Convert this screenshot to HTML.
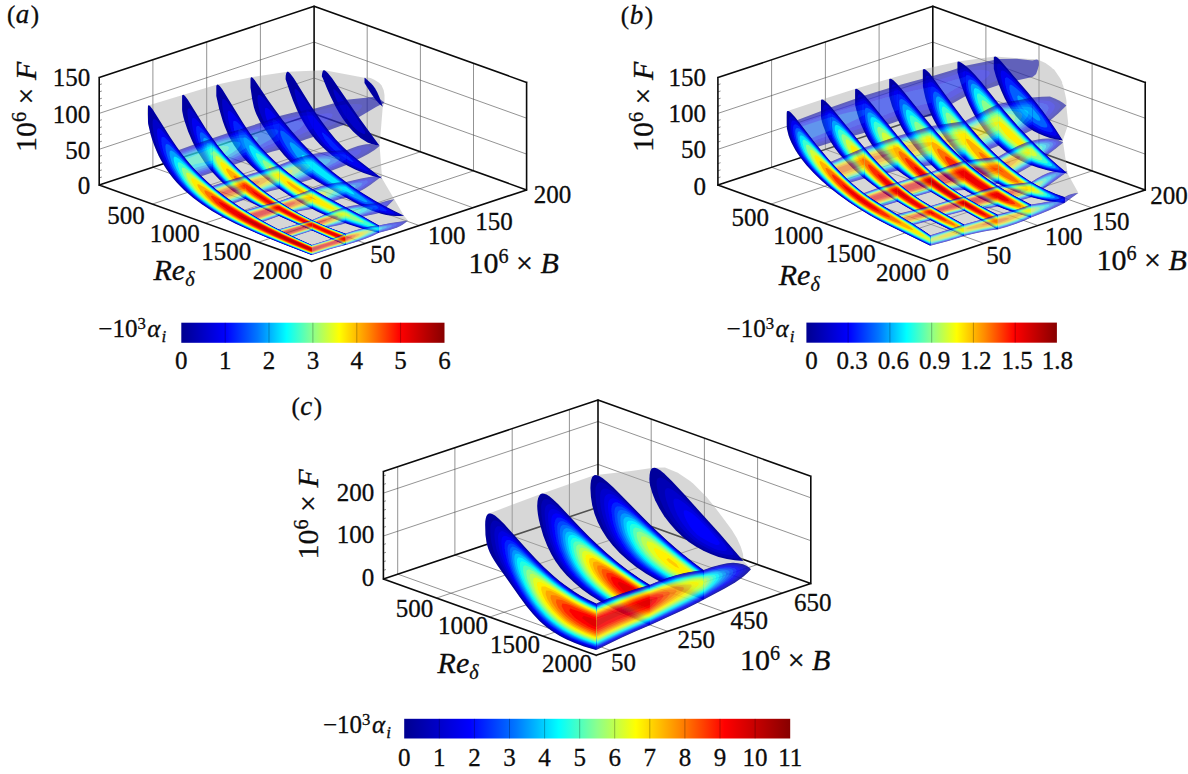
<!DOCTYPE html><html><head><meta charset="utf-8"><style>html,body{margin:0;padding:0;background:#fff}svg{display:block}</style></head><body><svg width="1188" height="774" viewBox="0 0 1188 774">
<defs><linearGradient id="jet" x1="0" x2="1" y1="0" y2="0"><stop offset="0.0" stop-color="#00008f"/><stop offset="0.17" stop-color="#0000ff"/><stop offset="0.29" stop-color="#0078ff"/><stop offset="0.4" stop-color="#00ffff"/><stop offset="0.5" stop-color="#8cff8c"/><stop offset="0.6" stop-color="#ffff00"/><stop offset="0.71" stop-color="#ff8c00"/><stop offset="0.83" stop-color="#ff0000"/><stop offset="1.0" stop-color="#870000"/></linearGradient><filter id="bl" x="-2%" y="-2%" width="104%" height="104%"><feGaussianBlur stdDeviation="0.55"/></filter></defs>
<style>
text{font-family:"Liberation Serif",serif;fill:#0c0c0c;font-size:25px;stroke:#0c0c0c;stroke-width:0.3px}
.i{font-style:italic}
.L{font-size:30px}
.g{fill:none;stroke:#4a4a4a;stroke-width:0.6}
.b{fill:none;stroke:#0a0a0a;stroke-width:1.6;stroke-linecap:square}
</style>
<rect width="1188" height="774" fill="#fff"/>
<path class="g" d="M152.9 167.3L152.9 59.8M152.9 167.3L365.4 243.4M206.7 149.4L206.7 41.9M206.7 149.4L419.1 225.5M260.4 131.6L260.4 24.1M260.4 131.6L472.9 207.7M367.2 132.8L367.2 25.3M152.3 204.1L367.2 132.8M420.4 151.8L420.4 44.3M205.4 223.1L420.4 151.8M473.5 170.9L473.5 63.4M258.6 242.2L473.5 170.9M99.2 149.3L314.1 78M314.1 78L526.6 154.1M99.2 113.4L314.1 42.1M314.1 42.1L526.6 118.2M99.2 177.9L101.9 177M99.2 170.8L101.9 169.9M99.2 163.6L101.9 162.7M99.2 156.4L101.9 155.5M99.2 142.1L101.9 141.2M99.2 134.9L101.9 134M99.2 127.8L101.9 126.9M99.2 120.6L101.9 119.7M99.2 106.3L101.9 105.4M99.2 99.1L101.9 98.2M99.2 91.9L101.9 91M99.2 84.8L101.9 83.9"/>
<path class="b" d="M99.2 185.1L311.7 261.2M311.7 261.2L526.6 189.9M99.2 185.1L314.1 113.8M314.1 113.8L526.6 189.9M99.2 185.1L99.2 77.6M314.1 113.8L314.1 6.3M526.6 189.9L526.6 82.4M99.2 77.6L314.1 6.3M314.1 6.3L526.6 82.4"/>
<path fill="#a6a6a6" fill-opacity="0.45" d="M217.3 84.6l-69.1 20.8-.6 1-.5 2.6-.1 4.9 1.2 10.1 2.9 12.3 3.7 10.7 4.9 10.8 5.3 9.3 6.2 8.8 6.2 7.3 6.9 7 7.6 6.7 9.6 7.2 9.1 6 11.3 6.5 12.2 6.3 13.2 6.2 25.2 10.6 39.2 15.3 18.1-5.8 16.8-4.4 11.3-3.5 11.8-4.2 9.3-4.4 16.5-4.5 7-3.4 5.4-4.4-4.1-5-21.7-37-2.5-32.6 3.1-38.2 1.8-5.5 0-7.2-.8-4.6-2.2-5-2.4-2.6-5.2-3.2-3.4-1.4-2.7-.5-3.4 .1-4-.6-35.9-6.8-37 1.4-36.3 5.5z"/>
<g filter="url(#bl)">
<g opacity="0.55"><path fill="#0000a2" d="M380.4 104.8l0-.3 0-4.9 4 2.9-1.9 1.5z"/></g>
<g><path fill="#0000a2" d="M364.5 83.1l0-5.3 .6 .2 .9 .7 5.2 4.8 2 2.3 1.8 2.5 2.1 3.7 1.9 4.2 1.8 4.8 2 5.8-4.1-3.6-4.1-4.8-3.5-4.9z"/></g>
<g opacity="0.55"><path fill="#0000a2" d="M346.8 124.1l0-24.3 21.1-2.4 4.9-.3 2.1 .2 2.2 .4 1.6 .7 1.7 1.2 0 5.2-4.4 2.3-16.8 10z"/><path fill="#0000c9" d="M346.8 118.4l0-14.1 8.9-.3 3.9 .2 1.9 .6 .6 .9-.3 1.2-1.1 1.5-2 1.9-3.4 2.7z"/></g>
<g><path fill="#0000a2" d="M321.9 77.1l0-1 0-.9 .2-1.5 .6-2.4 .4-.6 .4-.4 .6 0 .8 .2 1.3 .9 1.6 1.5 4.3 5.4 25.8 37.6 10.7 14.9 11 15-4.1-.7-4-1.1-3.9-1.6-3.6-2.1-3.6-2.4-3.7-3.1-3.6-3.4-3.8-4.2-3.5-4.4-3.3-4.6-3.3-5.3-3.3-5.7-5.3-10.6-3.3-7.4-4.6-11.3-.7-1.1z"/><path fill="#0000c9" d="M333.5 91.2l-.2-1.6 .4-.7 1.3 .8 3.3 3.6 7.2 9.2 9.2 12.6 7.1 10.6 3.2 5.9 .4 1.3-.2 .7-.6 .4-1.1-.1-.9-.3-1.7-.8-3-1.9-4.4-4-4.5-5.4-5.1-7.5-4.7-8.5-3.5-7.4-1.5-4.1z"/></g>
<g opacity="0.55"><path fill="#0000a2" d="M313.2 136.9l0-27.9 33.6-9.2 0 24.3-7.1 2.1-7.5 2.8-8.7 3.5z"/><path fill="#0000c9" d="M313.2 133.6l0-21.9 20.6-5.1 7.6-1.6 5.4-.7 0 14.1z"/><path fill="#0000f0" d="M313.2 128.5l0-12.9 4.9-1 8.9-1.3 4.3 .2 1.4 1.2-.7 1.8-2.4 2.4-1.2 .8-3.8 2.6z"/></g>
<g opacity="0.55"><path fill="#0000a2" d="M346.4 164.9l0-14.7 6.5-2.5 4.9-1.7 4.3-1.1 3.8-.7 3.8-.2 3.2 .2 3.3 .7 3.4 1.2-5 3.9-6 3.7-7.6 4z"/><path fill="#0000c9" d="M346.4 163.6l0-12.4 8.1-2.9 6.8-1.7 3-.3 2.7-.1 1.7 .2 1.2 .4 .7 .4 .2 .5-.1 .6-1.1 1.4-3.7 3-8.7 5.2z"/><path fill="#0000f0" d="M346.4 161.9l0-9.3 4.9-1.6 4.9-1.1 3.1-.3 1.3 .4 .5 .6-.3 .9-.7 1.1-1.4 1.4-4.7 3.3z"/><path fill="#0024ff" d="M346.4 158.9l0-3.9 2.2-.2 .9 .5-.5 1.1-1.5 1.6z"/></g>
<g opacity="0.55"><path fill="#0000a2" d="M379.6 178l0-1.4 2.3-.3-1.2 .9z"/></g>
<g><path fill="#0000a2" d="M285.6 79.2l.1-3.4 .5-2.6 .8-1.3 .4-.2 .7 .1 1 .7 1.3 1.2 3.4 4.6 17 27.1 9.9 14.6 7.8 10.5 7.3 8.9 7.3 7.6 7.7 7.1 7.4 6 23.9 18.5-9.5-2.6-8.9-3-8.5-3.6-8-4-7.5-4.5-7-4.9-6.5-5.4-6.1-5.8-5-5.6-5.2-6.6-4.6-7-4.5-7.8-3.9-8-3.8-9-3.2-8.7z"/><path fill="#0000c9" d="M294.6 91.8l-.1-1.5 .3-1.2 .7-.3 1.4 .9 2.6 2.8 6.5 8.9 11.5 16.4 6.4 8.5 8.8 10.8 8.3 9 6.2 5.9 6.5 5.5 25.7 19.6-8.3-2.6-8.2-3-7.7-3.3-6.6-3.3-6.9-4.2-5.9-4-5.5-4.5-5.8-5.3-5.4-5.9-5-6.2-4.2-6-4.2-7.3-3.8-7.6-3.4-8.2-2.7-8.2z"/><path fill="#0000f0" d="M306.5 112.9l-.2-2.1 .5-.9 1.7 .8 3.4 3.4 16 19.3 6.7 7.5 5.1 5.4 4.7 4.6 4.2 3.7 17.2 13.8 1.7 1.5 .5 .7-.3 .3-2.6-.4-5.3-1.9-5.3-2.3-5.2-2.7-5.6-3.4-4.6-3.2-4.5-3.4-4.3-3.8-4.1-4.1-3.9-4.4-3.8-4.8-3.4-5-2.8-4.6-3.1-6.1-1.7-4.5z"/><path fill="#0024ff" d="M322.6 135l-.7-2.3 1.3 0 4.1 3.5 12.4 12.5 6.8 6.4 5.5 4.8 1.6 1.9-.8 .2-1.3-.5-2.1-.9-3.6-2.1-5.4-3.5-5.8-4.7-4.1-3.9-3.8-4.7-1.8-2.5-1-1.8z"/></g>
<g opacity="0.55"><path fill="#0000a2" d="M279.6 149.8l0-33.7 10.9-2.9 8.6-2 7.6-1.4 6.5-.8 0 27.9-7 2.3-8.2 3z"/><path fill="#0000c9" d="M279.6 147.4l0-29.4 10.9-2.8 8.1-1.8 7.6-1.2 7-.5 0 21.9-15.7 6.1z"/><path fill="#0000f0" d="M279.6 144.3l0-24 11.4-2.6 9.2-1.6 6-.6 7 .1 0 12.9-5.8 3z"/><path fill="#0024ff" d="M279.6 140.2l0-16.6 8.6-1.8 5-.5 4.9-.3 4.5 .7 1.3 1.6-.7 2-2.4 2.6-4.7 3.4-9 5.1z"/></g>
<g opacity="0.55"><path fill="#0000a2" d="M312.8 179l0-24.9 8.7-1.6 8.7-1.3 7.5-.6 8.7-.4 0 14.7-19.5 7.7z"/><path fill="#0000c9" d="M312.8 177.9l0-23 8.7-1.6 8.7-1.2 7.5-.6 8.7-.3 0 12.4-20.6 8.4z"/><path fill="#0000f0" d="M312.8 176.8l0-21 9.2-1.7 8.7-1 8.7-.6 7 .1 0 9.3-4.9 2.2-17.3 7.4z"/><path fill="#0024ff" d="M312.8 175.6l0-18.8 9.8-1.6 10.3-1 3.6-.2 4.5 .2 2 .1 3.4 .7 0 3.9-3.7 2.5-4.9 2.5-14.7 6.6z"/><path fill="#005fff" d="M312.8 174.1l0-16.1 9.2-1.4 9.9-.7 5 .3 2.4 .7 .7 1-.3 1.1-1.4 1.4-2.5 1.8-4.4 2.4z"/><path fill="#00a1ff" d="M312.8 172.2l0-12.7 6.8-1 6.6-.1 3.3 .5 1.1 1-.6 1.4-1.8 1.8-3.5 2.4-5.7 3.3z"/><path fill="#00e9ff" d="M312.8 169.7l0-8.2 2.3-.3 4.1 .3 1.2 1.1-.6 1.6-2.2 2.2z"/></g>
<g opacity="0.55"><path fill="#0000a2" d="M346 197.7l0-15.7 15.2-3.5 8.1-1.5 6-.7 4.3 .3 0 1.4-8.7 6.5-4.8 3.3-3.8 2.2-4.4 2.3z"/><path fill="#0000c9" d="M346 197l0-14.5 15.2-3.3 7.6-1.4 5.9-.7 3.3-.1 1.5 .2-10.2 7.5-6.5 4.2-7 3.7z"/><path fill="#0000f0" d="M346 196.3l0-13.3 14.1-2.8 6.5-1.1 4.5-.5 1.5 0 .7 .2 .3 .3-.6 1-2.1 2-3.8 2.8-3.7 2.6-7.1 4z"/><path fill="#0024ff" d="M346 195.4l0-11.7 12.5-2.3 5.4-.7 2.5-.1 1.1 .3 .4 .4-.2 .7-.6 .9-1.2 1.1-1.9 1.6-3.3 2.3-6.3 3.5z"/><path fill="#005fff" d="M346 194.5l0-10 4.6-.8 7.3-.9 2.1-.1 1.6 .2 .5 .6-.2 .8-.9 1.1-3.1 2.4-6.2 3.8z"/><path fill="#00a1ff" d="M346 193.2l0-7.7 3.1-.5 4-.2 2.1 .2 .7 .7-.7 1.3-.8 .9-1.9 1.4-3.8 2.5z"/><path fill="#00e9ff" d="M346 191.5l0-4.7 2.8 .2 .8 .7-.4 1.1-1.4 1.4z"/></g>
<g opacity="0.55"><path fill="#0000a2" d="M379.2 213.1l0-10 8.7-2.6 6.4-1.3-7.5 7.5-3.8 3.4z"/><path fill="#0000c9" d="M379.2 212.4l0-8.7 9.1-2.7 3.8-.8-.1 .5-.6 .7-4.6 4.6-3.8 3.3z"/><path fill="#0000f0" d="M379.2 211.5l0-7.1 7-1.9 1.8-.1 .2 .2-.4 .9-1.7 1.9-3.1 2.9z"/><path fill="#0024ff" d="M379.2 210.2l0-4.8 2.9-.5 1 0 .3 .4-.7 1.4z"/></g>
<g><path fill="#0000a2" d="M250.5 87.4l0-8.7 .4-1.1 .4-.4 .4 0 1.2 .7 1.7 2 13.5 20 6.8 9.7 7.9 10.6 8.2 10.1 10 11.4 9.3 9.9 9.1 8.8 9.8 8.5 8.3 6.7 8.7 6.5 9.1 6.3 9.5 6.1 9.9 6 9 5.1 10.7 5.5 9.7 4.7-4.2 .3-4.1 0-4.1-.4-5.4-.8-5.2-1.2-5.1-1.6-5.1-1.9-4.9-2.1-6-2.9-7.1-3.7-35.3-19.7-11.6-7.3-5-3.5-4.7-3.8-3.8-3.3-4.3-4.3-4.1-4.4-4.5-5.4-4.7-6.2-4.8-6.8-6.9-10.2-3.5-5.5-3.2-6.5-1.4-3.5-1.2-3.9-1.7-8z"/><path fill="#0000c9" d="M257.7 102.1l-.2-3.8 .1-1.7 .5-1.3 .9-.6 1.8 .7 3.9 3.7 22.1 27.7 8.7 10 8.8 9.5 6.9 7 7.3 7 6.7 5.9 8.1 6.7 7.4 5.7 7.7 5.6 8 5.5 7.2 4.6 14.9 9 9.2 5 11.4 5.8 1 .6 0 .3-2 .3-5.1-.2-4-.5-5.3-1-3.9-1-5.1-1.7-5-1.9-4.9-2.2-6-2.9-7-3.7-31.4-17.6-11-6.9-9.2-6.7-3.9-3.3-3.8-3.5-6.4-6.7-6.5-8.1-6.9-10.2-5.6-9.2-2.7-5.1-2-4.3-1.9-4.7-1.4-4.4-.8-3.5z"/><path fill="#0000f0" d="M264.9 110.4l.2-2.1 1-.6 2 .7 3 2.6 5.5 5.9 15.9 18 12.6 13.4 6.1 5.9 7.3 6.8 6.7 5.9 7.1 5.8 12.8 9.6 13.7 9.5 15.9 10 18.7 10.4 .9 .7 .3 .4-.2 .3-1.5 .2-3.9-.3-7.9-1.5-8.9-2.9-5-2-4.8-2.2-14-7.3-26.1-14.9-10.2-6.4-9.5-6.9-7.1-6.2-5.9-6-6.2-7.5-5.6-8.2-2.3-3.7-3.4-6-3.8-8.2-1.7-4.7-1.1-3.6-.5-3z"/><path fill="#0024ff" d="M272.7 123.5l-.3-2.5 .5-1.4 1.5 0 3 1.9 6.1 5.9 12 12.4 12.2 12.2 10.8 10 8.7 7.4 10.3 8 13.2 9.6 15.3 10.2 18.5 11.4 1.8 1.3 .5 .7-.3 .4-1 .2-3.1-.4-7.2-1.7-8-3-7.2-3.3-13.8-7.3-19-10.9-11.5-7.1-8-5.7-6.7-5.5-5.5-5.2-5.2-5.6-4.9-6.3-3.3-4.8-4.4-7.6-2.6-5.7-1.6-4.3z"/><path fill="#005fff" d="M280.2 131.7l.7-1.3 2.3 .8 .9 .6 4.1 3.3 25.7 23.9 6.5 5.7 6.8 5.6 9.2 7.2 13.1 9.5 9.3 6.4 15.5 10.4 2.5 1.9 .8 1-.4 .5-1.4 .1-2.7-.5-4.6-1.5-7.3-3-7.1-3.5-12.3-6.7-13.6-8.1-11.6-7.3-6.3-4.5-6-5-6.5-6.2-3.8-4.2-4.4-5.6-4.2-6.4-2.6-4.9-1-2.1-1.2-3.6z"/><path fill="#00a1ff" d="M289.6 142.9l1.1-.9 3.6 1.9 8.5 7 16.6 14.2 7.8 6.4 9.2 7 26.1 18.8 3.9 3 1.2 1.4-.6 .5-2.1-.3-3.7-1.3-7.1-3.2-5.7-2.9-7.7-4.3-10.5-6.4-9.8-6.3-6.5-4.5-4.5-3.6-5.1-4.7-4.1-4.3-3.9-4.6-4.2-6.3-2-4.1z"/><path fill="#00e9ff" d="M302.6 157.8l-1-2.7 1.8-.1 5.7 3.6 18.1 14.4 19.7 14.4 6 4.9 1.7 2-.9 .3-3.1-1-7.7-3.8-4.4-2.5-9.3-6-12.6-8.6-5.4-4.5-5.2-5.5z"/></g>
<g opacity="0.55"><path fill="#0000a2" d="M246 160.6l0-33.1 15.2-4.9 18.4-6.5 0 33.7-7 1.8-8.1 2.4-8.7 3z"/><path fill="#0000c9" d="M246 158.9l0-30.1 33.6-10.8 0 29.4-7 2.1-8.7 2.8z"/><path fill="#0000f0" d="M246 157l0-26.7 33.6-10 0 24-14.1 5.1z"/><path fill="#0024ff" d="M246 154.7l0-22.6 24.4-6.7 9.2-1.8 0 16.6-5.8 2.7z"/><path fill="#005fff" d="M246 151.9l0-17.5 15.2-3.7 10.7-1.6 4.9 .5 1.6 1.6-.8 2.3-2.7 2.9-5.3 3.7-9.5 5.2z"/><path fill="#00a1ff" d="M246 147.6l0-9.9 3.3-.5 6.5-.6 2.4 1.2-1.2 2.5-2.3 1.8-2.2 1.7z"/></g>
<g opacity="0.55"><path fill="#0000a2" d="M279.2 188.9l0-23.8 10.3-4.2 8.7-3.1 7.6-2.2 7-1.5 0 24.9z"/><path fill="#0000c9" d="M279.2 188.3l0-22.6 9.8-4 8.7-3.1 8.1-2.3 7-1.4 0 23z"/><path fill="#0000f0" d="M279.2 187.6l0-21.4 9.8-3.9 8.7-3 8.1-2.2 7-1.3 0 21z"/><path fill="#0024ff" d="M279.2 186.9l0-20.2 9.8-3.8 8.1-2.7 8.1-2.1 7.6-1.3 0 18.8-15.1 5.2z"/><path fill="#005fff" d="M279.2 186.2l0-18.9 9.8-3.7 8.7-2.7 7.5-1.8 7.6-1.1 0 16.1-16.8 6.2z"/><path fill="#00a1ff" d="M279.2 185.3l0-17.3 9.3-3.4 8.6-2.6 9.2-1.9 6.5-.6 0 12.7-17.4 7.2z"/><path fill="#00e9ff" d="M279.2 184.4l0-15.7 9.8-3.3 8.1-2.2 4.9-1 5.4-.7 5.4 0 0 8.2-6.1 3.2-9.5 4.3z"/><path fill="#3affd0" d="M279.2 183.3l0-13.8 9.8-3.1 8.7-2 6.9-.5 4.2 .5 1.3 1.2-.7 1.8-2.3 2.2-4.2 2.7-8.5 4.5z"/><path fill="#8cff8c" d="M279.2 182l0-11.4 7.6-2.3 8.7-1.7 4.5 .2 1.4 1.2-.8 1.8-1.3 1.3-1.1 1.1-3.8 2.4-7 3.7z"/><path fill="#d0ff3a" d="M279.2 180.4l0-8.6 5.9-1.5 3.9-.4 2.1-.2 1.7 1-.9 1.9-3.2 2.6-6.4 3.7z"/><path fill="#ffed00" d="M279.2 177.9l0-4.1 1.3-.2 2.3 .6-1.2 2z"/></g>
<g opacity="0.55"><path fill="#0000a2" d="M312.4 209l0-20.1 9.3-3.2 8.1-2 8.1-1.3 8.1-.4 0 15.7-4.8 1.1-6.5 2z"/><path fill="#0000c9" d="M312.4 208.5l0-19.2 9.3-3.1 8.1-2 8.1-1.3 8.1-.4 0 14.5-5.4 1.3-5.9 1.9z"/><path fill="#0000f0" d="M312.4 208l0-18.3 9.3-3.1 8.1-2 8.1-1.2 8.1-.4 0 13.3-5.4 1.3-5.9 1.9z"/><path fill="#0024ff" d="M312.4 207.5l0-17.4 8.7-2.8 8.7-2.1 8.6-1.2 7.6-.3 0 11.7-5.9 1.6-6 1.9z"/><path fill="#005fff" d="M312.4 206.9l0-16.3 8.7-2.8 8.7-2 4.7-.7 3.9-.4 7.6-.2 0 10-5.9 1.6-6 2z"/><path fill="#00a1ff" d="M312.4 206.2l0-15.1 8.3-2.6 9.1-2 9.2-1.1 7 .1 0 7.7-6.5 2-5.4 1.9z"/><path fill="#00e9ff" d="M312.4 205.5l0-13.8 8.7-2.6 8.1-1.7 5.5-.6 5.2-.4 6.1 .4 0 4.7-12.4 4.7z"/><path fill="#3affd0" d="M312.4 204.7l0-12.4 8.2-2.3 9.3-1.7 7.2-.3 4.2 .4 1.3 .8-.7 1.1-2.3 1.5-19 9.2z"/><path fill="#8cff8c" d="M312.4 203.8l.1-10.8 8.6-2.2 5.4-.8 2.2-.2 3.8 .3 1.3 .8-.7 1.3-2.2 1.7-3.8 2.4-6 3.3z"/><path fill="#d0ff3a" d="M312.4 202.8l0-9 4.4-1 4.7-.8 3.8 0 1.3 .8-.7 1.4-2.1 2-4.1 2.6z"/><path fill="#ffed00" d="M312.4 201.4l0-6.5 1.7-.3 4.5-.4 1.4 .8-.7 1.5-2.5 2.1z"/><path fill="#ffaf00" d="M312.4 198.8l0-1.1 0-.6 .8 .3z"/></g>
<g opacity="0.55"><path fill="#0000a2" d="M345.7 223.3l0-16.3 5.9-1.3 6.5-.9 21.1-1.7 0 10-3.8 1-6.5 1.2-7 1.8-7.6 2.6z"/><path fill="#0000c9" d="M345.7 222.8l0-15.4 6.5-1.4 6.5-.9 20.5-1.4 0 8.7-3.8 1-7.5 1.6-6.5 1.8-7.1 2.4z"/><path fill="#0000f0" d="M345.7 222.3l0-14.5 7-1.4 7-1 19.5-1 0 7.1-3.8 1.1-7.5 1.8-7.1 2-7 2.5z"/><path fill="#0024ff" d="M345.7 221.8l0-13.6 7.5-1.5 7.6-.9 11.9-.5 6.5 .1 0 4.8-4.3 1.6-9.2 2.5-6.5 2-6 2.2z"/><path fill="#005fff" d="M345.7 221.2l0-12.5 9.4-1.7 5.2-.6 5.4-.2 8.1 .1 2.6 .3 1.4 .5 .5 .5-.3 .7-.8 .8-1.4 .9-2.4 1.1-15.3 4.9-5.9 2.3z"/><path fill="#00a1ff" d="M345.7 220.5l0-11.3 8.6-1.5 8.1-.7 4.4 0 3.8 .3 1.8 .5 .5 .6-.3 .7-.9 .8-1.9 1-13.9 5.1z"/><path fill="#00e9ff" d="M345.7 219.7l0-9.9 6.5-1.1 6.9-.7 5 .1 2.5 .4 .7 .6-.4 .8-1.3 1z"/><path fill="#3affd0" d="M345.7 218.8l0-8.3 5.4-.9 6-.4 3 .3 .9 .6-.5 .9-1.6 1.2z"/><path fill="#8cff8c" d="M345.7 217.7l0-6.3 4.2-.5 1.7 0 1.8 0 1.1 .7-.5 1-2 1.5z"/><path fill="#d0ff3a" d="M345.7 215.9l0-3 .9-.1 1.3 .6-.7 1.2z"/></g>
<g opacity="0.55"><path fill="#0000a2" d="M378.9 232.7l0-7.3 11.9-2.4 17.1-2.6-2.5 2.3-2.2 1.6-2.7 1.7-2.7 1.3-6.5 2.2z"/><path fill="#0000c9" d="M378.9 232.4l0-6.8 7.5-1.5 7.1-1.2 10.3-1.4 1.3 0 .3 .1-1.1 1.2-2.2 1.6-2.3 1.4-3.1 1.4-6.5 2.2z"/><path fill="#0000f0" d="M378.9 232.1l0-6.2 7-1.4 6.5-.9 7.2-.8 1.3 0 .7 .3-.4 .7-1.7 1.2-4.9 2.3-5.5 1.9z"/><path fill="#0024ff" d="M378.9 231.7l0-5.5 5.4-1 5.9-.8 5.4-.3 1 .1 .3 .3-.7 .9-1 .6-3.3 1.6-4.9 1.7z"/><path fill="#005fff" d="M378.9 231.3l0-4.8 8.8-1.2 2.5-.1 1.3 .1 .4 .4-.2 .4-.7 .6-2.4 1.2z"/><path fill="#00a1ff" d="M378.9 230.8l0-3.9 6.2-.6 1.5 .1 .5 .3-.3 .5-.8 .6-1.6 .8z"/><path fill="#00e9ff" d="M378.9 230l0-2.5 3-.1 .6 .4-.4 .5-.9 .7z"/></g>
<g><path fill="#0000a2" d="M216.3 96.1l0-10.3 .6-.9 .8-.3 .8 .4 1.3 1.1 2.8 3.7 20.5 33.3 6 8.8 5.6 7.7 6.1 7.4 6.5 7 7 6.7 7.4 6.6 6.7 5.4 7.1 5.2 7.3 5.1 7.7 4.8 14.9 8.5 36.4 19.4 17.1 9.7 0 7.3-15.5-3.8-8-2.4-7.8-2.6-15-5.6-7.2-3.1-8.2-3.8-6.7-3.4-7.7-4.1-7.3-4.3-7.1-4.5-6.7-4.5-7.4-5.3-6-4.6-6.6-5.4-9.5-8.4-4.7-4.7-3.7-4-3.4-4.1-3.2-4.3-3-4.4-2.8-4.6-2.6-4.8-1.8-4-2.2-5.2-1.9-5.4-3.7-12.3z"/><path fill="#0000c9" d="M222.2 105.2l-.1-3.1 .1-1.6 .3-1.2 .8-.5 1.4 .5 .5 .5 2.2 2.2 1.4 1.9 6 8.2 13.5 19.9 4.7 6.5 5.1 6.2 5.4 6.1 6.8 6.7 6.1 5.7 7.5 6.4 6.8 5.3 7.2 5.2 6.2 4.1 7.7 4.7 15.1 8.5 34.9 18.6 17.1 9.6 0 6.8-15.5-3.9-15.8-5-13.6-5.1-14.1-6.2-13.3-6.7-13.5-7.9-12.5-8.3-6.3-4.7-6-4.7-10.2-8.7-5.1-4.8-3.9-4.1-6.7-7.7-2.7-3.7-3.1-4.8-3-5.1-2.7-5.4-2.1-4.6-1.8-5.1-1.8-5.5-1.2-4.5-1.3-6.6z"/><path fill="#0000f0" d="M228.2 119l-.5-5.5 .2-1.8 .7-.9 1.4 .2 2.7 2.2 3.9 4.4 15.6 20.9 5.1 6.1 4.4 5 5.6 5.7 7 6.6 7.4 6.3 6.7 5.4 11.9 8.5 6.3 4.1 7.9 4.7 13.8 7.7 33.5 17.8 17.1 9.5 0 6.2-15.5-4.1-14.3-4.5-13.6-5-12.9-5.5-12.1-6-12.6-7-11.7-7.5-10.9-7.8-9.9-8-9-8.3-7.3-7.8-3.8-4.5-2.9-3.9-3.3-5.2-2.5-4.5-1.8-3.6-2.3-5.2-2.1-6-1.1-3.6z"/><path fill="#0024ff" d="M233.9 128.9l-.8-5.8 .4-1.8 1-.6 2 .9 3.7 3.5 15.3 18.6 4.4 4.9 4.6 4.7 4.8 4.6 6 5.5 12 9.8 7 5.2 6 4.2 6.3 4 7.9 4.7 13.8 7.7 31.9 16.9 18.7 10.3 0 5.5-15.5-4.2-12.7-4-12.2-4.4-11.6-4.8-11.1-5.1-11.7-6.2-11-6.5-10.3-7-9.5-7.2-9.8-8.4-8-7.8-4.1-4.6-3.1-3.8-4.5-6.2-2.7-4.6-2-3.8-2.4-5.3-1.4-3.8z"/><path fill="#005fff" d="M238.4 133l-.1-1.9 .4-1.6 1.3-.3 2.7 1.8 5.5 5.7 9.9 11.1 10.2 10 6 5.4 7.4 6.1 7.9 6.1 7.1 5.2 11.2 7.3 12 7 12.7 6.9 30.8 16.3 15.5 8.4 0 4.8-15.5-4.3-12.7-4.1-10.7-3.8-11.7-4.8-11.1-5.1-10.6-5.4-11.1-6.5-9.3-6.1-9.8-7.2-8.1-6.8-8.4-8.1-4.4-4.6-2.5-3-5.9-8-4.1-7.1-2.4-5.3-.9-2.6-.5-1.5z"/><path fill="#00a1ff" d="M243.8 141.5l-.4-3.1 .6-1.3 1.8 .4 3.8 3.1 12.1 12.1 9.6 8.6 11.5 9.5 12.7 9.5 11.1 7.3 13.3 7.8 59 31.5 0 3.9-15.5-4.5-11.2-3.5-10.7-3.9-11.8-4.6-9.8-4.4-10.7-5.4-10.1-5.7-8.4-5.2-9-6.4-8.4-6.7-6.9-6.3-7.4-7.7-4.3-5.1-4.9-6.8-3.2-5.7-1.9-4.5z"/><path fill="#00e9ff" d="M250.9 152l-1.4-3.6-.4-2.5 .8-1 2.5 1.2 18.9 16.1 10.4 8.5 10.2 7.6 8.4 5.8 11.5 7.2 13.6 7.7 53.5 28.5 0 2.5-15.5-4.5-9.6-3-12.3-4.3-10.4-4.1-9.8-4.3-8.2-3.9-9-4.9-8.6-5.1-8.2-5.5-7.7-5.8-6.3-5.2-6.9-6.6-6.5-7.3-4.4-5.7-1.9-2.9-1.4-2.4z"/><path fill="#3affd0" d="M256.4 156.5l-.8-2.9 1-.7 3.2 1.6 6 4.5 15.9 12.5 9 6.6 7.2 5.1 7.5 4.8 7.7 4.7 9.5 5.4 46.6 25 5.6 3.2 1.7 1.3-.9 .1-3.1-.6-13.9-4-11-3.6-11.2-4.1-9.5-3.9-8.4-3.8-9.3-4.7-8.9-5-7.2-4.5-5.8-4-7.7-6-6.3-5.4-6.9-7.1-4.7-5.7-3.8-5.7z"/><path fill="#8cff8c" d="M263 163l-.6-2.3 1.2-.6 3.3 1.6 7 4.8 8.9 6.7 11.5 8.2 11.1 7.3 7.7 4.7 12.3 7 29.5 16 7.1 4.2 2.2 1.7-1.1 .3-3.9-.8-7.6-2.2-11.6-3.9-8.9-3.4-8.5-3.6-6.8-3.2-9.2-4.8-7.5-4.3-6.1-3.8-5.7-4.1-6.7-5.3-5.9-5.3-5.4-5.7-2.9-3.8-1.5-2z"/><path fill="#d0ff3a" d="M269.5 168.9l-.7-2.2 1.3-.4 4.1 2.1 22.5 15.5 7.4 4.9 9 5.4 34.7 19.9 2.8 2.2-1.5 .4-4.9-1.2-9.9-3.3-7.4-2.8-7-3-5.4-2.6-12.9-7-6.1-3.8-4.8-3.1-4.5-3.5-4.5-3.7-5.3-4.9-3.1-3.5-2-2.5z"/><path fill="#ffed00" d="M277 175.3l-1-2.4 2 .2 6.9 3.9 19.2 12.9 27.5 16.6 3.4 2.7-1.8 .3-2.1-.6-3.6-1-6.2-2.4-5.5-2.4-5.3-2.7-10.2-5.7-8.4-5.4-5.7-4.5-5.5-5.1z"/><path fill="#ffaf00" d="M288.1 183.7l-1.7-2.6 3.2 1 1.1 .6 26.3 17.5-5.3-1.6-6.3-3.3-6.3-3.6-7.2-4.7z"/></g>
<g opacity="0.55"><path fill="#0000a2" d="M212.5 172.4l0-34.1 18.4-6.2 15.1-4.6 0 33.1z"/><path fill="#0000c9" d="M212.5 171.2l0-32 18.4-6 15.1-4.4 0 30.1z"/><path fill="#0000f0" d="M212.5 170l0-29.9 17.3-5.5 8.7-2.4 7.5-1.9 0 26.7-16.7 6.7z"/><path fill="#0024ff" d="M212.5 168.6l0-27.4 9.7-3 9.2-2.7 9.2-2.3 5.4-1.1 0 22.6-18.4 8z"/><path fill="#005fff" d="M212.5 167.1l0-24.7 9.2-2.8 9.2-2.4 9.7-2.1 5.4-.7 0 17.5-6.5 3.4-10 4.7z"/><path fill="#00a1ff" d="M212.5 165.3l0-21.4 11.9-3.4 7-1.5 8.2-1.3 6.4 0 0 9.9-1 .9-6.1 4.1-9.6 5.2-8.2 3.8z"/><path fill="#00e9ff" d="M212.5 163.2l0-17.7 7-1.8 5.9-1.4 8.7-.9 5 .7 1.4 1.6-.7 2.3-2.5 2.9-4.6 3.7-8.3 4.9z"/><path fill="#3affd0" d="M212.5 160.5l0-12.8 8.6-1.8 2.2-.1 4 .1 1.8 1.6-.9 2.4-3.2 3.2-7 4.5z"/><path fill="#8cff8c" d="M212.5 155.6l0-3.9 2.2 .7-1.7 2.7z"/></g>
<g opacity="0.55"><path fill="#0000a2" d="M245.7 199.3l0-23.7 33.5-10.5 0 23.8-7.5 1.8-8.2 2.4-8.1 2.6z"/><path fill="#0000c9" d="M245.7 198.8l0-22.8 17.3-5.5 16.2-4.8 0 22.6-7.5 1.8-8.2 2.4-8.1 2.7z"/><path fill="#0000f0" d="M245.7 198.3l0-21.9 17.3-5.4 16.2-4.8 0 21.4-7.5 1.9-8.2 2.5-8.1 2.7z"/><path fill="#0024ff" d="M245.7 197.8l0-21 17.3-5.4 16.2-4.7 0 20.2-7 1.8-8.1 2.5-8.7 3z"/><path fill="#005fff" d="M245.7 197.3l0-20.1 17.3-5.3 16.2-4.6 0 18.9-7 1.8-8.1 2.5-8.7 3.1z"/><path fill="#00a1ff" d="M245.7 196.7l0-19 17.3-5.2 16.2-4.5 0 17.3-7 1.9-8.1 2.7-8.7 3z"/><path fill="#00e9ff" d="M245.7 196.1l0-17.9 15.5-4.7 18-4.8 0 15.7-7.5 2.2-7.6 2.5-8.7 3.1z"/><path fill="#3affd0" d="M245.7 195.4l0-16.7 16.2-4.7 17.3-4.5 0 13.8-7 2.1-7 2.4z"/><path fill="#8cff8c" d="M245.7 194.7l0-15.4 17.3-4.9 16.2-3.8 0 11.4-7 2.3-9.2 3.4z"/><path fill="#d0ff3a" d="M245.7 193.8l0-13.9 18.4-4.8 7-1.7 8.1-1.6 0 8.6-15.7 6z"/><path fill="#ffed00" d="M245.7 192.9l0-12.2 11.3-3 5.5-1.2 9.6-1.9 7.1-.8 0 4.1-2 1.1-8.5 3.8z"/><path fill="#ffaf00" d="M245.7 191.9l0-10.4 14.8-3.4 7.3-.8 2.7 .7-1.4 1.8-4.3 2.8-7.4 3.8z"/><path fill="#ff6f00" d="M245.7 190.6l0-8.1 4.4-1 7.5-1 2.4 .7-1.2 1.8-4.2 2.8z"/><path fill="#ff2a00" d="M245.7 188.6l0-4.5 2.3-.4 2.5 .6-1.3 1.9z"/></g>
<g opacity="0.55"><path fill="#0000a2" d="M278.9 215.9l0-14.5 33.5-12.5 0 20.1-9.7 1.5-7.6 1.5-8.1 1.8z"/><path fill="#0000c9" d="M278.9 215.7l0-14.1 33.5-12.3 0 19.2-9.7 1.6-8.1 1.6-8.1 1.9z"/><path fill="#0000f0" d="M278.9 215.4l0-13.6 33.5-12.1 0 18.3-9.7 1.7-8.1 1.7-8.1 1.9z"/><path fill="#0024ff" d="M278.9 215.1l0-13.1 17.8-6.4 15.7-5.5 0 17.4-17.8 3.5-8.1 2z"/><path fill="#005fff" d="M278.9 214.8l0-12.6 17.8-6.3 15.7-5.3 0 16.3-17.8 3.7-8.1 2z"/><path fill="#00a1ff" d="M278.9 214.5l0-12 17.8-6.3 15.7-5.1 0 15.1-18.9 4.3z"/><path fill="#00e9ff" d="M278.9 214.1l0-11.3 19.5-6.7 14-4.4 0 13.8-18.9 4.5z"/><path fill="#3affd0" d="M278.9 213.7l0-10.6 17.8-6.1 15.7-4.7 .1 12.4-20.1 5.1z"/><path fill="#8cff8c" d="M278.9 213.3l0-9.9 19.5-6.4 9.2-2.7 4.8-1.3 0 10.8-21.1 5.8z"/><path fill="#d0ff3a" d="M278.9 212.9l0-9.1 17.8-5.8 8.7-2.5 7-1.7 0 9z"/><path fill="#ffed00" d="M278.9 212.4l0-8.3 11.3-3.6 9.8-2.8 6-1.5 6.4-1.3 0 6.5-9.9 3.5z"/><path fill="#ffaf00" d="M278.9 211.9l0-7.3 13.1-4.1 10.2-2.5 3.3-.7 3.7-.4 2.3-.2 .9 .4-.1 1.9-3.2 2-1.5 .7-6 2.5z"/><path fill="#ff6f00" d="M278.9 211.3l0-6.3 8.1-2.4 8.4-2.2 7.5-1.2 2.2 .5-1.1 1.5-4 2.2-8.1 3.2z"/><path fill="#ff2a00" d="M278.9 210.5l0-4.8 5.1-1.5 8.4-1.9 .7-.1 2.7 .2-1.4 1.4-4.9 2.5z"/><path fill="#ef0000" d="M278.9 209.4l0-2.9 3.2-.8 3.3-.1-1.7 1.5z"/></g>
<g opacity="0.55"><path fill="#0000a2" d="M312.1 230.5l0-10.4 13-5.7 8.1-3.3 6.5-2.4 6-1.7 0 16.3-4.9 1.4-6 1.4z"/><path fill="#0000c9" d="M312.1 230.3l0-10.1 13-5.6 8.1-3.2 6.5-2.3 6-1.7 0 15.4-5.5 1.6-5.9 1.4z"/><path fill="#0000f0" d="M312.1 230.1l0-9.7 11.9-5.1 8.7-3.5 7-2.4 6-1.6 0 14.5-5.5 1.7-5.9 1.5z"/><path fill="#0024ff" d="M312.1 229.9l0-9.4 11.9-5 8.7-3.4 7-2.4 6-1.5 0 13.6-5.5 1.7-5.9 1.6z"/><path fill="#005fff" d="M312.1 229.7l0-9 11.3-4.7 8.7-3.4 7.6-2.4 6-1.5 0 12.5-5.5 1.8-5.9 1.6z"/><path fill="#00a1ff" d="M312.1 229.4l0-8.5 11.3-4.7 8.7-3.2 7.6-2.4 6-1.4 0 11.3-5.5 1.9-7 2.1z"/><path fill="#00e9ff" d="M312.1 229.2l0-8.1 11.9-4.8 9.2-3.3 6.5-1.9 6-1.3 0 9.9-4.9 1.9-7.1 2.2z"/><path fill="#3affd0" d="M312.1 228.9l0-7.7 11.3-4.4 8.7-3 8.1-2.3 5.5-1 0 8.3-5.5 2.3-7.5 2.5z"/><path fill="#8cff8c" d="M312.1 228.7l0-7.2 11.9-4.6 9.2-3 7-1.8 5.5-.7 0 6.3-2.2 1.1-6 2.5-5.4 1.9-8.1 2.3z"/><path fill="#d0ff3a" d="M312.1 228.4l0-6.7 13.5-5 8.1-2.4 4.7-1.1 2.4-.3 2.9-.3 2 .3 0 3-3.1 2.2-4 1.9-4.3 1.8-5.8 1.9z"/><path fill="#ffed00" d="M312.1 228l0-6 11.3-4.1 8.7-2.6 6.7-1.2 3.1 .1 .9 .7-.5 1.2-1.7 1.5-3.3 1.9-3 1.4-3.1 1.2-5.6 1.9z"/><path fill="#ffaf00" d="M312.1 227.7l0-5.4 11.9-4.1 6.5-1.8 2.6-.5 3.8-.3 1.2 .7-.6 1.2-2.1 1.6-4.1 2.1-8 3z"/><path fill="#ff6f00" d="M312.1 227.3l0-4.7 7.6-2.5 6.9-2 4.8-.7 1.4 .5-.7 1.2-2.6 1.6-2.3 1.1-5.4 2.2z"/><path fill="#ff2a00" d="M312.1 226.7l0-3.7 6.7-2.1 3.6-.9 2.7-.5 1.8 .3-1 1.1-3.3 1.8-5.7 2.3z"/><path fill="#ef0000" d="M312.1 226.1l0-2.6 5.3-1.4 2.4-.1-1.2 1.2-4.3 2z"/></g>
<g opacity="0.55"><path fill="#0000a2" d="M345.3 245.1l0-11.5 10.3-3.4 9.2-2.6 7.6-1.5 6.5-.7 0 7.3-6.5 3.2-7.1 2.9-8.6 2.9z"/><path fill="#0000c9" d="M345.3 244.9l0-11.1 10.3-3.4 9.2-2.5 7.6-1.6 6.5-.7 0 6.8-6.5 3.2-7.1 2.8-8.6 3z"/><path fill="#0000f0" d="M345.3 244.7l0-10.7 9.7-3.2 9.2-2.5 7.6-1.6 7.1-.8 0 6.2-6.5 3.1-7.1 2.9-8.6 3.1z"/><path fill="#0024ff" d="M345.3 244.5l0-10.3 9.2-3 9.2-2.5 8.1-1.7 7.1-.8 0 5.5-7.1 3.4-7.6 3.1-9.2 3.2z"/><path fill="#005fff" d="M345.3 244.3l0-10 9.2-2.9 9.2-2.4 8.1-1.6 7.1-.9 0 4.8-7.1 3.3-7 3-8.7 3.1z"/><path fill="#00a1ff" d="M345.3 244l0-9.5 9.2-2.8 9.7-2.5 7.6-1.4 7.1-.9 0 3.9-8.2 3.8-7 2.9-8 3z"/><path fill="#00e9ff" d="M345.3 243.7l0-9 9.7-2.9 8.7-2.1 7-1.3 8.2-.9 0 2.5-3.8 2-5.5 2.5-7.7 3.3-8.5 3.2z"/><path fill="#3affd0" d="M345.3 243.5l0-8.5 8.6-2.6 9.8-2.3 6.6-1.1 4.3-.4 2.4 0 .8 .3-.4 .6-3.8 2.3-8.8 4.3-9.7 3.9z"/><path fill="#8cff8c" d="M345.3 243.1l0-7.9 10.3-2.9 8.1-1.7 5.7-.7 2.5 0 .8 .4-.4 .7-1.4 1.1-6.5 3.4-7.7 3.4z"/><path fill="#d0ff3a" d="M345.3 242.8l0-7.3 6.3-1.8 8.3-1.8 4.8-.7 2.5 0 .9 .4-.5 .8-1.4 1.2-5.2 2.8-7.9 3.4z"/><path fill="#ffed00" d="M345.3 242.5l0-6.8 7-1.8 5.4-1 2.5-.4 2.7-.1 .8 .5-.4 .9-1.5 1.1-2.7 1.6-5.2 2.5z"/><path fill="#ffaf00" d="M345.3 242.1l0-6 5.5-1.4 5.2-.9 2.8-.1 .9 .4-.5 .9-1.6 1.2-2.8 1.6-4.5 2.2z"/><path fill="#ff6f00" d="M345.3 241.6l0-5.2 6.7-1.4 2.9-.1 .9 .4-.4 .9-1.7 1.2-2.9 1.7z"/><path fill="#ff2a00" d="M345.3 241.1l0-4.2 3-.7 2.9-.2 1 .4-.5 .9-1.7 1.3z"/><path fill="#ef0000" d="M345.3 240.3l0-2.9 2.4-.3 1 .5-.5 .9-1.8 1.2z"/></g>
<g><path fill="#0000a2" d="M182.3 111.6l-.2-1.8 0-13.5 .2-1.2 .3-.2 .6-.1 .7 .2 1.1 .9 2.7 3.5 18.3 29.5 5.7 8.2 6.1 8.4 6.8 8.4 6.3 7 6.6 7 7.1 6.8 11.5 9.9 10.9 8.5 11.7 8.2 12.5 7.7 13.2 7.3 12.2 5.9 14.6 6.2 14.1 5.2 0 11.5-63.5-27.9-20.3-9.4-10.6-5.6-8.7-5-8.1-5.3-7.5-5.7-4-3.4-3.8-3.7-7.1-7.7-3.3-4-3.9-5.1-6.1-9.5-3-5.4-2.8-5.3-4.5-10.5-3.4-10-1.3-4.7z"/><path fill="#0000c9" d="M188.5 122.6l-1-8.1 0-3.8 .3-1.3 .6-.9 1.2-.1 2.2 1.8 2.4 2.9 18.3 26.2 6.3 8.2 6.8 8.2 7.4 8.1 6.9 6.8 8.4 7.8 7.8 6.6 9.5 7.4 10.1 7.1 10.7 6.9 11.3 6.5 11.9 6.1 10.6 4.9 11 4.7 14.1 5.2 0 11.1-62-27.2-20.5-9.6-10.6-5.6-8.8-5.1-8.1-5.3-7.6-5.8-7-6.2-3.8-3.8-3.5-4-3.4-4.2-3.2-4.3-5.6-8.8-2.8-5.1-2.5-4.9-2.2-5.2-1.6-4.1-1.3-3.9-1.5-5.3z"/><path fill="#0000f0" d="M192.1 124.4l-.2-3.3 .2-1.8 .6-1.2 1.1-.2 2 1.2 3.9 4.2 19.1 24.9 6.8 8.1 7.4 8 8 7.9 8.6 7.7 9.1 7.5 9.8 7.3 8.7 6 9.2 5.9 9.7 5.5 8.3 4.5 10.4 5.1 9 4 9.3 3.8 12.2 4.5 0 10.7-58.9-25.9-20.8-9.7-10.8-5.6-8.9-5.1-8.4-5.3-6.6-4.9-4.3-3.5-4-3.6-6.6-6.8-5.2-6.4-5.5-8.3-2.7-4.7-2.3-4.4-2.4-5.2-1.4-3.6-2.6-8.2-1-4z"/><path fill="#0024ff" d="M196.5 133.3l-.4-4.7 .2-1.9 .8-.9 1.5 .2 2.5 1.9 2.7 2.9 18.8 22.7 7.2 7.9 7.7 7.9 8.4 7.7 8.9 7.5 9.4 7.4 10.1 7.1 9 5.9 7.9 4.7 8.2 4.5 8.4 4.4 8.8 4.1 9 4 9.4 3.7 10.3 3.9 0 10.3-55.7-24.5-22.6-10.5-9.6-4.9-9.1-5.1-7.3-4.6-6.9-4.9-7.5-6.1-5.9-5.7-5.6-6.1-5.1-7-5.5-9.2-3.5-7.6-2.3-6.3-1.3-4.4z"/><path fill="#005fff" d="M201.4 144.1l-1.4-6.8-.2-2.5 .3-1.8 .9-.8 1.7 .5 3.2 2.6 6 6.5 8.8 10.3 7 7.8 7.6 7.7 6.9 6.5 8.7 7.6 7.8 6.3 9.8 7.2 8.7 6 7.7 4.8 7.9 4.7 8.2 4.5 8.6 4.3 8.8 4.1 9.1 3.9 17.8 6.8 0 10-50.9-22.4-23.1-10.7-9.8-4.9-9.3-5.1-7.6-4.6-7.1-4.8-7.7-6-6.2-5.6-5.8-6.1-4.4-5.7-4.1-6.3-4-7.6-2.9-7.4z"/><path fill="#00a1ff" d="M203.8 145l-.4-2.4-.2-2.5 .3-1.7 1.1-.6 2.1 .9 3.5 2.9 19.6 21.2 7.7 7.6 8.4 7.5 8.9 7.4 8 6.2 8.5 6 9 5.9 7.7 4.7 8.1 4.6 15.2 7.8 16.2 7.2 17.8 6.8 0 9.5-47.6-20.9-23.4-10.8-10.1-5-9.4-5.1-7.7-4.6-6.1-4-8-6-6.4-5.5-5.9-6.1-4.7-5.5-3.5-5.1-3.3-6-3.2-7.1-.9-2.7z"/><path fill="#00e9ff" d="M206.8 148.3l-.4-3.4 .4-1.6 1.2-.5 2.2 .9 4.3 3.7 10.1 10.8 8.4 8.5 5.7 5.3 7.2 6.4 8.9 7.3 8 6.2 8.5 6 9 5.8 7.7 4.7 8.1 4.5 15.2 7.8 16.2 7.2 17.8 6.8 0 9-45.9-20.1-23.7-11-10.1-5-8.2-4.4-7.8-4.6-6.2-4.1-7-5.1-6.6-5.5-6.2-6-4.8-5.5-4.6-6.2-3.4-6.2-2.3-5.5-1.2-3.9z"/><path fill="#3affd0" d="M211.6 158.5l-2-6.9-.2-2.5 .4-1.6 1.3-.5 2.3 1.2 .8 .7 19.9 19.6 8.1 7.3 8.7 7.2 7.8 6.2 8.3 6 8.7 5.9 7.6 4.7 14.4 8.2 15.4 7.7 16.2 7.1 16 6.2 0 8.5-40.9-18-24.1-11.1-10.4-5.1-8.4-4.4-8-4.6-6.4-4-7.2-5.1-6.9-5.4-6.4-6-5-5.4-3.8-4.9-3.8-6z"/><path fill="#8cff8c" d="M212.5 155.7l-.4-2.9 .5-1.5 1.6 0 4.6 3.5 9.9 9.5 8.8 8.1 13.4 11.1 7.8 6.1 8.3 6 8.7 5.8 7.6 4.7 14.4 8.2 15.4 7.6 16.2 7.2 16 6.1 0 7.9-37.5-16.3-24.5-11.3-10.5-5.2-8.6-4.5-8.1-4.5-6.5-4-6.2-4.3-7-5.5-5.5-4.8-5.3-5.4-4.9-5.9-3.8-5.5-1.8-3.1-.9-1.9-1-2.5z"/><path fill="#d0ff3a" d="M216 160.1l-.6-3.2 .8-1.1 2.8 1.3 .7 .6 6 5 13 11.5 9.6 7.9 9.1 7 6.8 5 7.1 4.8 7.4 4.8 7.7 4.6 14.6 8 13.8 6.7 14.5 6.3 16 6.2 0 7.3-34-14.8-24.9-11.4-10.7-5.3-8.7-4.5-8.3-4.6-6.5-4-6.3-4.2-6.7-5.2-6.2-5.4-4.3-4.3-4.1-4.7-4.2-5.7-3.1-5.4z"/><path fill="#ffed00" d="M220.7 165l-.6-2.6 1.2-.7 3.8 2.3 19.5 15.9 16.9 12.7 12.8 8.6 13.7 8.3 13 7 13.8 6.7 14.5 6.3 16 6.2 0 6.8-32.2-14-23.5-10.8-10.9-5.3-8.8-4.6-8.4-4.7-6.7-4-5.2-3.3-6.2-4.6-5.9-5-4.5-4.3-4.3-4.6-3.1-3.9-2.8-4.2z"/><path fill="#ffaf00" d="M226.6 170.9l-.6-2.2 1.6-.3 5.3 3.5 23.2 17.4 9.5 6.8 13.1 8.4 12.5 7.2 13.2 6.9 12.2 5.7 12.7 5.5 16 6.3 0 6-28.7-12.4-23.8-10.9-18.5-9.3-8.7-4.7-6.9-4.1-6.5-4.1-5.1-3.6-3.7-3-4.7-4.2-3.4-3.3-5.5-6.4-2.1-3.3z"/><path fill="#ff6f00" d="M234.4 178.3l-1.1-2.6 2 .1 6.3 3.8 18.5 13.3 9.8 6.6 13.4 8.1 12.8 7.1 11.7 5.9 12.4 5.6 11 4.7 14.1 5.5 0 5.2-25.1-10.7-20.8-9.5-17.6-8.6-14.8-8-12.2-7.5-3.9-2.7-5-3.9-3.7-3.3-4.3-4.4z"/><path fill="#ff2a00" d="M242.2 184.6l-1-2.1 2.3 .3 7.4 4.6 11.9 8.2 11.5 7.3 12.1 7.1 13 6.8 11.9 5.8 10.7 4.8 11.1 4.7 12.2 4.8 0 4.2-19.7-8.3-19.5-8.8-16.5-7.9-13.9-7.3-11.5-6.7-10.7-7-3.9-2.9-3-2.6-3.2-3.4z"/><path fill="#ef0000" d="M252.2 191.3l-1-1.2 3.6 1.8 15.1 9.4 10.4 6 10.9 6 9.8 5 10.3 4.9 10.7 4.7 23.3 9.5 0 2.9-16-6.6-16.2-7.2-13.7-6.4-13-6.5-10.7-6-10.1-6.2-10.8-7.4z"/><path fill="#c50000" d="M340.7 236.9l-9.3-3.9 13.4 5.5z"/></g>
<g opacity="0.55"><path fill="#0000a2" d="M178.9 184.8l0-34.9 17.9-6.3 15.7-5.3 0 34.1-16.3 5.7z"/><path fill="#0000c9" d="M178.9 183.5l0-32.5 33.6-11.8 0 32-16.3 5.7z"/><path fill="#0000f0" d="M178.9 182.1l0-30.1 33.6-11.9 0 29.9-16.3 5.6z"/><path fill="#0024ff" d="M178.9 180.5l0-27.2 33.6-12.1 0 27.4-16.3 5.4z"/><path fill="#005fff" d="M178.9 178.6l0-23.8 33.6-12.4 0 24.7-16.3 5.2z"/><path fill="#00a1ff" d="M178.9 176.4l0-19.9 33.6-12.6 0 21.4-16.3 5z"/><path fill="#00e9ff" d="M178.9 173.6l0-14.9 33.6-13.2 0 17.7-15.7 4.4z"/><path fill="#3affd0" d="M178.9 169.1l0-6.8 9.2-3.9 24.4-10.7 0 12.8-17.4 3.8z"/><path fill="#8cff8c" d="M211.8 155.5l-2-1.4 2.7-2.4 0 3.9z"/></g>
<g opacity="0.55"><path fill="#0000a2" d="M212.1 211l0-25 17.3-5.7 16.3-4.7 0 23.7z"/><path fill="#0000c9" d="M212.1 210.5l0-24.1 17.3-5.7 16.3-4.7 0 22.8z"/><path fill="#0000f0" d="M212.1 210l0-23.2 17.3-5.7 16.3-4.7 0 21.9z"/><path fill="#0024ff" d="M212.1 209.4l0-22.2 17.3-5.7 16.3-4.7 0 21z"/><path fill="#005fff" d="M212.1 208.8l0-21.1 17.3-5.8 16.3-4.7 0 20.1z"/><path fill="#00a1ff" d="M212.1 208.2l0-20 16.8-5.6 16.8-4.9 0 19z"/><path fill="#00e9ff" d="M212.1 207.5l0-18.8 16.8-5.6 16.8-4.9 0 17.9z"/><path fill="#3affd0" d="M212.1 206.7l0-17.4 16.8-5.6 16.8-5 0 16.7z"/><path fill="#8cff8c" d="M212.1 205.9l0-15.9 16.8-5.7 16.8-5 0 15.4-13.6 4.4z"/><path fill="#d0ff3a" d="M212.1 205l0-14.4 16.8-5.6 16.8-5.1 0 13.9-13.6 4.4z"/><path fill="#ffed00" d="M212.1 204l0-12.5 16.2-5.6 17.4-5.2 0 12.2-13 4.2z"/><path fill="#ffaf00" d="M212.1 202.8l0-10.4 15.7-5.5 17.9-5.4 0 10.4-10.9 3.4z"/><path fill="#ff6f00" d="M212.1 201.3l0-7.7 15.2-5.3 18.4-5.8 0 8.1-10.3 3.1z"/><path fill="#ff2a00" d="M212.1 198.7l0-2.9 3.8-1.7 10.8-3.9 19-6.1 0 4.5-9.8 2.7z"/></g>
<g opacity="0.55"><path fill="#0000a2" d="M245.3 228.2l0-17.7 16.8-4.9 16.8-4.2 0 14.5z"/><path fill="#0000c9" d="M245.3 227.9l0-17.2 16.8-4.9 16.8-4.2 0 14.1z"/><path fill="#0000f0" d="M245.3 227.6l0-16.6 16.8-5 16.8-4.2 0 13.6z"/><path fill="#0024ff" d="M245.3 227.2l0-16 16.8-4.9 16.8-4.3 0 13.1z"/><path fill="#005fff" d="M245.3 226.9l0-15.4 16.8-5 16.8-4.3 0 12.6z"/><path fill="#00a1ff" d="M245.3 226.5l0-14.7 16.8-5 16.8-4.3 0 12z"/><path fill="#00e9ff" d="M245.3 226.1l0-14 16.8-5 16.8-4.3 0 11.3z"/><path fill="#3affd0" d="M245.3 225.7l0-13.3 16.8-5 16.8-4.3 0 10.6-16.3 5.7z"/><path fill="#8cff8c" d="M245.3 225.2l0-12.4 16.8-5 16.8-4.4 0 9.9-16.3 5.7z"/><path fill="#d0ff3a" d="M245.3 224.7l0-11.5 16.8-5 16.8-4.4 0 9.1-16.3 5.6z"/><path fill="#ffed00" d="M245.3 224.2l0-10.6 16.8-5 16.8-4.5 0 8.3-16.3 5.6z"/><path fill="#ffaf00" d="M245.3 223.6l0-9.5 16.8-5.1 16.8-4.4 0 7.3-16.3 5.5z"/><path fill="#ff6f00" d="M245.3 222.9l0-8.3 16.8-5.1 16.8-4.5 0 6.3-16.8 5.6z"/><path fill="#ff2a00" d="M245.3 222.1l0-6.9 16.8-5 16.8-4.5 0 4.8-16.3 5.4z"/><path fill="#ef0000" d="M245.3 221.1l0-5.1 16.8-5 16.8-4.5 0 2.9-16.8 5.7z"/><path fill="#c50000" d="M245.3 219.5l0-2.2 12.8-3.3-8.2 3.8z"/></g>
<g opacity="0.55"><path fill="#0000a2" d="M278.5 242.2l0-12.8 33.6-9.3 0 10.4-15.2 5z"/><path fill="#0000c9" d="M278.5 241.9l0-12.4 33.6-9.3 0 10.1-15.2 5z"/><path fill="#0000f0" d="M278.5 241.7l0-12 33.6-9.3 0 9.7-15.2 5z"/><path fill="#0024ff" d="M278.5 241.5l0-11.6 33.6-9.4 0 9.4-15.2 5z"/><path fill="#005fff" d="M278.5 241.3l0-11.2 33.6-9.4 0 9-15.2 4.9z"/><path fill="#00a1ff" d="M278.5 241l0-10.7 33.6-9.4 0 8.5-15.2 5z"/><path fill="#00e9ff" d="M278.5 240.7l0-10.2 33.6-9.4 0 8.1-15.2 4.9z"/><path fill="#3affd0" d="M278.5 240.4l0-9.6 33.6-9.6 0 7.7-15.2 5z"/><path fill="#8cff8c" d="M278.5 240.1l0-9.1 14.1-4.1 19.5-5.4 0 7.2-15.2 4.9z"/><path fill="#d0ff3a" d="M278.5 239.8l0-8.5 14.1-4.2 19.5-5.4 0 6.7-15.7 5z"/><path fill="#ffed00" d="M278.5 239.4l0-7.8 14.1-4.2 19.5-5.4 0 6-15.7 5.1z"/><path fill="#ffaf00" d="M278.5 239l0-7.1 14.1-4.2 19.5-5.4 0 5.4-15.7 5z"/><path fill="#ff6f00" d="M278.5 238.5l0-6.3 15.7-4.6 17.9-5 0 4.7-15.7 5z"/><path fill="#ff2a00" d="M278.5 238l0-5.4 15.7-4.6 17.9-5 0 3.7-15.7 5.1z"/><path fill="#ef0000" d="M278.5 237.4l0-4.3 18.4-5.4 15.2-4.2 0 2.6-15.7 5.1z"/><path fill="#c50000" d="M278.5 236.5l0-2.7 16.4-4.8 13.6-3.3-7.1 2.7z"/></g>
<g opacity="0.55"><path fill="#0000a2" d="M311.7 255l0-10 20-6.2 7.1-2.5 6.5-2.7 0 11.5-7.6 1.9-7.6 2.1z"/><path fill="#0000c9" d="M311.7 254.9l0-9.8 20-6.2 7.1-2.5 6.5-2.6 0 11.1-7.6 1.9-7.6 2.1z"/><path fill="#0000f0" d="M311.7 254.7l0-9.4 20-6.2 7.1-2.5 6.5-2.6 0 10.7-7.6 1.9-7.6 2.1z"/><path fill="#0024ff" d="M311.7 254.5l0-9.1 20-6.2 7.1-2.5 6.5-2.5 0 10.3-15.2 4z"/><path fill="#005fff" d="M311.7 254.3l0-8.7 20-6.2 7.1-2.5 6.5-2.6 0 10-15.2 4z"/><path fill="#00a1ff" d="M311.7 254.1l0-8.4 20-6.1 7.1-2.5 6.5-2.6 0 9.5-15.7 4.3z"/><path fill="#00e9ff" d="M311.7 253.9l0-8 20-6.2 7.1-2.4 6.5-2.6 0 9-15.7 4.4z"/><path fill="#3affd0" d="M311.7 253.7l0-7.6 20-6.2 7.1-2.4 6.5-2.5 0 8.5-15.7 4.3z"/><path fill="#8cff8c" d="M311.7 253.4l0-7.2 20-6.1 7.1-2.4 6.5-2.5 0 7.9-15.7 4.4z"/><path fill="#d0ff3a" d="M311.7 253.2l0-6.7 20-6.1 7.1-2.4 6.5-2.5 0 7.3-15.7 4.4z"/><path fill="#ffed00" d="M311.7 252.9l0-6.2 20-6.1 7.1-2.4 6.5-2.5 0 6.8-16.3 4.6z"/><path fill="#ffaf00" d="M311.7 252.6l0-5.7 20-6 7.1-2.4 6.5-2.4 0 6-16.3 4.6z"/><path fill="#ff6f00" d="M311.7 252.2l0-5 20-6 13.6-4.8 0 5.2-15.7 4.6z"/><path fill="#ff2a00" d="M311.7 251.8l0-4.3 19.5-5.7 7-2.3 7.1-2.6 0 4.2-16.8 4.9z"/><path fill="#ef0000" d="M311.7 251.4l0-3.5 20-5.7 6.5-2.1 7.1-2.7 0 2.9-14.6 4.3-8.7 3z"/><path fill="#c50000" d="M311.7 250.7l0-2.3 5.8-1.5 4.5-.8-2.5 1.4z"/></g>
<g><path fill="#0000a2" d="M148.2 124l-.2-2.1 0-15.3 .2-1.2 .4-.1 .7 .2 .9 .7 2.4 3.1 17.8 28.3 6.1 9 5.8 7.8 6.3 7.9 5.6 6.4 6.1 6.3 6.3 6.1 9.5 8.3 11.8 9.1 11 7.8 13.5 8.6 12.6 7.3 15.2 8 16.1 7.9 15.4 6.9 0 10-25.6-9.8-19.3-7.7-16.1-6.9-15-6.9-12.3-6.3-11.4-6.5-10.5-6.8-8.4-6.3-8.8-7.6-4-3.9-3.8-4.1-3.6-4.2-3.3-4.3-3.1-4.4-2.9-4.5-2.7-4.7-2.4-4.7-2.2-4.8-2.4-6-1.7-4.8-1.7-5.9z"/><path fill="#0000c9" d="M152.6 125.5l0-4 .4-1.7 .5-1 1.1-.1 2.3 1.7 2.2 2.7 18.3 25.9 5.9 7.6 6.4 7.7 6.9 7.5 6.2 6.1 6.5 6 8.3 7 8.8 6.9 10.9 7.7 10 6.4 12.2 7.4 11.1 6.1 13.5 7 14.3 6.8 13.3 5.9 0 9.8-25.6-9.9-19.3-7.8-16.1-6.9-13.4-6.2-12.4-6.3-11.5-6.5-10.6-7-8.6-6.4-4.5-3.8-4.3-3.9-7-7.3-3.7-4.4-3.5-4.5-3.2-4.7-2.3-3.7-2.8-5.2-2.6-5.4-1.8-4.3-2.2-6.2-1.5-5.3-1.2-5.8z"/><path fill="#0000f0" d="M157.4 137.3l-.4-5.5 .1-1.9 .6-1.2 1.1-.4 2.1 1.3 4.4 4.8 16 20.6 5.1 6.3 5.5 6.2 5.9 6.1 5 4.9 5.1 4.7 6.8 5.8 10.2 8 9.2 6.6 11.5 7.5 12.1 7.4 11 6.1 13.4 7 14.2 6.8 15.4 6.9 0 9.4-25.6-9.9-17.4-7.1-14.5-6.2-13.6-6.2-12.7-6.3-10.3-5.7-9.7-6-8.9-6.4-8.2-6.7-7.5-7.2-6.8-7.9-5.3-7.3-2.4-3.9-2.3-4.1-2.2-4.4-2.1-4.8-1.7-4.6-1.6-5.3z"/><path fill="#0024ff" d="M161.6 143.4l-.3-3.8 .2-1.9 .9-1 1.6 .3 2.5 2 1.5 1.5 5.3 6 8 9.7 6.2 7.2 6.7 7.2 7.3 7.2 7.8 7 8.3 6.9 8.8 6.7 9.3 6.6 8.2 5.3 8.5 5.3 8.9 5.1 9.3 5.1 19.5 9.8 21.6 9.8 0 9.1-23.6-9.2-17.5-7-14.7-6.3-13.7-6.2-11.2-5.6-10.6-5.7-8.5-5.2-9.1-6.3-8.6-6.7-6.7-6.2-6.2-6.7-5.7-7.4-5.2-8.1-3.9-8.1-2.3-5.9-1.3-4.1z"/><path fill="#005fff" d="M165.7 149.7l-.3-3.2 .4-1.9 1.1-.7 2.1 .9 3.9 3.5 14.6 16 5.6 5.9 5.9 5.9 5 4.6 8 6.9 9.9 7.8 7.5 5.5 9.5 6.5 15.3 9.5 8.9 5.1 9.4 5 19.7 9.8 19.5 8.8 0 8.7-21.6-8.4-17.6-7.1-14.8-6.3-12.1-5.5-11.5-5.6-10.7-5.7-8.7-5.2-8.1-5.4-8.8-6.7-7-6.2-5.4-5.6-6.1-7.4-4.6-6.9-2.5-4.4-1.8-3.7-1.2-2.7-1.9-5.1-1.1-4z"/><path fill="#00a1ff" d="M169.7 155.2l-.2-2.6 .4-1.7 1.3-.4 2.7 1.4 5.1 4.7 17.6 17.9 10 9.1 6.8 5.6 8.5 6.7 7.5 5.4 9.5 6.4 15.3 9.4 8.9 5.1 9.4 5 19.7 9.7 19.5 8.8 0 8.4-37.3-14.8-14.9-6.3-12.2-5.6-11.6-5.6-10.8-5.8-8.8-5.2-8.2-5.5-7.6-5.8-7.2-6.3-5.6-5.6-5.2-6.4-4.3-6.1-4.2-7.7-2-4.6-1.3-4.2z"/><path fill="#00e9ff" d="M173.8 160.6l-.2-2.3 .5-1.6 1.6 0 3.3 2 6.1 5.5 13.9 13.4 6.3 5.5 6.7 5.5 8.4 6.6 7.5 5.4 7.8 5.4 9.9 6.3 13.9 8.2 16.8 8.9 17.9 8.7 17.5 7.8 0 8-35.4-14.1-13.2-5.6-12.4-5.6-11.8-5.6-9.5-5-9-5.1-7-4.5-8.1-5.9-7.5-6.1-5.9-5.5-5.5-6.2-4.1-5.6-3.9-6.5-1.9-3.8-1.8-4.4z"/><path fill="#3affd0" d="M179.1 169.8l-1.1-3.5-.3-2.6 .6-1.4 1.9 .2 3.8 2.5 17.5 15.6 10.5 8.6 14.4 10.8 14.2 9.5 15.3 9.2 16.6 9 17.6 8.7 21.6 9.7 0 7.6-33.5-13.4-24-10.5-10.3-4.8-9.8-5-9.2-5.1-7.3-4.5-7-4.7-7.8-6.1-6.2-5.5-5.8-5.9-4.4-5.4-3.1-4.6-2.2-4z"/><path fill="#8cff8c" d="M182.3 171.5l-.5-2.8 .7-1.3 2.3 .5 4.8 3.5 9.4 8 8.9 7.4 14 10.5 7.5 5.3 7.9 5.2 15.1 9.2 12.6 7 15.2 7.8 14 6.7 17.5 7.7 0 7.2-31.5-12.6-24.3-10.6-10.3-4.9-9.9-5-9.3-5.1-7.4-4.5-7-4.9-6.7-5.2-5.9-5.1-5.2-5.2-4.1-4.7-3.7-5.3-3-5.6z"/><path fill="#d0ff3a" d="M186.4 175.4l-.3-1.9 .9-1.1 2.9 1.2 6.9 5.2 11.1 8.8 17 12.3 14 9.4 15.3 9.1 12.6 6.9 13.4 6.8 14 6.7 17.5 7.7 0 6.7-29.6-11.9-13.4-5.7-11-4.9-10.4-5-8.4-4.2-9.5-5.2-7.5-4.5-5.8-3.8-6.8-5.2-6.5-5.6-5-4.8-3.6-4-3.4-4.4-2.7-4.3z"/><path fill="#ffed00" d="M191.9 181.8l-.9-3.1 1.2-.7 4.1 2.1 24.1 17.3 10.6 7.2 9.6 6.1 10.1 6.1 12.4 6.9 15.1 7.7 16 7.6 17.5 7.7 0 6.2-27.6-11.1-22.8-10-10.6-5-8.5-4.2-14.3-7.9-7.5-4.6-4.3-3-4.1-3.2-5.8-4.9-8-8-4.4-5.8z"/><path fill="#ffaf00" d="M198 187.1l-.8-2.5 1.5-.4 5.1 2.8 9.5 6.2 13.1 9 9.3 6 9.9 6 10.3 6 12.8 6.8 13.4 6.6 14.2 6.6 15.4 6.7 0 5.7-25.6-10.4-21.1-9.2-17.7-8.4-8.4-4.3-6.4-3.6-12.1-7.5-4.3-3.1-4.1-3.4-5.9-5.5-3.3-3.6-2-2.3z"/><path fill="#ff6f00" d="M205.3 193.4l-1.1-2.8 1.7-.2 5.2 2.6 19.9 12.8 9.6 6 10.1 5.9 8.8 4.9 11.1 5.7 13.5 6.6 12.2 5.6 15.4 6.7 0 5-21.6-8.7-19.5-8.5-16.4-7.6-15.3-7.9-11-6.5-6-3.9-4.3-3.1-4.2-3.5-2.8-2.7-2.5-2.7z"/><path fill="#ff2a00" d="M212 198.5l-1.2-2.6 1.8-.2 6.4 3.4 13.5 8.6 11.4 6.7 17.4 9.6 11.2 5.7 11.6 5.6 14.3 6.4 13.3 5.8 0 4.3-19.5-7.9-17.8-7.7-14.9-6.9-13.9-7-11.5-6.5-9.2-5.9-4.5-3.2-4.3-3.5-1.4-1.4z"/><path fill="#ef0000" d="M220.4 204.4l-2.1-3 4 1.4 28.4 16.2 10.6 5.6 11.2 5.6 17.6 8.3 21.6 9.4 0 3.5-19.5-8.1-15.9-6.9-13.2-6.1-12.4-6.3-11.8-6.5-9.5-6-4.5-3.4z"/><path fill="#c50000" d="M241.7 217.4l-5.1-4.2 9 4.3 15.7 8.1 15 7.2 15.9 7.2 19.5 8.4 0 2.3-25.6-10.7-19.3-9-10.9-5.6-10.3-5.7z"/></g>
</g>
<path class="g" d="M771.6 167.3L771.6 59.8M771.6 167.3L984 243.4M825.4 149.4L825.4 41.9M825.4 149.4L1037.8 225.5M879.1 131.6L879.1 24.1M879.1 131.6L1091.5 207.7M985.9 132.8L985.9 25.3M771 204.1L985.9 132.8M1039 151.8L1039 44.3M824.1 223.1L1039 151.8M1092.1 170.9L1092.1 63.4M877.2 242.2L1092.1 170.9M717.9 149.3L932.8 78M932.8 78L1145.2 154.1M717.9 113.4L932.8 42.1M932.8 42.1L1145.2 118.2M717.9 177.9L720.6 177M717.9 170.8L720.6 169.9M717.9 163.6L720.6 162.7M717.9 156.4L720.6 155.5M717.9 142.1L720.6 141.2M717.9 134.9L720.6 134M717.9 127.8L720.6 126.9M717.9 120.6L720.6 119.7M717.9 106.3L720.6 105.4M717.9 99.1L720.6 98.2M717.9 91.9L720.6 91M717.9 84.8L720.6 83.9"/>
<path class="b" d="M717.9 185.1L930.3 261.2M930.3 261.2L1145.2 189.9M717.9 185.1L932.8 113.8M932.8 113.8L1145.2 189.9M717.9 185.1L717.9 77.6M932.8 113.8L932.8 6.3M1145.2 189.9L1145.2 82.4M717.9 77.6L932.8 6.3M932.8 6.3L1145.2 82.4"/>
<path fill="#a6a6a6" fill-opacity="0.45" d="M822.1 99.4l-34.5 11.6-.7 .7-.7 2.2-.2 3.5 .2 6.1 .7 5.1 1.2 5.1 2 5.8 3.9 8.2 5.9 9.2 7.4 9.3 9 9.5 10.6 9.6 11 8.8 12.3 8.8 12.2 7.9 11.8 6.9 12.5 6.8 43.6 21.3 17.2-4.5 19.7-6.1 16.1-3.6 14.7-2.3 18.3-5.5 31.1-12.7 14.5-6.7 2.7-1.4 13.7-10.3-10.7-19.1-4.7-32.5 .1-1.3 5.3-15.8-1.9-17.5 .2-4-.4-3.6-3-13.1-1-2.2 0-1.4-1.9-3.6-6.2-9.1-1.6-.9-1.5-1.7-5.6-3.8-6.6-3-4.7-1.2-4.1 .2-35-2.5-37.1 4.9-34.3 7.7-33.6 9.4-34.3 10.2z"/>
<g filter="url(#bl)">
<g opacity="0.55"><path fill="#0000a2" d="M999 85.1l0-26 17.7-.3 15.6 1.6 4.3-.8 1.1 .2 .5 .3 .6 1.6 0 3.6-1.1 4.3-1.6 4.3-.5 .7-2.7 2.2-.6 .3-15.6 3.5z"/><path fill="#0000c9" d="M999 79.4l0-15.8 2.2 .3 4.5 1.2 2.7 1.2 1.3 1.4 .5 1.4-.2 1.5-.8 1.6-1.5 1.7-2.3 1.9-3.7 2.3z"/></g>
<g opacity="0.55"><path fill="#0000a2" d="M1032.2 130.1l0-32.5 9.7-.8 8-.4 4.9 2 4.3 2.1 3.7 2.3 3.6 2.6-7.9 7.9-8.6 7.5-8 4.5z"/><path fill="#0000c9" d="M1032.2 128.5l0-29.6 11.3-.6 6.4 .1 5.9 2.9 2 1.2 2.2 1.9 .5 .7 0 1.3-.6 1.5-.7 1-3 3.5-5.2 4.9-2.7 2-5.3 3.4z"/><path fill="#0000f0" d="M1032.2 126.6l0-26.2 9.7-.1 4.3 .4 3.7 .6 2.2 1.4 1.6 1.4 .8 1.2 .2 1.1-.1 1.2-.5 1.3-.8 1.5-1.3 1.9-2.4 2.5-4.2 3.6-6.7 4.4z"/><path fill="#0024ff" d="M1032.2 124.3l0-22.1 5.9 .3 2.7 .3 3.4 .7 2.6 1.2 1.3 1.3 .4 1.5-.2 1.6-.7 1.8-1.3 2.1-2.3 2.6-3.9 3.3z"/><path fill="#005fff" d="M1032.2 121.3l0-1.3 0-15.5 3.6 .5 3.6 1.2 1.8 1.4 .6 1.7-.3 1.9-1 2.1-1.9 2.5-3.1 3z"/><path fill="#00a1ff" d="M1032.2 116.9l0-1 0-7.9 2 1.3 .8 1.8-.4 2.1-1.3 2.4z"/></g>
<g><path fill="#0000a2" d="M993.8 68.7l0-11.4 .6-.6 .9-.1 1.2 .5 1.5 1 3.8 3.9 12.7 14.9 13.3 15.4 7.1 8.6 7.3 9.3 7.2 10 6.5 9.5 6.9 10.7-6.3-.9-6.5-1.6-5.6-1.8-5.9-2.5-5-2.7-5.2-3.4-4.4-3.5-4.6-4.3-3.8-4.3-3.8-5.1-3.5-5.6-3.4-6.3-3.2-6.9-2.9-7.3-2.8-8z"/><path fill="#0000c9" d="M997.1 69l-.1-1.8 .4-2.4 .4-.8 1.1-.4 1.4 .5 1.3 .9 5.7 5.6 20.5 23.1 12.3 14.9 7.6 10.2 7 10.1 4.6 7.2 .6 1.2-.1 .8-1.2 .2-2.1-.2-6.5-1.6-6.2-2-5.8-2.7-5-2.8-5.2-3.6-4.4-3.6-4.5-4.5-4.1-4.9-3.4-4.9-3.5-6-3.1-6.3-2.7-6.6-2.4-7-1.8-7.1z"/><path fill="#0000f0" d="M1000.9 76l-.2-2.6 .2-1.6 .5-1 1.1-.3 2.1 .8 1.6 1.2 3 2.6 2.8 3 15.4 16.7 8 9.5 5.7 7 6.5 8.7 7.1 10.5 1.9 3.5 .1 .6-.3 .9-1.1 .2-1.2 0-3.9-.9-6.4-2.1-5.3-2.4-5-2.9-4.8-3.3-4.4-3.7-3.8-3.7-3.9-4.5-3.2-4.5-2.7-4.3-2.8-5.3-2.6-6-2-5.9-1.6-5.7z"/><path fill="#0024ff" d="M1005.1 82.6l-.2-2.6 .2-1.7 .9-.9 1.7 .2 2 1.4 2 1.5 9.6 9.7 5.2 5.5 7.5 8.6 4.5 5.4 4.2 5.4 5 7 3.6 5.6 1.1 2 .3 1.2-.2 .7-.5 .4-1.1 .2-3.2-.5-3.9-1.1-4.8-2.1-4.1-2.4-4.8-3.3-4.1-3.3-3.4-3.2-2.9-3.2-3.1-3.9-3.2-4.9-2.6-4.5-2.3-5-1.5-4.1-1.4-5z"/><path fill="#005fff" d="M1009.4 87l.4-2 1.2-.2 .7 .1 4.2 3.1 5 4.5 3.8 3.7 11.7 13.2 5.2 6.4 3.6 5.4 1.6 3 .5 1.7-.2 1-.9 .6-1.7 .1-3.4-.9-3.1-1.6-3.6-2.2-4.3-3.1-3.6-3-3.1-2.9-2.9-3.3-3.1-4.3-1.9-3-2.8-5.1-2.3-5.6-.8-3.4z"/><path fill="#00a1ff" d="M1017.7 99.4l-.5-3 1.1-1.1 1.8 .9 2.1 1.4 2.9 2.6 6.4 7 4.9 5.7 2.1 2.7 .8 1.2 1.1 2.8-.5 1.1-2.4-.3-1.6-.9-6.2-4.6-5-4.3-2.5-3.1-2.3-3.5z"/></g>
<g opacity="0.55"><path fill="#0000a2" d="M965.4 96.2l0-30.5 33.6-6.6 0 26z"/><path fill="#0000c9" d="M965.4 93.3l0-25.4 22.2-3.4 5.5-.6 5.9-.3 0 15.8-4.3 2.2-9.2 4z"/><path fill="#0000f0" d="M965.4 89.4l0-18.4 6-.6 9-.6 5.6 .5 2.8 1 .9 1.5-.4 1.8-1.6 2.2-2.9 2.5-5 3.2-2.4 1.3-5.9 2.9z"/><path fill="#0024ff" d="M965.4 82.1l0-1.2 0-4.1 .9 .1 1.4 1.5-.7 2.1z"/></g>
<g opacity="0.55"><path fill="#0000a2" d="M998.6 145.8l0-42.1 33.6-6.1 0 32.5-15.2 7.4z"/><path fill="#0000c9" d="M998.6 144.7l0-40.1 27.1-4.7 6.5-1 0 29.6-15.2 7.7z"/><path fill="#0000f0" d="M998.6 143.5l0-38 23.3-3.8 10.3-1.3 0 26.2-7 3.9-8.7 4.6z"/><path fill="#0024ff" d="M998.6 142.2l0-35.7 24.4-3.5 5.8-.7 3.4-.1 0 22.1-6.5 4-7 4-9.2 4.7z"/><path fill="#005fff" d="M998.6 140.8l0-33.1 20.6-2.8 8.7-.6 4.3 .2 0 16.8-6 4.4-7 4.5-9.7 5.3z"/><path fill="#00a1ff" d="M998.6 139.2l0-30.4 14.1-1.6 7.5-.6 7.8 .2 4.2 1.2 0 8.9-1.1 1.4-3.5 3.5-5.9 4.5-6.3 4-5.9 3.4z"/><path fill="#00e9ff" d="M998.6 137.5l0-27.2 11-1.2 10.6-.3 5 .9 2.5 1.4 .8 1.9-.4 2.2-1.4 2.6-2.6 3.2-1.1 1-3.3 2.9-7.5 5.1z"/><path fill="#3affd0" d="M998.6 135.5l0-23.7 13.6-.7 6 .6 3 1.4 1 1.9-.5 2.4-1.7 2.8-3.2 3.5-5.9 4.5-6.3 3.9z"/><path fill="#8cff8c" d="M998.6 133.1l0-19.4 2.9-.2 8.7 .4 4 1.2 1.2 2-.6 2.6-2.2 3.1-4.3 3.9-6.4 4.4z"/><path fill="#d0ff3a" d="M998.6 130l0-13.8 2.5 0 5 1.2 1.6 2.1-.8 2.7-2.8 3.4z"/><path fill="#ffec00" d="M998.6 123.5l0-1.4 0-.7 .5 .6z"/></g>
<g opacity="0.55"><path fill="#0000a2" d="M1031.8 165.6l0-24.8 6-1.2 4.8-.8 4.4-.4 3.8 0 3.2 .4 3.3 .8 3.2 1.4 2.6 1.6-6.9 5.7-7.6 5.8-8.1 5.7z"/><path fill="#0000c9" d="M1031.8 164.9l0-23.5 10.3-1.9 3.8-.4 3.8-.1 3.8 .4 2.7 .6 2.7 1 1.8 1.2 .2 .4-.1 .5-.9 1.1-6.4 5.4-10.3 7.6z"/><path fill="#0000f0" d="M1031.8 164.2l0-22.3 9.2-1.6 7.1-.5 3.2 .1 2.7 .4 2.2 .7 1.9 1 .4 .9-.6 1.4-3.4 3.3-4.1 3.4-6.1 4.5z"/><path fill="#0024ff" d="M1031.8 163.4l0-20.9 8.7-1.4 6.5-.5 3.2 .2 2.2 .3 1.7 .5 1.1 .6 .5 .5 .2 .6-.4 1.3-1.6 1.9-1.7 1.7-3.6 3-6.9 5.3z"/><path fill="#005fff" d="M1031.8 162.5l0-19.2 7.3-1.3 6.8-.4 4.3 .4 1.7 .6 .8 .6 .3 .8-.1 .8-.5 .9-2.4 2.8-2.6 2.3-4.7 3.9z"/><path fill="#00a1ff" d="M1031.8 161.5l0-17.5 6.5-1 4.3-.3 3.8 .3 1.9 .4 1.1 .6 .4 .9-.2 1-.7 1.2-1.1 1.5-2.1 2-6.3 5.3z"/><path fill="#00e9ff" d="M1031.8 160.5l0-15.6 4.1-.6 5.6-.3 2.8 .4 1.5 .7 .4 .9-.2 1.2-.8 1.5-1.5 1.8-2.5 2.5-3.4 2.9z"/><path fill="#3affd0" d="M1031.8 159.2l0-13.4 5.4-.4 3.1 .2 1.7 .7 .6 1.1-.3 1.3-1 1.7-1.7 2.1-3.1 2.9z"/><path fill="#8cff8c" d="M1031.8 157.7l0-10.7 4.4 0 2 .7 .6 1.1-.3 1.5-1.1 1.9-2.2 2.4z"/><path fill="#d0ff3a" d="M1031.8 155.6l0-.9 0-6.1 2.4 .6 .7 1.2-.4 1.6-1.3 2.1z"/></g>
<g opacity="0.55"><path fill="#0000a2" d="M1065 173.3l0-1.9 2.3-.1-1.2 1.1z"/><path fill="#0000c9" d="M1065 172.9l0-1.1 .8 .1-.1 .2z"/></g>
<g><path fill="#0000a2" d="M957.5 72.3l-.1-9.6 .2-.9 .9-.4 1 .3 1.9 1.1 4.2 3 4.8 4.3 5 5.2 6.8 7.8 15.4 19.3 9.7 11.7 11.6 13.1 11.1 11.7 9.3 9.4 9 8.5 9.4 8.4 9.9 8.4-9.9-1.3-10.3-2-9.8-2.7-9.3-3.4-8.6-4-8.2-4.7-7.5-5.3-7-5.9-6.4-6.5-5.9-7-5.8-8.3-5.1-8.6-4.8-9.5-4.3-9.9-3.9-11.1z"/><path fill="#0000c9" d="M960 72l0-2.9 .5-1.8 .7-.6 1.3-.1 2 .8 2.1 1.3 5.6 4.8 4.1 4.1 4 4.4 23.7 29 9.7 11.1 9 9.9 10.6 10.9 9.5 9.3 11.1 10 11.1 9.6 .9 1-2.3 0-5.9-.9-11.3-2.4-9.7-2.9-9.2-3.5-8.6-4.2-8.1-4.8-7.5-5.5-6.9-6-6.4-6.7-6.3-7.9-5.7-8.5-5-9-5-10.6-4-10.8-1.7-5.5-1.3-4.8-.7-4.4z"/><path fill="#0000f0" d="M963.2 80.4l-.6-5.9 .1-1.4 .3-1.1 .7-.8 1.3-.3 1.8 .6 1.6 .8 3.1 2.3 3.1 2.8 3.4 3.4 4.2 4.7 15.4 18.8 9.1 10.7 14.5 16 9.6 9.9 9.4 9.2 10.9 10.1 12 10.5 .8 .8 .1 .4-1.4 .1-3.9-.5-5.8-1.1-5.5-1.3-9.8-2.8-9.3-3.6-7.9-3.8-8.1-4.8-7-4.9-7.1-6.1-6.5-6.6-5.5-6.6-5.4-7.7-5-8.3-5-10.4-4-10-2.8-9.4z"/><path fill="#0024ff" d="M965.3 81l-.1-2.4 .1-1.6 .6-1.2 1-.7 2.1 .4 1.8 .9 2.7 1.8 2.3 2.1 6.4 6.6 21.8 25.8 8.3 9.4 8.1 8.8 17.2 17.3 9.8 9.2 12.6 11.2 1.6 1.6 .1 .6-.8 .2-1-.1-3.2-.4-9.9-2.2-10.1-3.1-8.4-3.3-7.9-4-7.4-4.4-7-5-6.5-5.5-6.1-6.1-5.6-6.6-5.1-7.1-5.1-8.2-5-10-3.6-9.1-2.5-8.4z"/><path fill="#005fff" d="M968.5 87.9l-.6-5.1 .3-1.8 .7-1.2 1.5-.4 2.8 1 2.2 1.6 2.6 2.2 5.2 5.4 19.5 22.7 15.4 17 10.2 10.5 9.3 9.1 20.4 18.7 .8 .9 .2 .6-.1 .3-1.3 .2-2.8-.3-8.4-1.9-10.6-3.3-8.3-3.5-7.1-3.7-7.4-4.5-7-5.1-5.9-5.1-6.1-6.2-5.6-6.7-5.2-7.3-4.7-7.8-3.9-7.7-3.1-7.8-2.2-7.2z"/><path fill="#00a1ff" d="M971.1 90.7l-.3-3.8 .3-1.9 .9-1.2 1.4-.1 .8 .2 2.1 1.1 2.2 1.6 6.7 6.9 18.8 21.4 12.6 13.7 20.1 20.2 17.7 16.5 1.1 1.3 .4 .7-.2 .4-.6 .3-1.2 0-1.9-.3-5.6-1.2-8.8-2.8-9.3-3.7-6.3-3.3-7.6-4.6-6.4-4.6-5.3-4.5-5.7-5.5-5.9-6.6-4.9-6.5-4-6.2-4.2-7.4-3-6.7-2.6-7.5z"/><path fill="#00e9ff" d="M973.8 92.9l-.1-1.9 .4-2 1.2-.9 1.4 .3 1.4 .6 4.1 3.5 4 4 16.5 18.2 15.4 16.5 16 15.9 16 15.3 1.7 1.8 .5 1-.3 .5-.9 .3-1.7-.1-3.3-.7-5-1.4-7-2.4-6.6-2.9-6.3-3.4-6.8-4.3-6.4-4.7-5.3-4.6-5.1-5.1-5.3-6.2-4.5-5.9-4.1-6.3-4.8-8.7-2.2-5.2-.8-2.2-1.4-4.6z"/><path fill="#3affd0" d="M977.1 97.7l-.2-2.2 .6-1.9 1-.2 1 .1 .3 .2 4.8 3.5 5.4 5.4 26.6 28.2 28.2 27.8 2.4 2.6 .7 1.4-.3 .6-1.3 .2-2.6-.4-4.4-1.1-6.8-2.4-5.8-2.7-6.3-3.6-6-4-5.7-4.2-4.7-4.1-5.2-5.2-4.2-4.9-4.6-6-4.3-6.5-2.5-4.5-2.7-5.3-2.3-5.9z"/><path fill="#8cff8c" d="M982 105l-.5-3.4 1-1.5 .2 0 3.1 1.4 4.8 4.2 4.4 4.3 21.6 22.2 15.4 15 6.8 6.9 2.9 3.3 .9 1.8-.4 .8-1.7 .2-3.1-.6-1.6-.5-4.6-1.6-5.3-2.6-5.5-3.4-6-4.1-5.7-4.3-4.1-3.7-4.5-4.7-4-4.6-4.4-6-2.8-4.2-2.1-3.7-3.1-6.2z"/><path fill="#d0ff3a" d="M988.8 113.6l-.8-3.8 1.6-.8 6 4.3 4.5 4.2 31.5 30.9 4.2 4.7 1.2 2.2-.7 1-2.1 0-2.6-.8-2.5-.9-4-2.1-4.7-3-5.2-3.7-5.1-3.9-3.4-3-3.4-3.4-3.2-3.7-1.9-2.3-3-4.4-3.4-5.1-.7-1.5z"/><path fill="#ffec00" d="M999.3 125.4l-1.3-4 2.5 .1 4.8 3.9 21.4 20.5 .8 .9 2.2 3.3-1.1 .8-1.9-.6-2.4-1.2-4.6-3-3.1-2.2-7.9-6.5-3.9-3.9-2.8-3.8z"/></g>
<g opacity="0.55"><path fill="#0000a2" d="M931.9 116l0-39.7 18.4-5.6 15.1-5 0 30.5-14.6 8.4z"/><path fill="#0000c9" d="M931.9 112.9l0-34.2 18.4-5.6 15.1-5.2 0 25.4-14.6 8.3z"/><path fill="#0000f0" d="M931.9 108.8l0-26.8 17.8-5.6 15.7-5.4 0 18.4-14 8z"/><path fill="#0024ff" d="M931.9 102.8l0-16.2 21.8-6.6 11.7-3.2 0 5.3-3.2 2.3-14.6 9z"/></g>
<g opacity="0.55"><path fill="#0000a2" d="M965 160.2l0-39.3 22.8-11.9 10.8-5.3 0 42.1-17.3 7z"/><path fill="#0000c9" d="M965 159.2l0-37.5 22.8-11.8 10.8-5.3 0 40.1-16.2 6.6z"/><path fill="#0000f0" d="M965 158.2l0-35.7 22.3-11.4 11.3-5.6 0 38-16.2 6.7z"/><path fill="#0024ff" d="M965 157.1l0-33.8 21.7-11.1 11.9-5.7 0 35.7-16.2 6.8z"/><path fill="#005fff" d="M965 155.9l0-31.6 21.2-10.7 12.4-5.9 0 33.1-15.7 6.7z"/><path fill="#00a1ff" d="M965 154.6l0-29.3 20.6-10.3 13-6.2 0 30.4-15.7 6.8z"/><path fill="#00e9ff" d="M965 153.2l0-26.8 20.1-9.9 13.5-6.2 0 27.2-14.1 6.2z"/><path fill="#3affd0" d="M965 151.6l0-24 20.1-9.7 13.5-6.1 0 23.7-14.1 6.4z"/><path fill="#8cff8c" d="M965 149.8l0-20.7 18.5-8.7 15.1-6.7 0 19.4-13 6.1z"/><path fill="#d0ff3a" d="M965 147.6l0-16.9 17.4-7.8 16.2-6.7 0 13.8-11.9 6z"/><path fill="#ffec00" d="M965 144.7l0-11.7 13.6-5.5 12.9-4.8 7.1-1.3 0 2.1-2.5 2.3-6.7 4.1-7.4 4.9z"/></g>
<g opacity="0.55"><path fill="#0000a2" d="M998.2 183.8l0-27 11.4-6.6 8.7-4.5 7.6-3.2 5.9-1.7 0 24.8-15.1 8.4z"/><path fill="#0000c9" d="M998.2 183.3l0-26.1 11.4-6.5 8.7-4.4 7.6-3.2 5.9-1.7 0 23.5z"/><path fill="#0000f0" d="M998.2 182.7l0-25 10.9-6.2 9.2-4.7 7.6-3.2 5.9-1.7 0 22.3z"/><path fill="#0024ff" d="M998.2 182.1l0-23.9 10.9-6.2 9.2-4.7 7.6-3.1 5.9-1.7 0 20.9z"/><path fill="#005fff" d="M998.2 181.4l0-22.7 10.9-6.1 9.2-4.6 7.6-3.1 5.9-1.6 0 19.2z"/><path fill="#00a1ff" d="M998.2 180.7l0-21.5 10.9-6 9.2-4.5 7.6-3.1 5.9-1.6 0 17.5z"/><path fill="#00e9ff" d="M998.2 180l0-20.2 10.9-5.9 8.6-4.2 7.6-3.1 3.3-1 3.2-.7 0 15.6z"/><path fill="#3affd0" d="M998.2 179.2l0-18.7 10.9-5.9 9.2-4.3 7.6-3 2.7-.8 3.2-.7 0 13.4-23.1 13.9z"/><path fill="#8cff8c" d="M998.2 178.2l0-17 10.9-5.8 8.1-3.7 8.1-3.1 3.3-1 3.2-.6 0 10.7-21.1 13.1z"/><path fill="#d0ff3a" d="M998.2 177.3l0-15.4 10.9-5.5 9.7-4.3 7.1-2.4 3.2-.7 2.7-.4 0 7-2 1.6-10 6.5-14 9z"/><path fill="#ffec00" d="M998.2 176.1l0-13.2 10.7-5.4 6.1-2.5 6.5-2.3 3.8-.9 3.1-.4 1.7 .9-.9 1.9-3.2 3.1-7.2 5.2-9.2 6.4z"/><path fill="#ffaf00" d="M998.2 174.7l0-10.8 6.5-3.1 6.3-2.8 7.1-1.9 2.3 .5-1.2 2.3-3.9 3.8-7.6 5.8z"/><path fill="#ff6f00" d="M998.2 172.9l0-7.6 4.9-2.1 4.8-1.7 2.7 .2-1.4 2.5-2.3 2.1-2.6 2.3z"/></g>
<g opacity="0.55"><path fill="#0000a2" d="M1031.4 197.2l0-15.3 6-3.7 5.4-2.9 4.3-2 4.4-1.6 3.8-.9 2.7-.3 3.2 .2 3.8 .7 0 1.9-1.1 .9-18.4 13.3z"/><path fill="#0000c9" d="M1031.4 196.8l0-14.6 6-3.6 4.9-2.7 4.8-2.2 4.4-1.6 3.8-.9 2.7-.3 3.2 .1 3.8 .8 0 1.1-1.6 1.3-21.1 15.1z"/><path fill="#0000f0" d="M1031.4 196.4l0-13.9 5.4-3.3 5.5-2.9 4.3-2 4.3-1.6 3.8-.9 3.3-.4 3.8 .1 1.6 .4 .8 .4 .1 .3-.4 .4-1.6 1.4-22.3 16.1z"/><path fill="#0024ff" d="M1031.4 195.9l0-13 4.9-3 4.9-2.6 4.8-2.2 4.4-1.7 3.8-1 3.2-.4 3.3 .1 1.7 .4 .1 .3-.3 .6-1.4 1.2-21.3 15.6z"/><path fill="#005fff" d="M1031.4 195.4l0-12.1 8.7-5 3.2-1.5 4.4-1.8 4.3-1.4 2.7-.6 2.7-.2 1.4 0 .9 .3 .2 .3-.1 .5-1.4 1.4-18.9 14.3z"/><path fill="#00a1ff" d="M1031.4 194.9l0-11.2 7.1-4 7.1-3.2 4.8-1.6 2.1-.5 1.8-.2 1 0 .4 0 .5 .5-.3 .6-.8 1-4.2 3.7-10.6 8.4z"/><path fill="#00e9ff" d="M1031.4 194.3l0-10.2 7.1-3.9 5.4-2.3 5.1-1.5 2-.1 .6 .4-.3 .9-1.1 1.3-4.9 4.5-6.3 5.2z"/><path fill="#3affd0" d="M1031.4 193.7l0-9.1 4.9-2.7 4.7-2.1 3.4-1 1.8-.1 .6 .4-.3 1.1-1 1.4-2.2 2.3-5.9 5.2z"/><path fill="#8cff8c" d="M1031.4 192.9l0-7.6 4.7-2.5 4-1.6 2.2-.3 .6 .5-.3 1.1-1.1 1.5-2.1 2.2-3.8 3.4z"/><path fill="#d0ff3a" d="M1031.4 191.9l0-5.9 4.5-2.2 2.5-.6 .7 .5-.3 1.1-1.4 1.8-2.8 2.8z"/><path fill="#ffec00" d="M1031.4 190.6l0-3.5 2.2-.9 1.2 .2-.6 1.3z"/></g>
<g opacity="0.55"><path fill="#0000a2" d="M1064.6 203.1l0-6.1 3.8-1.9 3.3-1.1 3.2-.8 3.5-.3-7.8 5.5z"/><path fill="#0000c9" d="M1064.6 202.4l0-4.9 3.3-1.6 3.2-1.3 2.9-.7 1.4-.2 .3 .1-.8 .9z"/><path fill="#0000f0" d="M1064.6 201.6l0-3.4 3.8-1.8 1.8-.6 .8-.1 .3 .1-1.5 1.6z"/></g>
<g><path fill="#0000a2" d="M922.9 86.3l-.1-15.6 .1-1.1 .6-.4 .7-.1 1.2 .5 1.8 1.3 2.1 2.2 2.4 2.9 24.2 33.1 7.2 9.4 7.1 8.6 12 13.7 6.6 6.9 5.9 5.7 8.2 7.5 8.6 7.2 9.1 6.8 8.3 5.5 8.7 5 9 4.6 9.3 3.9 8.7 3.1 0 6.1-12.8-1.5-6.5-1.2-6.5-1.3-6.2-1.6-6.1-1.8-11.6-4.1-11-4.8-5.2-2.7-6-3.4-10.5-6.7-5.3-3.9-5.1-4-4.8-4.2-4.6-4.3-4.4-4.3-4.8-5.2-3.8-4.6-4.1-5.3-3.8-5.4-3.5-5.4-2.7-4.6-2.5-4.8-2.2-4.8-2-5-1.7-5.1-1.5-5.2-1.4-6z"/><path fill="#0000c9" d="M925.4 86.1l-.1-4.5 .2-3.1 .3-1.3 .6-1.1 1.3-.4 1.6 .8 1.7 1.3 3.9 4.4 5 6.5 18.8 25 6.7 8.4 7.2 8.7 6.1 6.8 6.3 6.7 11.7 11.5 8.3 7.4 8.8 7 8 5.8 8.3 5.4 8.7 5 7.8 3.9 7.9 3.5 10.1 3.7 0 4.9-6-.4-6.8-.9-6.5-1.1-6.5-1.3-6.2-1.6-6.1-1.8-11.6-4.2-11-4.9-5.2-2.7-6-3.4-4.9-3-5.6-3.8-5.3-4-5.1-4.1-4.8-4.2-4.6-4.4-4.4-4.5-4.8-5.3-3.8-4.6-4.1-5.5-3.3-4.8-3.5-5.7-2.8-5-2.1-4.3-2.3-5.4-1.7-4.8-1.6-5.3-1.1-4.8-1-5.9z"/><path fill="#0000f0" d="M928 91.5l-.2-5 .2-2.8 .2-.8 .7-1.2 1.2-.4 1.6 .6 1.5 1 2.5 2.5 3.3 3.7 3.5 4.4 18.4 23.8 6.9 8.4 7.4 8.6 11.7 12.5 5.8 5.7 6 5.6 8.4 7.3 7.8 6 8.1 5.8 7.1 4.6 8.7 4.9 7.8 3.9 7.9 3.6 10.1 4 0 3.4-4.6-.2-5.5-.5-6.6-.9-6.5-1.1-11.3-2.9-11.8-4-11.2-4.7-5.3-2.7-6.1-3.4-5-2.9-5.7-3.8-9.8-7.4-5-4.2-4.8-4.3-4.5-4.5-4.3-4.6-7.2-8.8-3.5-4.8-3.4-5-3.1-5.2-2.3-4.5-2.2-4.7-2.1-5-1.2-3.4-1.7-6-1-4.4z"/><path fill="#0024ff" d="M930.6 95.4l-.3-4.3 .2-2.1 .5-1.6 1.1-.9 1.9 .4 4 3.2 3.5 3.8 22.4 27.9 6.3 7.5 6.7 7.6 11.9 12.4 5.9 5.6 6.1 5.5 6.3 5.4 6.7 5.2 6.8 4.9 7.1 4.7 8.6 5.1 7.7 4.1 18.6 8.6 .9 .6 .3 .5-.1 .3-1.5 .5-4.1 .2-6.3-.5-6.5-.9-5.2-1-6.3-1.5-6.1-1.8-7.1-2.4-5.7-2.2-5.6-2.4-10.6-5.4-9.9-6.1-4.7-3.2-5.4-4.1-9.3-7.8-4.8-4.5-4.4-4.6-4.3-4.7-4-4.9-3.7-5-3.5-5.1-2.7-4.5-2.6-4.7-2.3-5-1.8-4.3-1.6-4.4-1.5-5.3-.9-4.2z"/><path fill="#005fff" d="M933.5 101.5l-.5-6 .3-2.1 .7-1.5 1.5-.3 2.8 1.4 3.2 2.9 3.7 4.1 17.9 22 12.9 14.7 11.8 12.2 11.9 11.1 11.8 9.7 6.8 5 5.8 4 7.3 4.5 7.4 4.3 18.9 9.5 1.2 .8 .3 .6-.2 .4-.6 .3-1.2 .2-5.2 0-4.8-.5-5.8-.9-5.1-1.1-4.9-1.4-6.1-1.9-5.8-2.1-10.2-4.2-5.4-2.7-5.2-2.8-9.9-6.2-4.7-3.3-5.4-4.1-9.3-8-8.5-8.5-7-8.1-3.9-5.2-3-4.4-2.8-4.5-2.4-4.3-4-8.7-2.2-6.2-1.2-4.3z"/><path fill="#00a1ff" d="M936.5 106.4l-.7-6.4 .4-2.2 .9-1.2 1.9 0 3.5 2.5 2.8 2.9 21.7 25.5 11.7 12.9 10.1 10.1 9.9 9.1 11.7 9.7 11.4 8.3 10.8 6.7 20.4 11.3 1.4 1 .5 .6-.3 .5-.8 .3-1.4 .2-2.2 .1-3.6-.3-6.5-.9-5-1.2-5-1.4-6-1.9-5.8-2.1-10.1-4.4-9.5-5.1-9-5.6-9.3-6.8-8.6-7.4-7.9-7.8-8-9.1-6.5-8.8-4.7-7.6-2.2-4.2-1.5-3.5-1.8-4.4-1.7-5.2z"/><path fill="#00e9ff" d="M939 107.4l-.2-3 .3-2.2 1.2-.9 1.7 .4 1.1 .6 2.2 1.9 3.9 4 17 19.5 11.6 12.6 10 10 9.9 9 10.5 8.8 10.1 7.5 5.8 4 6 3.8 18.8 10.8 1.4 1.1 .5 .7-.3 .6-.8 .3-1.5 .2-2.4 0-4-.4-4.2-.8-5-1.2-4.9-1.5-10.5-3.8-10.1-4.6-8.4-4.5-9-5.8-8.4-6.3-8.7-7.5-7.2-7.1-6.7-7.5-6.1-8.1-5-7.7-2.3-4.3-2.2-4.5-2.2-5.9-1.3-4.6z"/><path fill="#3affd0" d="M942 110.8l-.2-1.9 .5-2.1 .8-.2 1.1-.1 3.4 2.4 6.3 6.4 14.7 16.2 9.2 9.8 9.1 8.9 9.8 8.9 9.4 7.9 9.9 7.5 10.5 7.2 18.5 11 1.6 1.3 .6 .9-.3 .5-.9 .4-3.3 .1-2.6-.3-4.4-.8-10.4-3.1-9.3-3.5-8.9-4.1-8.4-4.7-8-5.2-8.5-6.4-7.9-6.8-6.5-6.5-6.9-7.7-5.7-7.2-5.8-9.1-3.5-6.9-1.2-2.5-1.7-5.2z"/><path fill="#8cff8c" d="M945.9 116.6l-.4-2.5 .8-1.7 2.5 .7 .6 .4 5.6 4.9 15.2 16.1 10.2 10.4 8.4 8 7.9 7 10.4 8.6 10.1 7.4 9.3 6.3 14.5 8.9 2 1.5 .6 1-.3 .6-1.1 .4-2.1 0-3.8-.5-2.5-.5-8.6-2.6-10.3-4-7.8-3.7-7.4-4.1-7-4.6-7.7-5.8-8.1-6.9-6.7-6.5-5.6-6.1-5.9-7.4-4.1-6-4.5-7.7-2.8-6.3z"/><path fill="#d0ff3a" d="M951.1 124l-.6-3.4 1.1-1.2 3.7 2 9.8 9.4 15.3 15.3 7.4 6.8 7.9 6.9 10.4 8.5 9.9 7.5 8.1 5.6 13.5 8.5 1.5 1.2 .7 1.1-.4 .6-1.4 .3-2.9-.3-6.2-1.6-8.3-2.8-8-3.3-6.5-3.2-6.4-3.7-7-4.7-5.8-4.4-6.5-5.5-6.9-6.6-5.7-6.1-4.7-5.7-5.9-8.4-3.3-5.9-.9-1.7z"/><path fill="#ffec00" d="M957.7 132.2l-.8-3.6 1.6-.6 4.6 3.4 1.2 .9 20.7 19.2 13.7 11.8 13.9 10.8 9.2 6.6 12.2 8.1 1.2 1.5-.6 .6-2-.1-4.9-1.1-5.9-1.9-6.9-2.7-6.7-3.2-5.3-2.9-6.2-4-6-4.3-5.7-4.7-5.5-5-6-6.1-4.9-5.6-4-5.2-3.9-5.8z"/><path fill="#ffaf00" d="M966.9 142.5l-1.3-3.8 2.5 .3 9.6 7.8 9.2 7.9 10.8 8.8 12.7 10 15.6 11.4 1.9 2-1 .6-3.4-.6-6.3-2.1-3.4-1.4-5.6-2.7-4.3-2.4-4.2-2.6-5-3.5-5-3.9-5.6-5-3.7-3.6-4.4-4.8-4.2-4.9-1.6-2.4z"/><path fill="#ff6f00" d="M980.4 155.7l-2-3.9 3.8 1.4 16.5 12.5 17.7 13.8 2.7 2.8-1.4 .4-3.9-1.2-2.3-.8-7.6-4-6.2-4.2-6-4.8-4.8-4.4z"/><path fill="#ff2a00" d="M1000.8 170.9l-3.4-3 3.4 2.4 3.3 2.5z"/></g>
<g opacity="0.55"><path fill="#0000a2" d="M898.3 121.1l0-35.9 33.6-8.9 0 39.7z"/><path fill="#0000c9" d="M898.3 118.3l0-31 33.6-8.6 0 34.2z"/><path fill="#0000f0" d="M898.3 114.8l0-24.7 33.6-8.1 0 26.8z"/><path fill="#0024ff" d="M898.3 109.9l0-15.9 33.6-7.4 0 16.2z"/></g>
<g opacity="0.55"><path fill="#0000a2" d="M931.5 165.2l0-39.2 33.5-5.1 0 39.3z"/><path fill="#0000c9" d="M931.5 164.3l0-37.5 33.5-5.1 0 37.5z"/><path fill="#0000f0" d="M931.5 163.3l0-35.7 33.6-5.1-.1 35.7z"/><path fill="#0024ff" d="M931.5 162.2l0-33.8 33.5-5.1 0 33.8z"/><path fill="#005fff" d="M931.5 161l0-31.7 17.3-2.7 16.2-2.3 0 31.6z"/><path fill="#00a1ff" d="M931.5 159.8l0-29.5 17.3-2.7 16.2-2.3 .1 29.3z"/><path fill="#00e9ff" d="M931.5 158.4l0-27 17.3-2.7 16.2-2.3 0 26.8z"/><path fill="#3affd0" d="M931.5 156.8l0-24.2 17.3-2.7 16.2-2.3 0 24z"/><path fill="#8cff8c" d="M931.5 155.1l0-21.1 17.3-2.7 16.2-2.2 0 20.7z"/><path fill="#d0ff3a" d="M931.5 153l0-17.4 17.3-2.7 16.2-2.2 0 16.9z"/><path fill="#ffec00" d="M931.5 150.3l0-12.5 17.3-2.7 16.3-2.1-.1 11.7-16.2 2.9z"/><path fill="#ffaf00" d="M931.5 144.8l0-2.5 .5-.1 7.6-1.5 7-1 7.1-.7 6.8-.3-6.8 2.4-7.1 1.7-7.5 1.3z"/></g>
<g opacity="0.55"><path fill="#0000a2" d="M964.7 190l0-29.4 17.8-2.2 15.7-1.6 0 27z"/><path fill="#0000c9" d="M964.7 189.5l0-28.4 17.8-2.2 15.7-1.7 0 26.1z"/><path fill="#0000f0" d="M964.7 188.9l0-27.4 17.8-2.2 15.7-1.6 0 25z"/><path fill="#0024ff" d="M964.7 188.4l0-26.5 17.8-2.1 15.7-1.6 0 23.9z"/><path fill="#005fff" d="M964.7 187.8l0-25.4 16.2-2 17.3-1.7 0 22.7z"/><path fill="#00a1ff" d="M964.7 187.1l0-24.2 17.8-2.1 15.7-1.6 0 21.5z"/><path fill="#00e9ff" d="M964.7 186.5l0-23 17.8-2.1 15.7-1.6 0 20.2z"/><path fill="#3affd0" d="M964.7 185.7l0-21.7 17.8-2 15.7-1.5 0 18.7z"/><path fill="#8cff8c" d="M964.7 184.9l0-20.3 33.5-3.4 0 17z"/><path fill="#d0ff3a" d="M964.7 184.1l0-18.8 33.5-3.4 0 15.4z"/><path fill="#ffec00" d="M964.7 183.1l0-17.1 33.5-3.1 0 13.2z"/><path fill="#ffaf00" d="M964.7 182.1l0-15.2 22.7-2.2 10.8-.8 0 10.8z"/><path fill="#ff6f00" d="M964.7 181l0-13.2 10.2-.9 23.3-1.6 0 7.6-7.3 1.9z"/><path fill="#ff2a00" d="M964.7 179.5l0-10.6 12.9-.9 15.7-.4 4.9 .9 0 .3-2.4 1.9-9 3-15.7 4.3z"/><path fill="#ef0000" d="M964.7 177.6l0-7.1 10-.3 5.1 1-2.7 2.2-8.7 3.2z"/></g>
<g opacity="0.55"><path fill="#0000a2" d="M997.8 206.4l0-20.6 33.6-3.9 0 15.3-15.7 4.6z"/><path fill="#0000c9" d="M997.8 206.1l0-19.9 33.6-4 0 14.6-15.7 4.6z"/><path fill="#0000f0" d="M997.8 205.7l0-19.2 33.6-4 0 13.9-15.7 4.6z"/><path fill="#0024ff" d="M997.8 205.3l0-18.5 33.6-3.9 0 13-16.2 4.9z"/><path fill="#005fff" d="M997.8 204.9l0-17.8 33.6-3.8 0 12.1-15.7 4.8z"/><path fill="#00a1ff" d="M997.8 204.4l0-17 33.6-3.7 0 11.2-15.7 4.8z"/><path fill="#00e9ff" d="M997.8 204l0-16.2 33.6-3.7 0 10.2-17.3 5.3z"/><path fill="#3affd0" d="M997.8 203.4l0-15.2 33.6-3.6 0 9.1-15.7 4.9z"/><path fill="#8cff8c" d="M997.8 202.9l0-14.3 33.6-3.3 0 7.6-5.9 2-11.4 3.6z"/><path fill="#d0ff3a" d="M997.8 202.3l0-13.2 15.7-1.7 17.9-1.4 0 5.9-15 5.2z"/><path fill="#ffec00" d="M997.8 201.6l0-12 22.5-2.1 8.9-.4 2.2 0 0 3.5-4.2 1.8-7.7 2.9-6.5 2.1-7.4 2.2z"/><path fill="#ffaf00" d="M997.8 200.9l0-10.7 14-1.3 10-.5 4.9 .1 1.6 .7-.8 1.2-2.8 1.6-5.1 2.2-8.9 3.1z"/><path fill="#ff6f00" d="M997.8 200.1l0-9.3 6.5-.6 9.9-.6 5.5 .2 1.8 .8-.9 1.2-3.1 1.7-2.3 1-6 2.2z"/><path fill="#ff2a00" d="M997.8 199.1l0-7.5 8.1-.6 3.9 0 2.8 0 2 .8-1 1.4-3.6 1.8-7.3 2.7z"/><path fill="#ef0000" d="M997.8 197.8l0-5.1 6.6-.2 2.6 .7-1.3 1.5-5 2.2z"/></g>
<g opacity="0.55"><path fill="#0000a2" d="M1031 217.6l0-13.1 9.8-1.5 8.6-1.7 7.6-1.9 7.6-2.4 0 6.1-7.6 3.7-7.6 3.4-8.6 3.6z"/><path fill="#0000c9" d="M1031 217.2l0-12.4 9.8-1.5 8.1-1.6 7.6-1.8 8.1-2.4 0 4.9-7 3.7-7.6 3.5-8.7 3.6z"/><path fill="#0000f0" d="M1031 216.8l0-11.7 9.2-1.4 8.7-1.6 7-1.6 8.7-2.3 0 3.4-3.2 1.8-6.5 3.4-6.5 3-8.7 3.7z"/><path fill="#0024ff" d="M1031 216.4l0-11 14.1-2.2 15.5-3.2 1.9-.3 1 0 .3 .3-.7 1.1-2.7 1.9-7.2 4-9.6 4.4z"/><path fill="#005fff" d="M1031 216l0-10.2 12.5-1.9 11.2-1.9 2.5-.4 1.2 0 .5 .3-.3 .6-.7 .7-1.3 1-5.7 3.2-8.5 3.9z"/><path fill="#00a1ff" d="M1031 215.5l0-9.3 21-2.9 1.6 0 .5 .3-.3 .6-.8 .9-4.3 2.6-7.9 3.7z"/><path fill="#00e9ff" d="M1031 214.9l0-8.3 15.9-1.8 1.8 0 .6 .4-.3 .7-1 .9-4 2.3-6.3 3z"/><path fill="#3affd0" d="M1031 214.3l0-7.2 10.8-1 2.2 .1 .6 .4-.3 .8-1.2 1-2.2 1.3-3.7 1.9z"/><path fill="#8cff8c" d="M1031 213.5l0-5.8 5.8-.4 2.4 .2 .8 .4-.4 .8-1.4 1.1-2.5 1.5z"/><path fill="#d0ff3a" d="M1031 212.5l0-4 3.5 .1 .8 .6-.5 .9-1.5 1.1z"/></g>
<g><path fill="#0000a2" d="M889.3 96.8l-.1-1.7 0-15 .1-1.2 .9-.2 1.3 .4 1.9 1.2 4.5 4.4 6.8 8 21.1 26.4 11.4 13.6 7.3 8 6.7 7.1 7.2 7 6.4 5.9 6.7 5.8 6.9 5.6 7.3 5.5 8.8 6.1 7.9 5 9.5 5.7 8.4 4.6 10.7 5.5 0 13.1-13.5-4-13.8-4.9-11.8-4.7-12.3-5.8-11.5-6.2-10.8-6.6-10-6.9-10.1-8.1-8.3-7.6-8.3-8.7-7.4-9-6.4-9.1-3.1-5-2.9-5-4.8-9.9-4-10.1z"/><path fill="#0000c9" d="M891.5 93.5l-.1-5 .5-2.7 .6-1.1 .9-.4 .6 .1 1.6 .8 1.9 1.4 4.7 4.9 5.7 6.6 21 25.6 13.7 15.6 11.7 12 11.6 10.9 6.7 5.7 7 5.5 7.3 5.4 8.9 6 9.2 5.8 8.3 4.8 8.5 4.7 9.2 4.7 0 12.4-13.5-4-13.8-4.8-13-5.4-12.3-5.9-11.4-6.2-10.7-6.8-9.9-7.1-10-8.2-9.1-8.7-8.1-8.9-7.2-9.2-3.6-5.2-3.2-5.2-5.3-9.7-2.4-5.5-2.2-5.6-1.3-4-1.2-4.4-.9-5z"/><path fill="#0000f0" d="M894 98.2l-.3-4.5 .3-2.5 .1-.6 .7-1.1 1.3-.4 1.8 .7 1.6 1.2 2.7 2.5 3.5 3.7 4.4 4.9 20.4 24.3 7.6 8.7 7.3 7.8 10.9 10.9 11.8 10.7 6.8 5.6 7.1 5.5 7.4 5.3 7.7 5.1 7.9 4.9 8.3 4.8 8.5 4.7 9.2 4.7 0 11.7-13.5-3.9-12.5-4.4-11.8-4.8-12.4-5.8-11.6-6.3-10.8-6.7-10.1-7.1-9.3-7.6-8.5-7.9-8.5-9-6.9-8.6-3.7-5.2-3-4.5-2.7-4.6-3-5.7-4-8.9-2.8-8.3-1-4z"/><path fill="#0024ff" d="M896.4 99l.1-3 .5-1.4 1.1-.7 2.3 .7 4.3 3.5 6.7 7.1 23.3 26.7 11.7 12.6 6.8 6.9 7.3 6.8 7.6 6.7 6.8 5.6 12 9 6.3 4.3 7.8 5 13.7 8 16.3 8.6 0 11-13.5-3.9-12.5-4.3-11.8-4.9-12.4-5.9-11.6-6.3-9.8-6.1-10.1-7.2-9.4-7.6-8.6-8.1-7.8-8.5-7.1-8.8-6.2-9.1-3.4-5.8-2.6-5-2-4.3-2.2-5.6-1.7-5.2-1-3.9-.6-3.2z"/><path fill="#005fff" d="M899.5 106l-.3-3.8 .3-1.9 .8-1.1 1.7-.1 3.3 2 3.7 3.4 4.8 5 17.5 19.6 14.1 15.1 11.9 11.6 11.9 10.5 5.7 4.6 7.1 5.4 6.2 4.4 7.6 5.1 9.2 5.7 8.3 4.8 17.7 9.5 0 10.2-12.1-3.5-12.5-4.2-10.6-4.3-11.3-5.2-11.9-6.3-10-6-9.4-6.5-8.7-6.9-8.1-7.2-8.3-8.5-7.5-8.8-6.8-9.3-4.2-6.9-4.9-9.7-2.5-6.2-.9-2.9-.9-3.2z"/><path fill="#00a1ff" d="M902.7 110.3l-.3-3.4 .3-1.9 .5-.4 .7-.5 1.3 .3 1 .3 1.7 1.2 3.1 2.5 3.5 3.6 21.9 23.5 11.9 12.3 11.1 10.5 12.1 10.3 11.7 9 6.2 4.3 7.7 5.1 16.2 9.7 17.7 9.5 0 9.3-10.7-2.9-12.6-4.3-9.3-3.6-11.5-5.3-10.8-5.6-11.3-6.6-8.5-5.7-9-6.9-8.3-7.2-6.9-6.9-7.1-8.1-7.2-9.4-5.8-9.1-2-3.5-2.1-4.3-1.5-3.4-2-5.5-1.2-4.2z"/><path fill="#00e9ff" d="M906.2 115.4l-.3-3.5 .4-1.9 1.5-.6 3.1 1.6 7.3 6.6 22.6 23.4 9.5 9.4 11.2 10.4 11.1 9.3 11.9 8.9 12.6 8.4 16.2 9.6 17.7 9.6 0 8.3-10.7-2.8-12.6-4.2-8-3.1-10.3-4.7-11-5.6-10.3-5.9-8.7-5.6-8.2-6.1-9.5-8.2-7-6.9-6.8-7.6-6.6-8.4-4.9-7.1-5.1-9.1-2.8-6.4-1.6-4.8z"/><path fill="#3affd0" d="M910.2 120.7l-.5-3.6 .6-1.8 2 .1 4.5 3.1 9.8 9.2 17.9 17.9 8.7 8.3 11.6 10.2 10.1 8.3 10.8 7.9 11.4 7.4 16.2 9.7 17.7 9.7 0 7.2-10.7-2.7-9.8-3.2-9.5-3.6-9.1-4.1-9.9-4.9-10.5-5.9-8.9-5.5-8.3-6.1-7.9-6.5-8.1-7.5-6.2-6.7-6.3-7.9-5.9-8.4-4.1-6.8-3.2-6.6-1.5-3.8z"/><path fill="#8cff8c" d="M914.6 126.1l-.4-3.1 .8-1.6 2.8 .9 3.5 2.6 2.5 2 5.9 5.5 17.6 16.8 11.1 10 11.9 10.1 11.7 8.9 9.9 6.7 13.1 8.1 9.7 5.6 16.3 9.1 0 5.8-7.8-1.7-11.3-3.5-9.5-3.5-7.9-3.4-10-5-10.7-5.8-9-5.6-8.5-6-7-5.8-7.6-6.9-6.2-6.5-5-6-6.1-8.4-5.3-8.6-3-6.2z"/><path fill="#d0ff3a" d="M920.1 132.8l-.6-3.2 1.1-1.3 3.5 1.5 6.6 5.1 24.6 22.4 10.6 9 7.9 6.4 9.4 6.9 11.3 7.5 16 9.6 20.5 11.8 0 4-5.1-.8-8.9-2.3-10.6-3.6-6.7-2.7-10.3-4.8-11-5.8-10.3-6.2-7.6-5.2-7.3-5.6-6.8-6.1-6.5-6.4-5.2-6-3.4-4.2-5.7-8.6-3.6-6.6z"/><path fill="#ffec00" d="M926 139.6l-.7-3.2 1.2-1.2 3.7 1.7 7.9 6.2 12.2 10.7 14.5 12.3 6.7 5.4 6.9 5.3 7.3 5.1 8.8 5.7 17.4 10.4 14.9 8.8 2.9 2.1 1 1.2-.5 .6-1.6 .2-3.2-.3-3.6-.7-4.3-1.1-7-2.2-8.1-3-9.2-4.1-10-5.2-9.4-5.4-9-5.7-6.4-4.7-6.2-5.1-6.8-6.4-6.4-6.7-4.3-5.5-3.4-4.8-3.3-5.6z"/><path fill="#ffaf00" d="M931.7 145.9l-.7-3.2 1.3-1 4.4 2.3 31.4 25.7 10.3 7.8 7.3 5 7.5 4.9 28.3 17 3.6 2.5 1.1 1.4-.6 .6-1.9 .1-4-.6-9.2-2.6-9.5-3.4-9.1-4.3-8.7-4.6-9.4-5.5-7.9-5-6.5-4.8-6.2-5.2-4.2-4-6.4-6.8-3.7-4.3-4.8-7.2z"/><path fill="#ff6f00" d="M937.9 152.2l-.9-3.2 1.8-.6 6.3 4 25.2 19.9 9.3 6.8 11.1 7.4 24.3 14.8 4.8 3.3 1.4 1.6-.7 .6-2.5-.1-1.9-.4-3.3-.7-5.1-1.5-6.7-2.5-9.1-4.4-8.7-4.7-8.3-4.8-7.9-5.1-5.2-3.8-4.5-3.7-5.1-4.7-4.3-4.4-6.7-8.3z"/><path fill="#ff2a00" d="M945.8 159.7l-1.1-3.2 2.2-.1 5.3 3.3 4.1 2.8 16.3 12.6 7 5 11.1 7.3 17.4 10.5 5.5 3.8 1.7 1.9-.9 .6-3-.3-6-1.6-4.4-1.7-6.5-3.2-7.6-4-7.3-4.1-7-4.4-7.8-5.3-4.3-3.4-3.2-2.8-4.1-4.1-3.5-3.9z"/><path fill="#ef0000" d="M954.5 167.3l-1.5-3.3 2.9 .4 1.4 1 5.3 3.6 10 7.4 7 5 9.8 6.3 14.3 8.5 3.3 2.2 2 2.2-1 .6-3-.5-2.6-.8-2.7-1.2-12.8-6.8-12-7.2-9-6.2-5.6-4.6-3-3.2z"/></g>
<g opacity="0.55"><path fill="#0000a2" d="M864.7 132.7l0-37.1 33.6-10.4 0 35.9z"/><path fill="#0000c9" d="M864.7 130.2l0-32.6 33.6-10.3 0 31z"/><path fill="#0000f0" d="M864.7 127l0-26.9 33.6-10 0 24.7z"/><path fill="#0024ff" d="M864.7 122.8l0-19.3 33.6-9.5 0 15.9z"/><path fill="#005fff" d="M864.7 114.5l0-4.5 6.7-.4-4.3 3.8z"/></g>
<g opacity="0.55"><path fill="#0000a2" d="M897.9 170.6l0-34.5 33.6-10.1 0 39.2-8.2 1-8.1 1.1-8.6 1.6z"/><path fill="#0000c9" d="M897.9 169.8l0-33 33.6-10 0 37.5-8.2 .9-8.1 1.3-8.6 1.5z"/><path fill="#0000f0" d="M897.9 169.1l0-31.7 33.6-9.8 0 35.7-8.2 1-8.1 1.3z"/><path fill="#0024ff" d="M897.9 168.2l0-30.2 33.6-9.6 0 33.8-8.2 1.1-8.1 1.3z"/><path fill="#005fff" d="M897.9 167.2l0-28.4 33.6-9.5 0 31.7-8.2 1.2-8.1 1.4z"/><path fill="#00a1ff" d="M897.9 166.3l0-26.7 33.6-9.3 0 29.5-16.3 2.7z"/><path fill="#00e9ff" d="M897.9 165.1l0-24.7 33.6-9 0 27-16.3 2.8z"/><path fill="#3affd0" d="M897.9 164l0-22.6 33.6-8.8 0 24.2-15.7 3z"/><path fill="#8cff8c" d="M897.9 162.6l0-20.2 33.6-8.4 0 21.1-16.8 3.4z"/><path fill="#d0ff3a" d="M897.9 161l0-17.3 33.6-8.1 0 17.4-15.2 3.3z"/><path fill="#ffec00" d="M897.9 159.2l0-14.1 14.6-3.3 19-4 0 12.5-15.7 3.9z"/><path fill="#ffaf00" d="M897.9 156.7l0-9.7 12.5-2.3 13.7-2.3 7.4-.1 0 2.5-2.2 1.3-16.6 5.9z"/></g>
<g opacity="0.55"><path fill="#0000a2" d="M931.1 192.1l0-20.1 18.9-6.7 14.7-4.7 0 29.4-19 1z"/><path fill="#0000c9" d="M931.1 191.8l0-19.5 18.9-6.6 14.7-4.6 0 28.4-19 1.1z"/><path fill="#0000f0" d="M931.1 191.4l0-18.8 18.9-6.5 14.7-4.6 0 27.4-19 1.2z"/><path fill="#0024ff" d="M931.1 191.1l0-18.2 18.9-6.5 14.7-4.5 0 26.5-19 1.3z"/><path fill="#005fff" d="M931.1 190.7l0-17.5 18.9-6.4 14.7-4.4 0 25.4-18.5 1.3z"/><path fill="#00a1ff" d="M931.1 190.2l0-16.6 18.9-6.3 14.7-4.4 0 24.2-18.5 1.5z"/><path fill="#00e9ff" d="M931.1 189.8l0-15.9 18.9-6.1 14.7-4.3 0 23-17.9 1.5z"/><path fill="#3affd0" d="M931.1 189.3l0-15 18.9-6.1 14.7-4.2 0 21.7-17.9 1.6z"/><path fill="#8cff8c" d="M931.1 188.8l0-14.1 19.5-6.1 14.1-4 0 20.3-17.4 1.7z"/><path fill="#d0ff3a" d="M931.1 188.2l0-13.1 19.5-5.9 14.1-3.9 0 18.8-17.4 1.8z"/><path fill="#ffec00" d="M931.1 187.6l0-12 19.5-5.8 14.1-3.8 0 17.1-17.4 2z"/><path fill="#ffaf00" d="M931.1 186.9l0-10.8 19.5-5.5 14.1-3.7 0 15.2-17.4 2.1z"/><path fill="#ff6f00" d="M931.1 186.2l0-9.5 20-5.5 13.6-3.4 0 13.2-17.4 2.3z"/><path fill="#ff2a00" d="M931.1 185.3l0-7.9 33.6-8.5 0 10.6-16.8 2.5z"/><path fill="#ef0000" d="M931.1 184.2l0-5.9 33.6-7.8 0 7.1-16.8 2.7z"/><path fill="#c50000" d="M931.1 182.3l0-2.5 8-.9-5.1 2.5z"/></g>
<g opacity="0.55"><path fill="#0000a2" d="M964.3 210.9l0-14.3 9.2-3.4 8.6-2.9 8.2-2.4 7.5-2.1 0 20.6-6.5 1.4-7.5 1.2-8.7 1z"/><path fill="#0000c9" d="M964.3 210.6l0-13.8 9.2-3.3 8.6-2.9 15.7-4.4 0 19.9-6.5 1.4-7.5 1.2-8.7 1z"/><path fill="#0000f0" d="M964.3 210.4l0-13.4 16.8-5.8 8.6-2.6 8.1-2.1 0 19.2-6.5 1.4-7.5 1.2-8.7 1.1z"/><path fill="#0024ff" d="M964.3 210.1l0-12.9 16.8-5.7 16.7-4.7 0 18.5-6.5 1.4-7.5 1.3-8.7 1z"/><path fill="#005fff" d="M964.3 209.8l0-12.4 16.8-5.6 16.7-4.7 0 17.8-6.5 1.4-7.5 1.3-8.7 1.1z"/><path fill="#00a1ff" d="M964.3 209.5l0-11.8 16.2-5.4 17.3-4.9 0 17-6.5 1.4-7.5 1.3-8.7 1.2z"/><path fill="#00e9ff" d="M964.3 209.2l0-11.3 16.2-5.3 17.3-4.8 0 16.2-6.5 1.4-8.1 1.4z"/><path fill="#3affd0" d="M964.3 208.9l0-10.7 16.2-5.2 17.3-4.8 0 15.2-6.5 1.4-8.1 1.5z"/><path fill="#8cff8c" d="M964.3 208.5l0-10 15.7-5 17.8-4.9 0 14.3-6.5 1.4-8.1 1.5z"/><path fill="#d0ff3a" d="M964.3 208.1l0-9.3 14.6-4.5 18.9-5.2 0 13.2-15.1 3z"/><path fill="#ffec00" d="M964.3 207.7l0-8.6 14-4.2 19.5-5.3 0 12-15.7 3.2z"/><path fill="#ffaf00" d="M964.3 207.2l0-7.7 13-3.8 20.5-5.5 0 10.7-16.2 3.4z"/><path fill="#ff6f00" d="M964.3 206.7l0-6.8 11.9-3.4 21.6-5.7 0 9.3-16.2 3.4z"/><path fill="#ff2a00" d="M964.3 206l0-5.6 9.7-2.7 23.8-6.1 0 7.5-20.5 4.4z"/><path fill="#ef0000" d="M964.3 205.2l0-4.2 8.6-2.3 17.9-4.1 7-1.9 0 5.1z"/><path fill="#c50000" d="M964.3 204l0-2 6.5-1.4 8.2-1.3-6.4 2.6z"/></g>
<g opacity="0.55"><path fill="#0000a2" d="M997.5 229.5l0-14.9 18.4-4.9 7.6-2.4 7.5-2.8 0 13.1-7.5 3.4-8.2 3.1-8.6 2.8z"/><path fill="#0000c9" d="M997.5 229.1l0-14.2 18.4-4.9 7.6-2.4 7.5-2.8 0 12.4-7 3.2-8.1 3.2-9.2 3z"/><path fill="#0000f0" d="M997.5 228.8l0-13.7 18.4-4.9 7.6-2.4 7.5-2.7 0 11.7-7 3.3-8.1 3.1-9.2 3.1z"/><path fill="#0024ff" d="M997.5 228.5l0-13.1 18.4-4.9 7.6-2.4 7.5-2.7 0 11-7 3.3-8.1 3.2-9.2 3z"/><path fill="#005fff" d="M997.5 228.1l0-12.4 18.4-4.9 7.6-2.3 7.5-2.7 0 10.2-7 3.3-8.1 3.2-9.2 3z"/><path fill="#00a1ff" d="M997.5 227.7l0-11.7 18.4-4.8 7.6-2.4 7.5-2.6 0 9.3-7 3.3-8.1 3.3-9.2 3z"/><path fill="#00e9ff" d="M997.5 227.3l0-11 17.8-4.6 7.6-2.3 8.1-2.8 0 8.3-7 3.4-7.6 3.1-9.2 3.1z"/><path fill="#3affd0" d="M997.5 226.8l0-10.1 17.3-4.4 7.6-2.3 8.6-2.9 0 7.2-7 3.5-8.1 3.2-9.2 3.2z"/><path fill="#8cff8c" d="M997.5 226.3l0-9.2 17.8-4.6 15.7-4.8 0 5.8-.5 .3-6.5 3.3-7 3-9.3 3.2z"/><path fill="#d0ff3a" d="M997.5 225.7l0-8.2 15.1-3.7 18.4-5.3 0 4-4.8 2.8-5.5 2.5-7 2.8-8.1 2.7z"/><path fill="#ffec00" d="M997.5 225.1l0-7 14.6-3.5 13.5-3.6 3.5-.8 1.4 .3-.7 1.1-2.5 1.9-6.6 3.4-5.4 2.2-5.9 2.2z"/><path fill="#ffaf00" d="M997.5 224.2l0-5.5 22.8-5.2 2.5 0-1.3 1.3-5.6 3-10.8 4.1z"/><path fill="#ff6f00" d="M997.5 223.1l0-3.5 7.9-1.5 4-.2-2 1.5-7.1 2.8z"/></g>
<g><path fill="#0000a2" d="M855.3 106.1l-.2-1.8 0-14.1 .2-1.1 .9-.4 1.4 .5 1.8 1.2 2.5 2.3 3.4 3.6 7.5 8.8 25 30.9 10.7 12.7 6.2 7 5.5 5.9 5.8 5.7 6 5.5 6.2 5.3 7.8 6.1 6.7 4.8 8.4 5.6 7.3 4.5 9 5.1 7.8 4.2 12.3 6.2 0 14.9-54.2-30.3-20.8-12.2-9.9-6.2-9.1-6.1-7.5-5.5-6.9-5.6-6.2-5.7-5.7-6.1-5-6.4-3.9-6-4.3-8.2-3.6-8.2-3-8.9z"/><path fill="#0000c9" d="M857.4 103l-.1-4.6 .5-2.6 .7-1.2 .9-.4 .7 .1 1.4 .7 1.8 1.3 5.5 5.6 7.8 9 23.1 28 9.8 11.4 6.3 7 5.6 5.8 5.8 5.6 4.8 4.4 6.2 5.3 7.8 6 6.7 4.9 8.4 5.5 7.3 4.5 9 5.1 20.1 10.5 0 14.2-52.9-29.5-22.1-13-9.9-6.3-9.1-6.3-8.4-6.4-6.8-5.7-6.9-6.8-5.5-6.3-4.8-6.9-3.8-6.5-3.8-7.9-3.1-8.6-1.3-4.8-.9-4.2z"/><path fill="#0000f0" d="M859.7 107.6l-.2-3.9 .1-1.8 .3-1.4 .7-1.1 .5-.4 .7-.2 .9 .3 1.7 .8 1.9 1.5 6.5 6.4 7.2 8.2 22.5 26.8 9.1 10.3 10.9 11.5 5.8 5.6 4.9 4.3 6.3 5.2 6.5 5 6.7 4.8 8.4 5.5 7.3 4.5 9 5.1 20.1 10.5 0 13.7-48.9-27.2-22.6-13.3-10.2-6.4-9.4-6.4-7.7-5.8-7.1-5.9-6.4-6-5.9-6.4-5.3-6.9-4.1-6.6-3.6-7.2-3.1-7.9-1.7-5.5-.7-3.1z"/><path fill="#0024ff" d="M862.3 112.5l-.4-4.9 .2-1.9 .5-1.4 1-.9 2 .2 2.2 1.5 2.4 1.9 6.4 6.4 7.8 8.8 21 24.5 10.4 11.4 9 9.1 9.6 8.6 6.3 5.1 6.6 5 6.8 4.7 7 4.6 7.3 4.5 9 5.2 20.1 10.5 0 13.1-44.8-24.9-24.4-14.2-10.3-6.6-8.5-5.8-7-5.1-7.4-6-6.8-6.2-5.4-5.7-5-5.9-4.5-6.5-4-7.3-3.1-7-2.6-8z"/><path fill="#005fff" d="M864.9 115.8l-.4-4.2 .3-2 .7-1.4 1.4-.4 1.9 .8 1.7 1 4.2 3.5 4.6 4.7 26.1 29.5 10.4 11.2 10.2 10.1 9.7 8.5 6.3 5.1 6.6 4.9 6.9 4.7 7 4.5 14.9 8.8 20.1 10.6 0 12.4-39.2-21.6-26.3-15.3-9.5-5.9-8.8-6-8.3-6-6.7-5.3-7.1-6.4-6.4-6.5-5.2-6.1-4.1-5.7-3.1-5.2-3.5-7.1-2.5-6.9-1-3.5z"/><path fill="#00a1ff" d="M867.8 120.3l-.5-4.7 .3-2 1-1.1 2 .1 4 2.4 4.7 4.4 5.9 6 21.2 23.7 9.4 10 10.2 9.9 9.7 8.4 6.3 5.1 6.6 4.9 6.9 4.6 7 4.6 14.9 8.7 20.1 10.7 0 11.7-35-19.2-16.5-9.4-12.8-7.6-9.5-6-7.9-5.3-8.4-6.1-5.9-4.7-6.4-5.7-6.8-6.7-5.4-6.2-4.3-5.7-3.9-6.4-3.1-6.2-2.5-6.9z"/><path fill="#00e9ff" d="M870.5 121.6l-.1-1.8 .4-2 1.2-.9 2.6 .7 4.7 3.5 8.2 8.2 22 23.7 9.6 9.9 5.7 5.4 5.9 5.3 6.2 5.2 6.4 5 10.8 7.6 12.8 8.1 13.6 7.8 17 9 0 11-15.3-8.1-15.3-8.5-16.9-9.6-14.3-8.5-8.5-5.3-8.1-5.4-7.5-5.5-7.2-5.5-7.5-6.7-6.9-6.9-5.6-6.5-4.4-5.9-4.1-6.9-2.5-5.4-.8-2.1-1.3-4.4z"/><path fill="#3affd0" d="M874 127.7l-.4-3.6 .5-2 1.6-.5 3.7 1.8 4.2 3.7 4.6 4.2 22.3 23.4 9.7 9.7 9.3 8.6 8.7 7.1 11.8 8.8 12.5 8.2 14.9 8.7 20.1 10.9 0 10.1-13.9-7.3-15.2-8.3-15.7-8.9-13.2-7.8-8.8-5.4-8.2-5.5-7.8-5.5-7.3-5.7-5.9-5-5.5-5.3-6-6.5-4.8-5.9-4.5-6.4-2.8-5-1.4-2.9-1.2-3.2z"/><path fill="#8cff8c" d="M877.2 128.7l.7-1.9 2.3 .2 5.2 3.5 11.1 10.5 16.1 16.5 9.9 9.6 10.7 9.4 11.4 8.9 9.5 6.6 11.3 7.2 13.5 7.8 18.6 10.1 0 9.2-10.7-5.5-15.5-8.3-15.8-9-13.5-7.9-10-6.3-7.2-4.7-7.9-5.6-6.4-5-7-6-6.6-6.4-5.3-5.9-5.6-7.2-4.6-7.3-2.1-4.5-1.7-5.1z"/><path fill="#d0ff3a" d="M882.1 136.9l-.4-3.2 .9-1.4 3.1 1 6.6 5.2 2.8 2.6 20.7 20.2 9 8.4 8.4 7.2 7.5 6 10.6 7.6 12.7 8.1 13.4 7.9 20.1 11 0 8.2-10.7-5.4-12.4-6.6-24.4-13.9-10.5-6.3-8.8-5.5-7-4.8-6.8-5.1-7.4-6-6-5.3-4.8-4.9-4.5-5.1-3.4-4.4-3.7-5.2-3.3-6z"/><path fill="#ffec00" d="M887.5 142.8l-.6-3.2 1.2-1.1 3.8 1.8 7.4 6 16.5 15.7 10.2 9.2 8.4 7.2 8.9 6.8 9.4 6.6 11.3 7.1 11.9 7 21.6 12.2 0 7-10.7-5.3-9.4-4.9-10.5-5.7-11.4-6.6-10.9-6.4-10.2-6.4-6.1-4-6.9-5.1-5.9-4.6-6-5.1-5.1-4.7-4.3-4.5-6.6-8.2-3.9-6.3z"/><path fill="#ffaf00" d="M893.4 148.9l-.8-3.1 1.3-.9 4.2 2.2 7.3 6.2 12.6 11.5 9.2 8.1 8.5 7 8.9 6.7 9.5 6.5 9.9 6.2 33.5 19.4 0 5.5-6.6-2.9-8.9-4.5-16.6-8.9-22.1-13.1-10.1-6.4-6-4.2-5.8-4.3-5.6-4.5-6.4-5.7-4-3.9-3.9-4.3-2.8-3.6-3.1-4.6z"/><path fill="#ff6f00" d="M899.1 154.6l-.7-2.9 1.5-.6 5.3 3.4 18.5 16 8.3 7 8.7 6.8 9.3 6.5 14 8.9 31 18.2 2.5 1.7 0 3.5-5.5-2.1-8.4-4-6.2-3.1-9-4.9-11.5-6.6-10.9-6.6-9.1-5.7-7.4-5-5.8-4.4-4.6-3.7-5.4-4.8-5.6-5.4-2.7-3-3.5-4.5z"/><path fill="#ff2a00" d="M905.9 161l-1.1-2.9 2.2 .2 8.1 6.1 20.6 16.7 10.3 7.5 13.7 9 27.1 16.2 6.3 4.1 2.3 2.1-1.2 .3-4.1-1.3-8.6-3.8-7.1-3.6-7.5-4.1-12.8-7.5-9.5-5.8-8.9-5.8-5-3.3-4.7-3.6-8-6.8-7.8-7.9z"/><path fill="#ef0000" d="M915.4 169.5l-1.5-3 2.9 1 21.4 16.2 10.4 7.4 9.7 6.2 25.3 15.6 3.1 2.5-1.5 .1-5.6-2.2-9.7-4.9-14.4-8.4-14.8-9.2-8.7-6-7.2-5.6-4-3.7-1.7-1.7z"/><path fill="#c50000" d="M928.1 179.9l-2.9-3.7 5.5 3.3 10 7.3 7.9 5.4 8.3 5.3 11.5 7 6.6 4.5-3.2-.9-4.9-2.6-10-6-9.6-5.9-7.8-5.2-7.5-5.4z"/></g>
<g opacity="0.55"><path fill="#0000a2" d="M831.1 142.6l0-35.4 33.6-11.6 0 37.1-16.2 4.6z"/><path fill="#0000c9" d="M831.1 140.5l0-31.6 33.6-11.3 0 32.6-15.7 4.7z"/><path fill="#0000f0" d="M831.1 138l0-27.1 33.6-10.8 0 26.9z"/><path fill="#0024ff" d="M831.1 134.8l0-21.5 16-4.8 17.6-5 0 19.3z"/><path fill="#005fff" d="M831.1 130.3l0-13.4 18.1-4.6 14.4-2.5 1.1 .2 0 4.5-.5 .4-6.2 3.6-3 1.5-12.5 5.7z"/></g>
<g opacity="0.55"><path fill="#0000a2" d="M864.3 178.5l0-31 33.6-11.4 0 34.5z"/><path fill="#0000c9" d="M864.3 177.8l0-29.8 33.6-11.2 0 33z"/><path fill="#0000f0" d="M864.3 177.2l0-28.6 33.6-11.2 0 31.7z"/><path fill="#0024ff" d="M864.3 176.5l0-27.4 33.6-11.1 0 30.2z"/><path fill="#005fff" d="M864.3 175.6l0-25.8 33.6-11 0 28.4z"/><path fill="#00a1ff" d="M864.3 174.8l0-24.3 33.6-10.9 0 26.7z"/><path fill="#00e9ff" d="M864.3 173.8l0-22.6 33.6-10.8 0 24.7z"/><path fill="#3affd0" d="M864.3 172.9l0-20.9 33.6-10.6 0 22.6z"/><path fill="#8cff8c" d="M864.3 171.7l0-18.8 33.6-10.5 0 20.2z"/><path fill="#d0ff3a" d="M864.3 170.5l0-16.6 33.6-10.2 0 17.3z"/><path fill="#ffec00" d="M864.3 169l0-14 33.6-9.9 0 14.1z"/><path fill="#ffaf00" d="M864.3 167.2l0-10.7 33.6-9.5 0 9.7z"/><path fill="#ff6f00" d="M864.3 164.4l0-5.8 10.7-2.7 15.8-2.6-8.7 4.6z"/></g>
<g opacity="0.55"><path fill="#0000a2" d="M897.5 201.8l0-19.5 18.4-5.9 15.2-4.4 0 20.1z"/><path fill="#0000c9" d="M897.5 201.4l0-18.8 18.4-5.9 15.2-4.4 0 19.5z"/><path fill="#0000f0" d="M897.5 201l0-18.2 18.4-5.8 15.2-4.4 0 18.8z"/><path fill="#0024ff" d="M897.5 200.7l0-17.6 18.4-5.8 15.2-4.4 0 18.2z"/><path fill="#005fff" d="M897.5 200.3l0-16.9 18.4-5.8 15.2-4.4 0 17.5z"/><path fill="#00a1ff" d="M897.5 199.9l0-16.1 18.4-5.9 15.2-4.3 0 16.6z"/><path fill="#00e9ff" d="M897.5 199.4l0-15.3 18.4-5.8 15.2-4.4 0 15.9z"/><path fill="#3affd0" d="M897.5 198.9l0-14.4 18.4-5.8 15.2-4.4 0 15z"/><path fill="#8cff8c" d="M897.5 198.4l0-13.5 18.4-5.8 15.2-4.4 0 14.1z"/><path fill="#d0ff3a" d="M897.5 197.9l0-12.6 18.4-5.8 15.2-4.4 0 13.1z"/><path fill="#ffec00" d="M897.5 197.3l0-11.5 18.4-5.8 15.2-4.4 0 12z"/><path fill="#ffaf00" d="M897.5 196.6l0-10.3 19-5.9 14.6-4.3 0 10.8-15.7 4.4z"/><path fill="#ff6f00" d="M897.5 195.9l0-9 19-5.9 14.6-4.3 0 9.5-16.8 4.7z"/><path fill="#ff2a00" d="M897.5 195l0-7.4 33.6-10.2 0 7.9-16.8 4.6z"/><path fill="#ef0000" d="M897.5 193.8l0-5.3 33.6-10.2 0 5.9-17.3 4.6z"/><path fill="#c50000" d="M897.5 191.5l0-1.1 15.7-4.5 17.9-6.1 0 2.5-5.6 1.4-8 1.4-4.8 1.2-6.5 2z"/></g>
<g opacity="0.55"><path fill="#0000a2" d="M930.7 220.3l0-14.4 16.2-4.9 17.4-4.4 0 14.3-14.7 3.8z"/><path fill="#0000c9" d="M930.7 220l0-13.8 16.2-4.9 17.4-4.5 0 13.8-14.7 3.8z"/><path fill="#0000f0" d="M930.7 219.7l0-13.3 16.2-4.9 17.4-4.5 0 13.4-14.7 3.8z"/><path fill="#0024ff" d="M930.7 219.4l0-12.8 16.2-4.9 17.4-4.5 0 12.9-14.7 3.8z"/><path fill="#005fff" d="M930.7 219.1l0-12.3 16.2-4.9 17.4-4.5 0 12.4-14.7 3.8z"/><path fill="#00a1ff" d="M930.7 218.8l0-11.7 16.2-4.9 17.4-4.5 0 11.8-14.7 3.7z"/><path fill="#00e9ff" d="M930.7 218.4l0-11 15.7-4.8 17.9-4.7 0 11.3-14.7 3.7z"/><path fill="#3affd0" d="M930.7 218l0-10.3 15.7-4.8 17.9-4.7 0 10.7-15.2 3.8z"/><path fill="#8cff8c" d="M930.7 217.6l0-9.6 15.7-4.8 17.9-4.7 0 10-15.2 3.8z"/><path fill="#d0ff3a" d="M930.7 217.2l0-8.8 15.7-4.8 17.9-4.8 0 9.3-15.2 3.7z"/><path fill="#ffec00" d="M930.7 216.7l0-8 16.2-4.9 17.4-4.7 0 8.6-15.2 3.7z"/><path fill="#ffaf00" d="M930.7 216.1l0-6.9 15.7-4.8 17.9-4.9 0 7.7-15.2 3.6z"/><path fill="#ff6f00" d="M930.7 215.5l0-5.8 16.2-5 17.4-4.8 0 6.8-15.7 3.7z"/><path fill="#ff2a00" d="M930.7 214.6l0-4.2 14.1-4.4 19.5-5.6 0 5.6-14.7 3.3z"/><path fill="#ef0000" d="M930.7 213.2l0-1.7 8.7-2.9 24.9-7.6 0 4.2-6.5 1.2-10.3 2.3z"/><path fill="#c50000" d="M962.5 204.2l-2.4-.3 4.2-1.9 0 2z"/></g>
<g opacity="0.55"><path fill="#0000a2" d="M963.9 236.1l0-11.7 18.4-5.1 15.2-4.7 0 14.9-8.2 1.1-7.5 1.3-8.7 1.9z"/><path fill="#0000c9" d="M963.9 235.8l0-11.2 18.4-5.1 15.2-4.6 0 14.2-8.2 1.2-7.5 1.3-8.7 1.9z"/><path fill="#0000f0" d="M963.9 235.5l0-10.6 18.4-5.2 15.2-4.6 0 13.7-8.2 1.2-7.5 1.3-8.7 1.9z"/><path fill="#0024ff" d="M963.9 235.2l0-10.1 18.4-5.1 15.2-4.6 0 13.1-8.2 1.2-7.5 1.3-8.7 1.9z"/><path fill="#005fff" d="M963.9 234.8l0-9.4 18.9-5.3 14.7-4.4 0 12.4-8.2 1.2-7.5 1.4-8.7 1.9z"/><path fill="#00a1ff" d="M963.9 234.4l0-8.7 18.9-5.3 14.7-4.4 0 11.7-8.2 1.2-7.5 1.4z"/><path fill="#00e9ff" d="M963.9 234l0-8 33.6-9.7 0 11-15.7 2.6z"/><path fill="#3affd0" d="M963.9 233.5l0-7.1 33.6-9.7 0 10.1-16.3 2.8z"/><path fill="#8cff8c" d="M963.9 233l0-6.1 33.6-9.8 0 9.2-15.7 2.7z"/><path fill="#d0ff3a" d="M963.9 232.3l0-4.9 33.6-9.9 0 8.2-15.7 2.8z"/><path fill="#ffec00" d="M963.9 231.4l0-3.4 20-6 13.6-3.9 0 7-15.7 2.7z"/><path fill="#ffaf00" d="M966 229l3.4-1.7 9.1-3 19-5.6 0 5.5-23.8 4.2-5.9 .8z"/><path fill="#ff6f00" d="M983.3 225.3l-2.3-.2 4.5-2 12-3.5 0 3.5z"/></g>
<g><path fill="#0000a2" d="M821.1 118l-.1-1.9 0-14.9 .1-1.2 .5-.4 .7-.2 1.2 .5 1.9 1.4 2.8 2.6 3.3 3.7 30.3 36.9 13.6 15.8 11.8 12.3 10.2 9.6 6.8 5.8 5.6 4.3 5.8 4.2 6 3.9 14.1 8.4 28.2 15.6 0 11.7-16.6-7.7-14.8-7.2-13.9-7.3-13-7.3-12.1-7.3-11.1-7.3-10.3-7.4-9.3-7.3-8.4-7.3-7.5-7.4-6.5-7.3-5.7-7.3-4.7-7.3-3.8-7.3-2.9-7.3-1.3-4.1z"/><path fill="#0000c9" d="M823.3 116.3l-.3-5.4 .3-3.5 .6-2 .9-.6 .6-.1 1.5 .6 1.6 1.1 2.5 2.3 3.1 3.4 6.3 7.2 23.4 28.1 13.9 15.7 10.8 11.1 10.3 9.5 5.4 4.5 5.6 4.4 5.8 4.1 6 3.9 12.5 7.5 29.8 16.5 0 11.2-16.6-7.6-14.8-7.3-13.9-7.3-13-7.3-12.1-7.4-11.1-7.4-10.3-7.4-9.3-7.5-9.3-8.3-7.3-7.6-6.5-7.6-5.6-7.7-4.1-7-3.5-7.8-2-6.5-.6-3.3z"/><path fill="#0000f0" d="M825.1 114.9l.1-2.6 .2-1.5 .6-1.2 1.1-.7 1.1 .2 1.3 .5 3.5 2.9 6.7 7.1 25.1 29.6 14.1 15.6 7.1 7.3 6.2 6 6.6 5.8 6.8 5.7 10 7.3 10.6 6.8 11.1 6.5 26.6 14.7 0 10.6-16.6-7.6-14.8-7.3-13.9-7.3-13-7.4-12.1-7.4-12.3-8.3-10.1-7.5-9.3-7.7-9.1-8.5-7.3-7.7-6.4-8-4.9-7.3-3.6-7-2.8-6.8-.8-2.9-1.1-4.9-.5-3.8z"/><path fill="#0024ff" d="M827.3 119.5l.1-4.1 .4-1.4 .9-1 1.3 0 1 .2 1.5 1 2.1 1.6 3.8 3.8 4.8 5.2 23.6 27.2 13.2 14.4 7.2 7.2 6.3 6 6.6 5.8 6.9 5.5 8.6 6.3 10.6 6.7 11.1 6.5 26.6 14.7 0 10.1-16.6-7.6-13.2-6.4-14-7.4-11.7-6.5-11-6.6-11.4-7.6-10.6-7.6-8.6-6.9-8.8-7.8-7.9-8-6.2-7.2-5.5-7.4-4.8-8.1-3.1-7-1.4-4.3-.9-3.6z"/><path fill="#005fff" d="M830 125.3l-.4-4.8 .2-1.9 .6-1.3 1.1-.5 .5 0 1.6 .6 1.1 .6 3 2.6 3.4 3.2 6.6 7.2 20.2 22.7 11 11.9 10.8 10.8 6.4 5.8 5.4 4.6 9.7 7.6 5.9 4 6 3.9 12.6 7.4 28.2 15.7 0 9.4-14.9-6.7-13.3-6.5-12.6-6.5-11.9-6.5-11.1-6.7-10.4-6.7-9.7-6.9-8.9-6.9-8.3-7.1-8.4-8.1-6-6.5-5.9-7.6-4.7-6.9-4-7.7-2-5-1.1-3.9z"/><path fill="#00a1ff" d="M832.5 128.6l-.4-2.4-.1-2.4 .2-1.9 .9-1.1 1.9 .1 3.9 2.5 6.5 6.3 25.7 28.1 12.5 13 9.9 9.5 9.3 7.9 9.9 7.5 11.9 7.8 11.1 6.5 28.2 15.7 0 8.7-13.2-5.9-13.4-6.4-12.7-6.5-11.9-6.5-11.2-6.7-9.3-6-9.8-6.9-9.2-7.1-8.4-7.2-7.7-7.4-7-7.5-5.5-6.9-4.2-6.3-3.3-5.8-1.9-4.1-1.1-2.8-.6-1.8z"/><path fill="#00e9ff" d="M836.9 137.1l-2-7.1-.2-2.6 .4-1.8 1.2-.7 .8 .1 1.8 .7 2.1 1.6 3.5 2.9 4.8 4.9 23.9 25.6 9.2 9.4 9.8 9.4 10.6 9 9.9 7.5 11.9 7.8 11.1 6.4 28.2 15.8 0 8-14.9-6.7-11.7-5.5-11.3-5.8-11.9-6.5-9.9-5.8-9.4-6-10-7-8.2-6.3-7.7-6.3-7.1-6.6-7.4-7.7-5.9-7.1-5.2-7.2-3.6-6.2z"/><path fill="#3affd0" d="M838.4 135l-.5-3.6 .5-1.7 1.6-.4 3.4 1.9 3.5 3 4.5 4.3 22.9 24 8.1 8.1 7.3 7 7.7 6.8 6.8 5.6 5.6 4.2 5.8 4.1 6 3.9 10.9 6.5 31.4 17.7 0 7.1-11.5-5-13.5-6.3-12.7-6.5-10.6-5.8-10-5.8-9.5-6.1-7.6-5.3-8.5-6.3-7.9-6.4-7.3-6.7-6.8-6.9-6.2-7.2-4.1-5.4-3.9-6.1-3.1-5.9-1.7-4.4z"/><path fill="#8cff8c" d="M841.7 138.5l-.3-2.8 .7-1.5 2.1 .2 4.3 3 4.2 3.8 7.1 7 22.6 23 8.6 8 7.8 6.7 11 8.7 5.8 4 6 3.9 10.9 6.5 31.4 17.9 0 6.1-13.2-5.8-11.8-5.4-9.6-4.9-10.7-5.7-10.2-5.9-9.6-6-7.8-5.3-8.6-6.4-7-5.6-6.5-5.8-6.1-6-6.6-7.4-6.1-7.8-3.9-6.2-1-1.8-2.3-4.9z"/><path fill="#d0ff3a" d="M846.2 144l-.7-3.5 .8-1.3 2.8 1.1 1 .7 4.3 3.4 2.7 2.5 10.8 10.4 11 11 7.1 6.9 7.5 6.7 8 6.7 9.7 7.4 11.9 7.8 7.8 4.7 33 18.9 0 4.9-13.2-5.6-8.5-3.8-9.7-4.8-10.9-5.7-10.4-5.9-8.4-5.1-8-5.3-7.6-5.5-8.3-6.6-6.8-5.8-6-5.8-4.3-4.7-5.7-6.8-5.1-7.2-3.6-6.4z"/><path fill="#ffec00" d="M851 149.2l-.8-3.2 1.1-1 3.7 1.9 7.6 6.5 16.3 15.6 8.3 7.8 8.9 7.8 8.1 6.6 8.5 6.2 10.4 6.8 9.4 5.6 21.6 12.3 9.8 5.9 0 3.4-10.8-4.2-7.5-3.3-9.9-4.7-9.5-4.8-9.1-5-8.7-5.1-8.3-5.3-7.9-5.4-7.4-5.7-7.1-5.8-6.6-6-5.3-5.4-4-4.6-5.1-6.7-3.9-6.3z"/><path fill="#ffaf00" d="M856.4 154.9l-.7-2.9 1.4-.6 4.3 2.6 8.6 7.4 12.4 11.7 9.8 8.8 9.3 7.6 9.7 7.3 7.4 5 7.6 4.7 29.6 17.3 5.4 3.6 1.7 1.6-.9 .3-3-.7-5.8-2.2-11-4.7-8.1-3.9-11-5.6-9-5.1-9.9-6-8.1-5.4-6.4-4.8-6.1-4.9-7-6-5.5-5.2-4.3-4.6-4-4.9-4-5.8z"/><path fill="#ff6f00" d="M862.4 161.1l-.8-2.8 1.6-.4 5 3.4 15.4 13.7 9.9 8.6 9.3 7.5 8.4 6.2 5.9 4 7.5 4.8 22.7 13.3 6.1 3.9 2 1.9-1 .2-5.4-1.7-6.8-2.7-11.3-5.4-9.3-4.9-8.9-5-8.5-5.3-6.8-4.6-6.4-4.7-6.2-5.1-7.1-6.2-5.6-5.5-3.2-3.6-3.8-5z"/><path fill="#ff2a00" d="M868.8 167.4l-1-2.8 2 .2 2.3 1.7 22.7 19 8 6.3 7 5.2 11.8 7.8 22.7 13.8 2.7 2.2-1.4 .2-5.2-1.8-6.3-2.9-9.5-4.7-13.4-7.6-7-4.4-5.4-3.7-5.3-3.9-6.3-5.1-3.6-3.1-5.9-5.7-4.5-4.7-2.1-2.7z"/><path fill="#ef0000" d="M879.3 177.2l-2-3.5 4 2.1 18.8 14.7 8.3 6.3 8.7 6 12.2 7.7 5.9 4.1-2.9-.6-12.2-6-10.3-5.9-9.7-6.4-6.6-5-6.7-5.7z"/><path fill="#c50000" d="M897.4 191.4l-3.6-3.5 5 3.5 11 8.2-4.2-2.4-4.1-2.7z"/></g>
<g opacity="0.55"><path fill="#0000a2" d="M797.5 153.5l0-33.4 33.6-12.9 0 35.4z"/><path fill="#0000c9" d="M797.5 151.7l0-30.1 33.6-12.7 0 31.6z"/><path fill="#0000f0" d="M797.5 149.6l0-26.3 33.6-12.4 0 27.1z"/><path fill="#0024ff" d="M797.5 147l0-21.7 33.6-12 0 21.5z"/><path fill="#005fff" d="M797.5 143.6l0-15.7 18.4-6.2 15.2-4.8 0 13.4-19.1 7.8z"/><path fill="#00a1ff" d="M797.6 137.4l-.1-4.7 8.7-1-4.6 3.7z"/></g>
<g opacity="0.55"><path fill="#0000a2" d="M830.7 188.5l0-26.7 33.6-14.3 0 31z"/><path fill="#0000c9" d="M830.7 187.9l0-25.7 33.6-14.2 0 29.8z"/><path fill="#0000f0" d="M830.7 187.3l0-24.6 33.6-14.1 0 28.6z"/><path fill="#0024ff" d="M830.7 186.8l0-23.6 33.6-14.1 0 27.4z"/><path fill="#005fff" d="M830.7 186.1l0-22.4 33.6-13.9 0 25.8z"/><path fill="#00a1ff" d="M830.7 185.4l0-21.1 33.6-13.8 0 24.3z"/><path fill="#00e9ff" d="M830.7 184.6l0-19.8 33.6-13.6 0 22.6z"/><path fill="#3affd0" d="M830.7 183.8l0-18.3 33.6-13.5 0 20.9z"/><path fill="#8cff8c" d="M830.7 182.9l0-16.7 33.6-13.3 0 18.8z"/><path fill="#d0ff3a" d="M830.7 181.9l0-14.9 33.6-13.1 0 16.6z"/><path fill="#ffec00" d="M830.7 180.7l0-12.8 33.6-12.9 0 14z"/><path fill="#ffaf00" d="M830.7 179.3l0-10.3 33.6-12.5 0 10.7z"/><path fill="#ff6f00" d="M830.7 177.4l0-6.9 33.6-11.9 0 5.8z"/></g>
<g opacity="0.55"><path fill="#0000a2" d="M863.9 211.8l0-18.7 9.8-3.5 8.1-2.8 8.1-2.5 7.6-2 0 19.5z"/><path fill="#0000c9" d="M863.9 211.4l0-18 9.8-3.5 8.1-2.8 8.1-2.5 7.6-2 0 18.8z"/><path fill="#0000f0" d="M863.9 211.1l0-17.4 9.8-3.6 8.1-2.7 8.1-2.5 7.6-2.1 0 18.2z"/><path fill="#0024ff" d="M863.9 210.7l0-16.7 17.9-6.3 8.1-2.5 7.6-2.1 0 17.6z"/><path fill="#005fff" d="M863.9 210.3l0-16 17.9-6.3 8.1-2.5 7.6-2.1 0 16.9-15.2 4.4z"/><path fill="#00a1ff" d="M863.9 209.9l0-15.3 17.9-6.3 15.7-4.5 0 16.1-15.2 4.3z"/><path fill="#00e9ff" d="M863.9 209.5l0-14.5 17.9-6.3 15.7-4.6 0 15.3-15.2 4.4z"/><path fill="#3affd0" d="M863.9 209l0-13.7 17.9-6.2 15.7-4.6 0 14.4-15.2 4.4z"/><path fill="#8cff8c" d="M863.9 208.5l0-12.8 17.4-6 16.2-4.8 0 13.5-15.2 4.4z"/><path fill="#d0ff3a" d="M863.9 207.9l0-11.7 17.4-6.1 16.2-4.8 0 12.6-15.2 4.3z"/><path fill="#ffec00" d="M863.9 207.3l0-10.7 17.4-6 16.2-4.8 0 11.5-15.2 4.3z"/><path fill="#ffaf00" d="M863.9 206.6l0-9.4 17.4-6 16.2-4.9 0 10.3-15.2 4.3z"/><path fill="#ff6f00" d="M863.9 205.8l0-8 17.4-6 16.2-4.9 0 9-15.2 4.2z"/><path fill="#ff2a00" d="M863.9 204.9l0-6.3 17.4-6 16.2-5 0 7.4-15.2 4.1z"/><path fill="#ef0000" d="M863.9 203.5l0-3.8 17.4-6 16.2-5.2 0 5.3-14.6 3.8z"/><path fill="#c50000" d="M897.5 191.5l-3.5 .3 3.5-1.4z"/></g>
<g opacity="0.55"><path fill="#0000a2" d="M897.1 229.7l0-15.6 33.6-8.2 0 14.4-17.3 4.7z"/><path fill="#0000c9" d="M897.1 229.3l0-14.9 33.6-8.2 0 13.8-17.9 4.8z"/><path fill="#0000f0" d="M897.1 229l0-14.3 33.6-8.3 0 13.3-17.9 4.8z"/><path fill="#0024ff" d="M897.1 228.6l0-13.6 33.6-8.4 0 12.8-18.4 4.9z"/><path fill="#005fff" d="M897.1 228.2l0-12.9 33.6-8.5 0 12.3-17.9 4.7z"/><path fill="#00a1ff" d="M897.1 227.8l0-12.2 33.6-8.5 0 11.7-18.4 4.8z"/><path fill="#00e9ff" d="M897.1 227.3l0-11.3 33.6-8.6 0 11-18.4 4.8z"/><path fill="#3affd0" d="M897.1 226.8l0-10.4 33.6-8.7 0 10.3-18.4 4.7z"/><path fill="#8cff8c" d="M897.1 226.2l0-9.4 33.6-8.8 0 9.6-19 4.8z"/><path fill="#d0ff3a" d="M897.1 225.6l0-8.3 33.6-8.9 0 8.8z"/><path fill="#ffec00" d="M897.1 224.9l0-7 33.6-9.2 0 8-20 4.7z"/><path fill="#ffaf00" d="M897.1 223.9l0-5.2 33.6-9.5 0 6.9z"/><path fill="#ff6f00" d="M897.1 222.5l0-2.7 14.8-4.7 18.8-5.4 0 5.8z"/><path fill="#ff2a00" d="M913.6 217.5l-2.7-.2 5.1-2.3 14.7-4.6 0 4.2-8.9 1.7z"/><path fill="#ef0000" d="M929.7 213.4l-2.2-.4 3.2-1.5 0 1.7z"/></g>
<g opacity="0.55"><path fill="#0000a2" d="M930.3 245.8l0-10.6 15.2-4.6 18.4-6.2 0 11.7-15.7 5z"/><path fill="#0000c9" d="M930.3 245.5l0-10 15.2-4.7 18.4-6.2 0 11.2-15.7 5z"/><path fill="#0000f0" d="M930.3 245.2l0-9.5 15.2-4.6 18.4-6.2 0 10.6-15.7 5z"/><path fill="#0024ff" d="M930.3 244.8l0-8.8 14.6-4.5 19-6.4 0 10.1-15.7 4.9z"/><path fill="#005fff" d="M930.3 244.4l0-8.1 14.6-4.5 19-6.4 0 9.4-16.3 5.1z"/><path fill="#00a1ff" d="M930.3 244l0-7.4 15.2-4.7 18.4-6.2 0 8.7-8.1 2.7-8.2 2.5z"/><path fill="#00e9ff" d="M930.3 243.5l0-6.5 14.6-4.6 19-6.4 0 8-8.7 2.9-8.1 2.4z"/><path fill="#3affd0" d="M930.3 242.9l0-5.4 15.7-5 17.9-6.1 0 7.1-8.1 2.7-8.2 2.4-8.6 2.3z"/><path fill="#8cff8c" d="M930.3 242.2l0-4.2 15.2-4.9 18.4-6.2 0 6.1-8.7 2.8-8.1 2.4-8.7 2.2z"/><path fill="#d0ff3a" d="M930.3 241.2l0-2.3 33.6-11.5 0 4.9-8.7 2.9-8.7 2.5-8.2 2z"/><path fill="#ffec00" d="M939.3 238l-1.6-.2 3.2-1.6 23-8.2 0 3.4-9.2 3-8.7 2.4z"/></g>
<g><path fill="#0000a2" d="M786.9 128.6l-.1-1.8 0-13.9 .1-1.3 .6-.6 .6-.1 1.1 .3 1.6 1.2 4.2 4.6 21.3 27.4 12.7 15.4 8.9 9.8 9.7 9.8 6.6 5.9 5.4 4.5 5.7 4.3 5.8 4.2 10.8 6.8 30.7 18.4 9.3 5.9 8.4 5.8 0 10.6-40.3-19.7-11.2-5.8-9.1-5.1-10.1-6.1-10.7-7-9.8-7.1-9-7.1-8.2-7-8.2-7.8-7.2-7.8-6-7.6-5-7.5-4-7.4-1.7-4.1-1.2-3.3z"/><path fill="#0000c9" d="M789.2 127.3l-.3-5.2 .2-2.9 .3-1.3 .5-1.1 .5-.4 .7-.2 1.2 .5 1.3 .8 3.4 3.5 4.1 4.9 17 21.4 9.8 11.8 11.2 12.1 9.8 9.7 5.3 4.7 5.4 4.5 5.7 4.3 5.8 4.1 10.8 6.9 30.7 18.3 9.3 6 8.4 5.8 0 10-40.3-19.7-11.2-5.9-9.1-5.1-10.1-6.1-10.7-7-9.8-7.2-9-7.2-9.2-8-8.1-8-7-8-5.9-7.9-3.9-6.4-2-3.9-1.7-4.1-1.9-6-.6-3.2z"/><path fill="#0000f0" d="M791.1 128.5l-.1-3.2 .4-3.1 .5-1.2 .4-.3 .6-.3 1.1 .3 1.2 .5 1.3 1.1 4 4 20.4 25.1 11.3 13 8.1 8.4 8.6 8.4 5.3 4.7 5.4 4.5 5.7 4.3 5.8 4.1 10.8 6.9 30.7 18.3 9.3 6 8.4 5.7 0 9.5-41.9-20.6-9.6-5-9.1-5.1-10.1-6.1-10.7-7.2-9.8-7.2-8-6.3-9.2-8.2-7.4-7.3-7.2-8.2-5.6-7.5-2.4-3.8-2.3-4.1-2.9-6.6-1.4-4.4-.7-3.3z"/><path fill="#0024ff" d="M793.1 129.3l.1-2.6 .5-1.4 .8-.9 1.6 0 1.5 .9 1.9 1.5 5.6 6.3 19.7 23.4 10.8 11.9 7.1 7.2 6.2 6 6.6 5.7 5.5 4.5 7.2 5.2 7.5 5 36.9 22.3 9.3 5.9 8.4 5.8 0 8.8-41.6-20.3-9.9-5.2-7.7-4.3-10.1-6.1-10.8-7.2-9.9-7.2-8.1-6.5-9.3-8.4-7.5-7.5-6.6-7.5-5.8-7.8-2.5-4.1-1.8-3.3-2.9-6.9-1.2-3.8-.7-3.2-.5-2.7z"/><path fill="#005fff" d="M795.5 134.7l-.3-3.2 .2-1.7 .6-1.3 1.1-.6 2.2 .7 2.4 2.2 4 4.1 18.1 21.1 9.5 10.5 9.4 9.5 8.8 8.2 5.4 4.6 5.5 4.3 10.2 7.2 10.9 6.9 29.1 17.4 9.3 6 8.4 5.7 0 8.1-40.3-19.7-9.7-5-7.7-4.2-8.8-5.2-9.6-6.3-9.1-6.4-8.4-6.5-8.8-7.5-7.9-7.7-7.2-7.7-5.5-7-4.9-7.3-3.6-6.9-1.6-4.4-.7-2.5z"/><path fill="#00a1ff" d="M797.6 137.4l-.3-2.9 .3-1.8 .7-1.1 1.5-.1 1.9 1.2 1.8 1.5 3 3.1 20.4 22.8 9.8 10.4 8.4 8.3 7.7 7 9.6 7.7 10.2 7.2 10.9 6.8 29.1 17.5 9.3 5.9 8.4 5.7 0 7.4-40.3-19.7-15.8-8.4-8.9-5.2-9.8-6.3-7.9-5.5-8.5-6.5-8-6.7-8.2-7.8-7.5-8-5.8-7.1-5.2-7.7-3.3-6.1-1.1-2.5-1.4-4z"/><path fill="#00e9ff" d="M799.9 140.4l-.3-2.9 .3-1.6 1.1-.7 1.4 .5 1.3 .8 5.3 4.7 20 21.8 8.9 9.2 8.5 8.2 7.8 6.9 9.6 7.6 10.4 7.1 9.3 5.9 29.1 17.5 17.7 11.6 0 6.5-41.9-20.5-14.2-7.5-8.9-5.2-8.4-5.4-8-5.6-8.6-6.5-8.1-6.8-7.4-7-6.7-7.2-5.3-6.3-5-7-4.1-7.1-2.2-4.9-1.1-3.7z"/><path fill="#3affd0" d="M803.6 147l-.9-3.2-.2-2.5 .5-1.5 1.5-.1 3.4 2.3 3.3 3 4.3 4.3 14.6 15.5 7.8 7.9 8.5 8.2 9.1 7.9 8.3 6.5 10.4 7 10.9 6.9 27.5 16.6 9.3 5.9 8.4 5.8 0 5.4-40.3-19.6-14.3-7.4-7.5-4.3-8.6-5.4-8.1-5.6-7.6-5.6-7.2-5.8-7.7-7.1-7.1-7.3-5.6-6.5-3.5-4.5-4.5-6.8-3.1-5.8z"/><path fill="#8cff8c" d="M806.5 149.2l-.6-3.5 .7-1.3 2.1 .6 4.5 3.5 28.3 28.3 8.7 8 8 6.6 8.5 6.3 9 6 35.1 21.4 9.2 5.9 10.3 7 0 4.2-40.3-19.4-12.8-6.5-7.5-4.3-7.3-4.5-6.9-4.6-7.9-5.7-7.3-5.8-5.8-5-6.6-6.3-6.7-7.3-4.9-6.1-4.3-6.2-3.2-5.7-1.4-3.1z"/><path fill="#d0ff3a" d="M810.4 153.3l-.5-2.6 .9-1.1 2.6 1.2 5.7 4.8 17.6 17.2 8.4 8 7.7 6.7 6.8 5.5 7.1 5.2 9 5.9 35.1 21.6 12.9 8.5 6.6 4.7 0 2.3-37.1-17.4-14.4-7.3-7.7-4.2-5.8-3.5-7.1-4.7-6.7-4.7-7.6-5.8-7.2-6-6.6-6.4-5.3-5.6-5.1-6.1-5.1-7.4-2.8-5.2z"/><path fill="#ffec00" d="M814.9 158.5l-.5-2.6 1-.8 3.3 1.9 7.7 6.8 15.1 14.2 6.1 5.6 7.9 6.6 8.3 6.4 7.3 5 7.7 5 23.1 14.2 13.1 8.3 7.2 5.1 2.2 2.1-1.1 .1-4-1.5-7.6-3.4-13.5-6.1-16.3-7.8-6.2-3.3-7.5-4.3-7.2-4.6-6.8-4.7-7.8-5.9-7.3-6.1-5.8-5.3-5.4-5.7-5-6.1-3.9-5.3-2.7-4.7z"/><path fill="#ffaf00" d="M820 163.8l-.6-2.2 1.3-.5 4.4 3 9.4 8.3 13.1 11.9 6.6 5.5 6.8 5.3 5.7 4.1 9 5.9 27.9 17.7 7.2 4.8 2.7 2.4-1.4 0-4.7-1.6-9-3.9-14.9-6.8-7.8-4.1-6-3.4-5.9-3.6-6.9-4.8-6.7-4.9-6.3-5-4.8-4.2-4.6-4.4-4.4-4.8-4.2-5.1-3.5-4.9z"/><path fill="#ff6f00" d="M826.2 170.6l-.8-2.6 1.5-.1 3.2 2.1 3.2 2.6 15.6 13.6 10.7 8.4 11.5 8.1 27.6 18.1 3.1 2.7-1.6 .1-5.2-1.9-8.5-3.5-6.2-3-10.6-5.8-5.9-3.6-5.6-3.9-5.4-3.9-6.4-5.1-6.1-5.3-3.6-3.4-3.4-3.6-4.4-5.5z"/><path fill="#ff2a00" d="M832.7 177l-1-2.6 1.9 .3 4.3 3.2 12.3 10.3 8 6.3 7.1 5 22.5 15.3 2.8 2.6-1.4 .2-4.1-1.4-7.9-3.6-4.6-2.4-4.4-2.6-8.6-5.7-9.4-7.1-9.9-8.8-4.7-5z"/><path fill="#ef0000" d="M845.1 188.2l-3.6-4.6 7.3 5 12.2 9 15.1 10.4 3.9 3.4-1.9-.1-5.5-2.5-4.4-2.5-5.8-3.8-5.5-4.1-6.7-5.5z"/></g>
</g>
<path class="g" d="M397.7 574.1L397.7 466.8M397.7 574.1L610.5 650.4M454.9 555L454.9 447.7M454.9 555L667.7 631.3M512.2 535.9L512.2 428.6M512.2 535.9L725 612.2M569.4 516.8L569.4 409.5M569.4 516.8L782.2 593.1M651.2 526.4L651.2 419.1M436.6 598L651.2 526.4M704.4 545.4L704.4 438.1M489.8 617L704.4 545.4M757.6 564.5L757.6 457.2M543 636.1L757.6 564.5M383.4 536L598 464.4M598 464.4L810.8 540.7M383.4 493.1L598 421.5M598 421.5L810.8 497.8M383.4 570.3L386 569.5M383.4 561.7L386 560.9M383.4 553.1L386 552.3M383.4 544.6L386 543.7M383.4 527.4L386 526.5M383.4 518.8L386 518M383.4 510.2L386 509.4M383.4 501.6L386 500.8M383.4 484.5L386 483.6M383.4 475.9L386 475"/>
<path class="b" d="M383.4 578.9L596.2 655.2M596.2 655.2L810.8 583.6M383.4 578.9L598 507.3M598 507.3L810.8 583.6M383.4 578.9L383.4 471.6M598 507.3L598 400M810.8 583.6L810.8 476.3M383.4 471.6L598 400M598 400L810.8 476.3"/>
<path fill="#a6a6a6" fill-opacity="0.45" d="M489.1 513.5l-1.8 1.1-1.2 2.3-.7 3.5-.2 4.6 .2 8.4 .7 6.6 1.1 5.3 1.6 4.7 3.4 7.1 4.6 7.3 29.9 42 6.3 7.7 6.8 7.1 7.2 6.2 7.7 5.4 8.1 4.7 10.3 4.8 11 4.1 12.1 3.7 25.4-12.4 56.4-25.4 18.9-9.1 26.9-14.2 10.3-5.9 9.2-6.5 7.4-7.1-.1-.8-7.1-7.9-.5-6.7-2.2-7.4-3.9-8.4-5-8.2-7.4-10.2-10.6-14-7.3-9-13.5-13.3-3.4-2.8-11.9-8.1-12.8-5.1-11.4 .1-22.4 3.2-36.9 4.4-52.7 18.4z"/>
<g filter="url(#bl)">
<g><path fill="#00009b" d="M649.4 479l.2-4.3 .7-3.5 1-2.1 .6-.7 1-.5 1.8-.2 2.5 .8 2.9 1.8 3.8 3 7.9 7.7 12.2 13.1 36.1 40 23.2 26.8-8.4-.6-8-1.3-8.3-2.1-7.9-2.8-7.3-3.3-7.6-4.2-6.9-4.7-6.4-5.2-6.8-6.4-5.9-6.7-5.6-7.4-4.9-7.9-4.2-8.1-3-7.6-2-7.2-.5-3.2z"/><path fill="#0000b4" d="M656.7 485.7l-.1-4.3 .4-1.8 .9-1.4 1.8-.8 2.5 .5 2.4 1.1 3.6 2.5 4.5 3.7 5.8 5.5 9.3 9.6 28.6 31 8.4 9.3 11.8 13.7 1.9 2.7 .3 .5-.1 .6-1.2 .4-3-.1-7.6-1.2-7.6-1.8-7.2-2.6-6.8-3.1-7-3.9-6.6-4.5-5.6-4.5-5.6-5.4-5.2-5.9-5.1-6.8-3.9-6.1-3-5.7-3.2-7.3-1.4-4.1-1-3.8z"/><path fill="#0000cc" d="M665.3 495.9l-.4-2.8 .1-2.6 .9-1.8 1.9-.7 2.4 .7 2 .9 3.5 2.4 4.3 3.4 8.3 7.9 7.5 7.5 23.5 25.2 12 14.1 1.4 2 .6 1.2 .1 .7-.3 .5-.5 .4-1 .2-4.7-.3-5.3-1-6.6-2.1-7-3.1-6.6-3.5-5-3.2-5.3-4.2-5-4.7-5.1-5.6-3.4-4.3-3.6-5.4-3.4-6.2-2.4-5.4-2.1-6.3z"/><path fill="#0000e4" d="M673.5 502.5l.1-2.7 1.4-1.4 3.1 .5 3.4 2.1 4.2 3.1 5.4 4.7 9 8.8 18.5 19.6 4.9 5.9 2.3 3.2 1 1.9 .1 1.2-.4 .8-.9 .5-1.6 .2-2.4-.1-3.7-.9-3-1-6.2-3-6-3.2-5-3.3-4.2-3.5-3.5-3.3-2.8-3.1-4.7-6.1-2.5-3.7-2.6-4.7-2.1-5-1.2-4.1z"/><path fill="#0000fd" d="M684.7 516.7l-1-3.7 .2-2.5 2.4-.3 5.4 2.9 3.5 2.8 4.3 4.1 8.5 8.6 9.3 10.4 2.1 3.3 .2 1.6-.8 .9-1.7 .2-.7-.1-5.7-2.1-7.3-4-3.3-2-3.1-2.4-4.1-4.2-2.2-2.6-1.3-1.9-2.5-4.2z"/></g>
<g opacity="0.85"><path fill="#00009b" d="M703.5 599.7l0-29.7 9.2-3.2 7.7-2.1 6.7-1.4 6-.5 5.3 .4 4.7 1.1 2.2 .9 2 1.1 1.8 1.3 1.9 1.6-3.3 3.5-3.6 3.2-4 3.2-4.6 3.1-10.8 6.4z"/><path fill="#0000b4" d="M703.5 599.1l0-28.7 8.7-3 7.2-1.9 6.4-1.3 5.9-.6 5.3 .2 4.7 .9 2.3 .9 2.1 1 1.6 1.1 .9 .9 .1 .6-.3 .9-2.6 2.9-4.5 4-5 3.7-5 3.2-6.6 3.8z"/><path fill="#0000cc" d="M703.5 598.5l0-27.7 8-2.7 6.9-1.9 6.3-1.2 5.6-.6 4.8 0 4.6 .8 4 1.5 1.4 .9 .7 .7 .2 .5 0 1.1-.8 1.4-.7 .9-3.4 3.4-4.8 3.8-5.8 3.9-6.7 4z"/><path fill="#0000e4" d="M703.5 598l0-26.8 7.6-2.5 6.3-1.7 5.3-1 5.1-.7 4.9-.1 3.7 .4 3 .8 2.1 1 1 .8 .5 .8 .1 .8-.7 1.7-.7 1.1-3.1 3.3-3.4 2.9-5.5 3.8-5.9 3.7z"/><path fill="#0000fd" d="M703.5 597.3l0-25.7 5.9-1.9 6.1-1.6 5.5-1.1 5.1-.7 4.3-.1 4.3 .4 3 .9 1.5 .9 .6 1 .1 .9-.3 1.1-.6 1.2-1 1.4-1.6 1.8-2.7 2.4-5 3.8-7.6 5z"/><path fill="#0022ff" d="M703.5 596.7l0-24.6 10.3-3 4.7-1 3.9-.6 3.7-.2 3.7 0 4 .7 1.9 .9 .8 1 .1 1.2-.3 1.2-.8 1.5-1.3 1.7-2.2 2.2-3.6 3-6 4.3-9.5 6z"/><path fill="#0047ff" d="M703.5 596l0-23.4 6.4-1.9 5.5-1.3 8-1 2.3 0 3.9 .3 2.4 .9 1.1 1.1 .1 1.3-.4 1.4-1 1.7-1.7 2-2.6 2.5-4.2 3.4-6.8 4.8z"/><path fill="#006cff" d="M703.5 595.2l0-22.1 8-2.1 4.4-.8 4.3-.6 5.2 .1 2.8 .8 1.3 1.1 .1 1.4-.5 1.6-1.2 1.9-1.9 2.2-2.9 2.8-4.6 3.7-3.4 2.4z"/><path fill="#0096ff" d="M703.5 594.4l0-20.8 8.4-1.9 3.8-.7 2.1-.1 3.7 0 1.3 .2 1.7 .4 1.4 1.2 .1 1.4-.5 1.8-1.3 2-2.1 2.4-3.2 3-5.1 4z"/><path fill="#00c4ff" d="M703.5 593.5l0-19.2 7.9-1.8 6-.4 3.5 .6 1.5 1.1 .2 1.5-.6 1.9-1.4 2.1-2.2 2.6-3.6 3.2-2.3 1.9z"/><path fill="#00f1ff" d="M703.5 592.6l0-17.7 3.9-.8 6.6-.7 3.5 .4 1.6 1.1 .2 1.6-.7 1.9-1.4 2.3-1.1 1.2-1.4 1.5-3.8 3.5z"/><path fill="#24ffe1" d="M703.5 591.5l0-15.9 6.9-.9 3.8 .3 1.7 1.1 .2 1.6-.7 2-1.6 2.4-3.3 3.5-3.3 3z"/><path fill="#58ffb7" d="M703.5 590.4l0-13.9 3.4-.5 3.8 .2 2.1 1.1 .1 1.7-.7 2-1.7 2.5-2.7 3z"/><path fill="#8cff8c" d="M703.5 588.9l0-11.5 4.3 .1 1.9 1 .2 1.7-.4 1.1-.4 1-1.7 2.6z"/><path fill="#b7ff58" d="M703.5 587.2l0-8.5 1.2 .1 2 .9 .2 1.8-.8 2.2z"/><path fill="#e1ff24" d="M703.5 584.1l0-1.1 0-2.2 .3 .2 .2 1.7z"/></g>
<g><path fill="#00009b" d="M590.4 488l.2-4.3 .5-3.4 .8-2.6 .5-.9 .9-.9 1.5-.8 2.2 .1 2.7 1.1 3.1 2 4.6 3.7 6.1 5.6 32.3 32.6 10.5 10.3 9.1 8.4 9.6 8.6 9 7.5 9.4 7.4 10.1 7.6 0 29.7-12.9-4.6-13-5.2-11-5-11.4-5.9-9.4-5.6-9.6-6.5-8.7-6.8-7.8-7.2-6.9-7.4-5.9-7.6-5.1-7.9-4.1-8.1-3.2-8.2-2.3-8.5-1.3-8.5z"/><path fill="#0000b4" d="M595.4 493.9l0-3.4 .2-2.4 .6-2.2 1-2.1 1.3-1 .9-.5 .7 0 2.2 .2 3 1.2 2.7 1.8 4.8 3.7 6.2 5.4 31.9 31.4 16.8 15.6 8.6 7.4 9 7.5 9.5 7.4 8.7 6.5 0 28.7-12.9-4.6-11.8-4.7-11.1-5.1-10.3-5.4-9.6-5.6-8.8-6-7.3-5.6-7.5-6.7-6.7-7.1-5.3-6.7-4.8-7.3-4.1-7.9-3.2-7.9-2.5-8.4-1.5-8.2z"/><path fill="#0000cc" d="M600.1 499.8l0-4.4 .4-2.8 .9-2.3 1.9-1.6 2-.2 1.7 .2 3.3 1.5 3.8 2.3 3.4 2.6 6.7 5.9 29.9 28.7 16 14.5 8.7 7.5 7.8 6.3 8.2 6.4 8.7 6.4 0 27.7-11.5-4.1-11.9-4.8-11.2-5.1-9.3-4.8-9.7-5.7-8.1-5.4-7.4-5.7-6.9-6.1-5.6-5.7-5.8-7.3-4.7-7.2-3.4-6.7-1.4-3-1.8-4.6-2.5-8.1-1.1-4.7-.6-4z"/><path fill="#0000e4" d="M604.2 504.3l0-4.5 .6-2.8 1.3-2.1 2.6-1.1 2.2 .3 2.3 .6 3.6 2 4.4 3.2 5.2 4.4 29.9 28 16.3 14.6 15.4 12.6 15.5 11.7 0 26.8-11.5-4.2-10.6-4.3-10-4.5-9.5-4.9-8.9-5.1-8.2-5.4-6.8-5-6.3-5.5-5.9-5.9-5.4-6.4-4.3-6.2-3.4-6.2-3.3-7.5-2.5-7.5-1-3.9-1-4.6z"/><path fill="#0000fd" d="M608.6 512.8l-.6-5.3 .1-3.5 .7-2.9 1.5-2 2.8-.9 3 .8 2.7 1.2 6.2 4.5 7.6 6.4 25.9 23.9 16.5 14.5 14.3 11.5 14.2 10.6 0 25.7-10.1-3.6-9.4-3.7-10.2-4.6-8.4-4.2-8-4.5-7.5-4.7-7.1-5.1-6.6-5.3-5.4-5.1-5-5.4-4.6-6.2-3.7-5.6-3.5-7.2-2.4-6.3-1.6-5.4z"/><path fill="#0022ff" d="M612.4 519.4l-1-8.3 .1-3.6 .7-2.9 1.7-1.9 1.6-.4 1.7 0 3.2 1.4 4 2.2 4.7 3.6 7.1 5.9 24.6 22.2 15.5 13.4 13 10.5 14.2 10.6 0 24.6-10.1-3.7-9.4-3.8-9-4-8.4-4.3-8.1-4.6-7.6-4.8-7.1-5.1-6.7-5.5-5.4-5.3-5.9-6.9-3.1-4.5-4.4-7.5-3-6.8-1.8-5.6z"/><path fill="#0047ff" d="M614.8 518.6l-.4-4.4 .1-3.6 .8-2.8 .8-.8 1.2-.8 3.1 .2 1.5 .4 3.9 2.1 4.6 3.1 5.8 4.6 25.7 22.8 16.9 14.3 11.8 9.4 12.9 9.5 0 23.4-10.1-3.7-8.1-3.3-9-4.1-8.6-4.3-8.1-4.6-7.6-4.9-6.2-4.5-5.9-4.8-4.6-4.4-5.3-5.9-3.3-4.4-3.9-6-3.7-7.2-1.6-4.2-2-6.9z"/><path fill="#006cff" d="M617.8 521.4l-.5-4.2 .1-3.5 1.1-2.7 2.4-1.2 1 .1 3.8 .9 2.6 1.5 4.3 2.9 4.5 3.3 26 22.6 17 14.3 11.9 9.3 11.5 8.4 0 22.1-10.1-3.7-8.1-3.3-9-4.1-8.6-4.4-6.9-4.1-7.8-5-6.2-4.6-5.9-5-4.7-4.5-3.6-4.1-5.1-6.8-2.5-4.1-2-3.9-2.6-6.2-1.7-5.3z"/><path fill="#0096ff" d="M620.4 520.8l.1-4.1 1.2-2.4 1-.5 1.7-.5 1.4 .3 3.3 1.2 2.6 1.4 5.4 3.7 5.7 4.6 22.6 19.3 16 13.2 10.6 8.2 11.5 8.4 0 20.8-8.7-3.2-8.2-3.3-9-4.2-7.5-3.7-7-4.1-7.9-5.1-6.4-4.6-5.2-4.3-4.6-4.4-4.6-5.2-3.6-4.7-3.9-6.3-3.1-6.5-1.8-5.5-1.1-4.8z"/><path fill="#00c4ff" d="M623.5 523.7l0-3.9 1.4-2.4 1.8-.4 1.4-.1 3.6 1.4 3.1 1.5 4.2 3 6.8 5.4 25.6 21.3 10 8.1 12 9.3 10.1 7.4 0 19.2-8.7-3.1-6.8-2.8-9.2-4.2-7.4-3.8-7.2-4.1-6.8-4.4-5.4-3.9-5.2-4.2-5-4.6-4.5-4.7-2.9-3.8-3.3-4.9-3.7-6.9-2.2-5.7-1.2-4.9z"/><path fill="#00f1ff" d="M627.1 530.6l-.6-4.3 .1-3.5 1.7-2.1 3.7 0 3.3 1.4 2.7 1.6 2.6 1.7 7.2 5.6 34.9 28.4 10.7 8.2 10.1 7.3 0 17.7-8.7-3.2-6.8-2.9-9.2-4.2-7.4-3.8-6-3.5-5.8-3.8-5.5-3.9-5.3-4.2-4.3-3.9-4.6-4.9-2.8-3.3-2.7-3.9-3.2-5.6-2.6-5.9z"/><path fill="#24ffe1" d="M630.5 533.7l-.7-4.3 .1-3.5 1.8-1.9 1.8 .1 2.5 .4 3 1.6 9.4 6.5 33 26.6 10.6 8 11.5 8.4 0 15.9-7.4-2.6-5.5-2.2-7.9-3.6-7.7-3.8-6.1-3.4-4.7-3-5.7-3.9-5.5-4.1-4.2-3.6-5-5-3.1-3.4-3.6-4.8-2.1-3.3-2.9-6.1z"/><path fill="#58ffb7" d="M633.9 536.7l-.8-4.3 .2-3.4 2-1.6 2.7 .6 3.1 1.3 5.7 3.7 6.2 4.6 29.7 23.3 20.8 15.6 0 13.9-7.4-2.7-6.8-2.8-7.9-3.7-6.4-3.2-4.9-2.7-4.7-3-4.6-3.2-5.6-4.3-4.3-3.6-3.1-3-4-4.4-4.2-5.2-3.8-6.7z"/><path fill="#8cff8c" d="M637.7 540l-1.1-4.4 .2-3.3 2.2-.8 .6-.1 2.2 .9 5.9 2.9 5.3 3.8 11.2 8.5 21.1 16.4 18.2 13.5 0 11.5-6-2-6.5-2.5-12.2-5.8-9.9-5.5-4.7-3.2-4.6-3.4-7.6-6.5-6.3-6.6-5.4-7.6z"/><path fill="#b7ff58" d="M642.6 544.2l-1.5-4.7 .3-3.1 3.8 0 5.7 3 6.8 4.5 45.8 34.8 0 8.5-7.4-2.3-5.5-2.2-5.3-2.4-11.5-6-4.9-2.9-3.5-2.5-4.6-3.5-5.6-4.7-2.2-2.1-3.1-3.5-4.1-5.3z"/><path fill="#e1ff24" d="M648.5 549l-1.9-4.8 .5-2.9 2.8 .4 2.1 .7 3.2 1.9 9 6 5.9 4.3 27.9 21.3 5.5 4.9 0 3.3-1 .2-6.1-1.3-5.8-2.1-6.6-3.1-6.4-3.2-5-2.8-3.7-2.3-3.5-2.7-3.5-2.9-8.1-7.7-2.9-3.7z"/><path fill="#fff300" d="M657.5 555.9l-3.6-5.8 .8-2.5 7.2 3.4 3.5 2 6 4.2 11.2 8.6 9.4 7.6 3.5 3 .8 2.5-3.7 0-4.6-1.8-10.3-4.8-7.6-4.5-2.6-2-2.1-1.8-5.8-5.7z"/><path fill="#ffcd00" d="M668.9 562.2l-2.5-2.7 .2-.3 1.7-1.1 1.8 1.2 6.4 4.7 2.8 4.4-4.3-2-3.6-2.3z"/></g>
<g opacity="0.85"><path fill="#00009b" d="M649.9 625.2l0-40.4 6.8-2.9 6.9-2.7 6.7-2.3 6.6-2 6.4-1.6 6.5-1.4 6.5-1 7.2-.9 0 29.7-7.7 4.1-9.9 4.9z"/><path fill="#0000b4" d="M649.9 624.7l0-39.5 6.8-3 6.9-2.6 6.7-2.3 6.6-2 6.4-1.6 6.5-1.4 6.5-1 7.2-.9 0 28.7-7.7 4.2-8.5 4.1z"/><path fill="#0000cc" d="M649.9 624.2l0-38.7 6.8-2.9 6.9-2.6 6.7-2.3 6.6-2 6.4-1.6 6.5-1.3 6.5-1.1 7.2-.9 0 27.7-7.7 4.2-8.5 4.1z"/><path fill="#0000e4" d="M649.9 623.7l0-37.8 6.8-2.9 6.9-2.6 6.7-2.3 6.6-2 6.4-1.6 6.6-1.3 6.6-1.1 7-.9 0 26.8-7.7 4.1-8.3 4.1z"/><path fill="#0000fd" d="M649.9 623.2l0-36.9 6.8-2.9 6.9-2.6 6.6-2.3 6.5-1.9 6.6-1.7 6.5-1.3 6.5-1.1 7.2-.9 0 25.7-6.4 3.5-8.3 4.2z"/><path fill="#0022ff" d="M649.9 622.7l0-36.1 6.8-2.9 6.9-2.5 6.7-2.3 6.6-1.9 6.6-1.7 6.7-1.4 6.1-1 7.2-.8 0 24.6-13.3 6.9z"/><path fill="#0047ff" d="M649.9 622.1l0-35.1 6.8-2.9 6.9-2.6 6.6-2.2 6.3-1.8 6.7-1.6 6.7-1.4 6.6-1.1 7-.8 0 23.4-13.2 6.8z"/><path fill="#006cff" d="M649.9 621.5l0-34.2 6.5-2.7 6.9-2.5 6.7-2.2 6.6-1.9 6.6-1.6 6.7-1.3 6.6-1.1 7-.9 0 22.1-13.2 6.9z"/><path fill="#0096ff" d="M649.9 620.9l0-33.1 6.7-2.7 6.8-2.5 6.6-2.2 6.6-1.8 6.7-1.7 6.8-1.3 6.4-1.1 7-.9 0 20.8-11.7 6.2z"/><path fill="#00c4ff" d="M649.9 620.3l0-32.1 6.8-2.7 6.9-2.5 6.7-2.1 6.6-1.9 7-1.7 7.2-1.4 5.5-.8 6.9-.8 0 19.2-10.4 5.6-27.4 13.3z"/><path fill="#00f1ff" d="M649.9 619.7l0-31 6.8-2.7 7-2.5 6.9-2.2 6.7-1.9 6.3-1.4 6.9-1.3 13-1.8 0 17.7-11.7 6.2-27.6 13.6z"/><path fill="#24ffe1" d="M649.9 619l0-29.9 6.8-2.6 7-2.5 12.2-3.5 7-1.7 7.3-1.4 6.6-1 6.7-.8 0 15.9-9 5-32.1 16z"/><path fill="#58ffb7" d="M649.9 618.3l0-28.7 5.5-2.2 7.8-2.6 6.8-2.1 6.9-1.8 7.6-1.7 7.6-1.4 4.8-.7 6.6-.6 0 13.9-11.7 6.4-23.2 11.7z"/><path fill="#8cff8c" d="M649.9 617.6l0-27.5 7-2.6 7.1-2.4 6.9-2 7-1.8 5.5-1.2 7.1-1.2 6.3-.9 6.7-.6 0 11.5-7.7 4.7-31.5 16.2z"/><path fill="#b7ff58" d="M649.9 616.8l0-26.1 13.3-4.6 7-2.1 5.4-1.4 8.4-1.7 9.1-1.5 3.4-.4 7-.3 0 8.5-.3 .2-4.4 3-5.7 3.2-32.7 17.3z"/><path fill="#e1ff24" d="M649.9 615.9l0-24.6 7.1-2.6 7.5-2.4 8.1-2.1 8.4-1.8 6.8-1.2 8-.8 4.1-.2 3.6 .6 0 3.3-.7 .9-4 3.4-8 5-24.5 13.3z"/><path fill="#fff300" d="M649.9 615.1l0-23.2 6.5-2.4 6.8-2 7.7-2 8-1.8 13.9-1.7 5.5 .6 .4 1.8-2.1 2.7-5.2 3.9-9.6 5.7z"/><path fill="#ffcd00" d="M649.9 614.1l0-21.6 10.4-3.3 10.6-2.8 13.6-2 6.7 .2 .6 2-2.7 3-6 4.4-9.4 5.9z"/><path fill="#ffa600" d="M649.9 613.1l0-19.9 12.1-3.6 5.9-1.3 8.9-1.5 6.5 .2 .7 2.1-2.8 3.2-5.8 4.5-9.2 6.1z"/><path fill="#ff7e00" d="M649.9 612l0-18 6.8-2.1 12.3-2.5 7 0 .6 2.2-2.7 3.4-5.7 4.6-8.8 6.2z"/><path fill="#ff5300" d="M649.9 610.8l0-16 5-1.3 8.1-1.7 6.2 .1 .7 2.2-2.7 3.5-5.5 4.7z"/><path fill="#ff2700" d="M649.9 609.3l0-13.4 7-1.6 6 0 .6 2.3-2.5 3.5-5.4 4.8z"/><path fill="#fd0000" d="M649.8 607.6l0-10.5 1.6-.4 5.7 0 .6 2.3-2.4 3.6z"/><path fill="#e30000" d="M649.9 605.1l0-6 1.9-.1 .6 2.3z"/></g>
<g><path fill="#00009b" d="M537.2 506l.3-4.7 .6-3.1 1-2.3 1.3-1.6 1.7-.7 2 .1 2.5 .9 2.8 1.7 3.8 3.1 5.1 4.9 21.8 23.2 9.3 9.5 9 8.6 8.2 7.5 10.3 8.6 11 8.5 11.7 8.2 10.2 6.4 0 40.4-13.6-5.6-13.1-5.9-12.2-6.1-9.8-5.5-10.4-6.7-8.4-6-8.7-7.3-6.8-6.6-6.1-7-5.4-7.5-4.1-6.9-4.1-8.5-3.8-9.9-3.2-10.9-1.3-5.5-.9-5.1-.5-4.5z"/><path fill="#0000b4" d="M541.4 514.6l-.3-7.7 .1-2 .5-2 .8-1.9 1.7-1.7 1.9-.4 2.7 .5 2.4 1.3 4.1 3 5.4 4.8 28.7 29.2 9 8.5 9.7 8.6 10.3 8.6 11.1 8.4 10.1 7 10.2 6.4 .1 39.5-13.7-5.6-11.5-5.2-10.8-5.4-10.1-5.6-9.3-5.8-8.7-6.1-7.9-6.5-7.3-6.8-5.6-6.2-5.1-6.6-4.6-7.2-4.1-7.8-3.6-8.6-3-9.5-1.8-7.8z"/><path fill="#0000cc" d="M545.1 519.7l-.4-5.8 0-2.9 .4-2.5 .7-2.2 .8-.9 1-.9 1.2-.3 1.7-.1 2.7 1 2.8 1.7 3 2.1 4.2 3.7 28.7 28.2 9.2 8.4 8.4 7.4 10.5 8.4 9.5 7.2 10.1 6.9 10.2 6.4 0 38.7-11.9-4.9-11.6-5.2-10.9-5.4-10.2-5.7-9.4-5.9-7.6-5.3-8.1-6.6-6.5-6-5.9-6.3-4.5-5.8-4.9-7.6-3.8-7.2-3.9-9.3-2.4-7.4-1.7-6.9z"/><path fill="#0000e4" d="M548.2 520.7l-.1-5.6 .5-2.7 1.1-2.2 2.1-1.3 1.4 .1 3 .7 2.9 1.7 4.1 3 4.6 3.9 26.7 25.5 9.3 8.4 8.6 7.3 9.1 7.2 9.7 7.1 10.1 6.8 8.5 5.3 0 37.8-11.9-4.9-11.6-5.3-10.9-5.4-8.8-5-9.5-6-7.7-5.4-7.1-5.7-6.6-6.2-6-6.7-5.6-7.3-3.4-5.4-4-7.7-3.5-8.8-2.6-8.3-1.1-5.2-.7-4.2z"/><path fill="#0000fd" d="M551.8 528.6l-.5-6.1 .1-3.4 .6-2.9 .5-.8 .9-1.2 2.6-.9 2.3 .5 2.9 1.2 4.7 3.4 5.7 4.8 25.5 23.6 8.1 7.1 8.7 7.2 9.2 7.2 8.1 5.8 10.1 6.9 8.5 5.3 0 36.9-11.9-4.9-10-4.6-9.5-4.7-8.9-4.9-8.4-5.2-7.9-5.4-7.4-5.8-5.7-5.1-6.5-6.7-4.9-6-4.6-6.8-3.4-6.1-3.8-8.8-2.3-6.8-1.5-5.8z"/><path fill="#0022ff" d="M555.4 535l-1-8.6 .1-3.6 .7-2.9 1.6-2 1.5-.4 1.5-.1 2.6 .9 3.5 1.9 7.7 6.1 26.1 23.5 8.4 7 7.3 6 9.3 7.1 8.1 5.8 8.5 5.6 8.5 5.3 0 36.1-11.9-5-10-4.5-10.7-5.4-7.7-4.4-8.4-5.3-7.9-5.7-7.4-5.9-5.7-5.4-5.3-5.6-4.2-5.3-5.3-8-2.9-5.6-1.6-3.5-1.7-4.4-2.4-7.5z"/><path fill="#0047ff" d="M557.5 533l-.2-3.2 0-3.7 .8-2.9 1.8-1.8 1.6-.2 1.9 .1 4.3 2.2 3.4 2.2 3.6 2.8 27.7 24.2 16 12.9 7.9 5.9 8.2 5.7 6.8 4.5 8.5 5.3 0 35.1-10.2-4.2-10.1-4.6-9.5-4.8-9.1-5-8.5-5.5-6.6-4.7-7.6-6-5.9-5.4-5.5-6-5.2-6.6-2.9-4.4-4.1-7.3-3.1-7.5-2-6.1-1.2-5.3z"/><path fill="#006cff" d="M561.1 542l-1.2-9.1 .1-3.7 .9-2.9 2.1-1.6 2 .2 1.8 .3 1.9 .9 3.9 2.4 3.8 2.7 26 22.2 17.6 13.8 14.5 10.4 6.8 4.5 8.5 5.2 0 34.2-8.5-3.5-10.1-4.5-9.7-4.9-7.6-4.2-7.3-4.5-8.2-5.6-6.5-5-4.9-4.4-5.8-5.8-4.4-5-3.2-4.2-3.9-6.2-2.9-5.5-2.7-6.2-1.6-4.5z"/><path fill="#0096ff" d="M563.2 541.5l-.7-5.6 .2-3.8 1-2.7 2.4-1.3 2.6 .5 2.2 .7 4.8 3 6.3 4.6 21.8 18.3 17.7 13.7 14.7 10.3 13.6 8.6 0 33.1-8.5-3.5-10.1-4.6-8.1-4-7.7-4.3-7.3-4.5-7-4.8-6.6-5.1-5.1-4.3-4.8-4.6-4.1-4.5-4.8-6.2-3.2-4.8-3.8-7.2-1.9-4.4-1.2-3.2-1.5-5.2z"/><path fill="#00c4ff" d="M565.9 544l-.7-5.2 .1-3.8 1.2-2.6 2.7-1 2.4 .6 3.1 1.3 4.3 2.8 5.6 4.2 20.6 16.7 16.3 12.5 14.7 10.2 13.6 8.5 0 32.1-8.5-3.5-10.1-4.6-8.1-4.1-7.7-4.3-5.9-3.7-7.1-5-6.6-5.1-5.1-4.4-4.3-4.1-4.1-4.6-4.4-5.7-3.2-4.8-3.1-5.5-3-6.8-1.8-5.8z"/><path fill="#00f1ff" d="M568.7 547.2l-.8-5.6 .1-3.7 1.3-2.5 3.1-.7 2.3 .8 3.2 1.5 3.3 2.1 4.6 3.3 22.3 17.5 15 11.2 13.1 9.1 13.6 8.5 0 31-8.5-3.6-8.5-3.8-8.1-4.1-7.8-4.4-6-3.7-5.7-4-6.8-5.2-5.1-4.3-5.1-4.9-4.7-5.3-2.5-3-4.2-6.3-2.1-3.6-3-6.3-2.1-6z"/><path fill="#24ffe1" d="M570.6 545l.1-4.3 1.5-2.3 1.4-.3 2.1 0 3.3 1.4 3.3 1.8 5.9 4.1 24.2 18.4 12.3 9 13.2 8.9 11.9 7.4 0 29.9-8.5-3.6-8.5-3.9-8.1-4.1-7.8-4.4-6-3.8-5.7-4.1-5.5-4.3-5.2-4.6-5.1-4.9-3.6-4-3.5-4.5-3.5-5.1-3.9-7.4-2.3-5.9-1.4-5.5z"/><path fill="#58ffb7" d="M574 551.7l-.7-4.5 .1-3.7 1.7-2.1 4 .1 3.2 1.6 5.6 3.2 32.1 23.7 7.9 5.6 11.7 7.7 10.2 6.3 0 28.7-8.5-3.6-8.5-3.9-6.5-3.4-7.9-4.4-6-3.8-4.3-3.1-5.7-4.3-5.3-4.6-5.2-4.9-2.5-2.7-3.6-4.4-3.5-4.7-4.1-7.1-1.4-3.3-1.3-3z"/><path fill="#8cff8c" d="M576.8 553.9l-.7-3.9 .2-3.6 1.9-2 1.9 .2 2.6 .5 4.3 2.3 6.2 3.9 33.1 23.7 11.6 7.7 11.9 7.4 0 27.5-6.8-2.8-8.5-4-6.6-3.3-6.4-3.5-6.1-3.8-4.5-3.1-5.7-4.3-5.5-4.6-3.9-3.7-5.1-5.5-3.7-4.3-2.4-3.5-2.9-4.7-2.7-5.8z"/><path fill="#b7ff58" d="M580.1 557.8l-1-5 .2-3.5 2.1-1.8 2.1 .4 3.2 .9 5.2 3.1 7.2 4.6 22.4 15.9 11.3 7.6 8.5 5.5 8.5 5.2 0 26.1-6.8-2.9-6.8-3.1-5-2.5-6.5-3.5-6.3-3.7-4.5-3-4.4-3.2-5.6-4.5-5.5-5-3.9-4-2.7-3-3.6-4.7-2.8-4-1.9-3.6-1.6-3.2z"/><path fill="#e1ff24" d="M583.1 560.3l-1-4.6 .3-3.5 2.4-1.4 3.4 1 2.8 1 14.5 9.1 17.6 12.3 11.4 7.6 15.3 9.5 0 24.6-6.8-2.8-6.8-3.2-5-2.5-6.5-3.5-6.3-3.8-4.5-3-4.4-3.3-4.3-3.7-8.2-7.8-3.8-4.5-3.6-4.7-4.2-7.1z"/><path fill="#fff300" d="M586.6 563.4l-1.2-4.7 .3-3.4 1.3-.6 1.6-.5 3.3 1.2 3.8 1.6 16.6 10.4 12.4 8.5 11.5 7.6 13.6 8.4 0 23.2-11.9-5.2-6.7-3.4-4.9-2.7-4.8-2.8-6.1-4-7.3-5.8-7-6.6-4-4.4-3-3.6-4.9-7.4z"/><path fill="#ffcd00" d="M590.4 566.6l-1.3-4.7 .3-3.4 1.3-.3 1.9-.4 7.1 3.1 12.7 7.6 23.8 15.6 13.6 8.4 0 21.6-10.2-4.4-10.1-5.1-4.8-2.8-6.3-4-3-2.1-4.5-3.5-2.8-2.5-4.3-4.2-4.9-5.2-1.8-2.5-3.9-5.6z"/><path fill="#ffa600" d="M594.5 570l-1.6-4.9 .4-3.2 3.7-.3 9.3 4.2 7.6 4.7 24 15.4 11.9 7.3 0 19.9-8.5-3.6-10.1-5.1-9.7-5.8-4.6-3.1-3-2.3-4.4-3.9-4.3-4.2-5.5-6.6-1.8-2.5z"/><path fill="#ff7e00" d="M597.1 568.6l.4-3.2 2.2 0 2.1 .1 7.7 3.6 4.4 2.4 22.3 14.2 13.6 8.3 0 18-8.5-3.6-10.1-5.1-4.9-2.9-4.8-3.1-4.6-3.3-3-2.4-4.4-4-6.8-7.9-3.9-6.4z"/><path fill="#ff5300" d="M603.5 576.9l-1.9-4.8 .4-3 4.6 .3 5.8 2.7 4.5 2.4 32.9 20.3 0 16-8.5-3.7-8.5-4.2-8.1-5-7.8-5.5-4.5-4.1-4.7-5.2z"/><path fill="#ff2700" d="M608.2 580.3l-2-4.7 .5-2.9 5.1 .6 5.1 2.7 11 6.4 21.9 13.5 0 13.4-8.5-3.5-8.5-4.3-4.9-3-6.4-4.5-4.6-3.7-3.8-3.5z"/><path fill="#fd0000" d="M613.6 584l-2.6-4.9 .6-2.8 3.8 .9 4.5 1.9 11.3 6.6 18.6 11.4 0 10.5-5-2-6.9-3.2-5.1-2.7-4.9-3.1-5.3-3.8-5.7-5.1z"/><path fill="#e30000" d="M622.9 590.1l-5.2-6.4 1.2-2.3 7.4 3.4 4.9 2.5 13.6 8.4 5 3.4 0 6-3.2-1.1-5.3-2.2-5.1-2.5-5-2.9-3.3-2.3z"/></g>
<g opacity="0.85"><path fill="#00009b" d="M596.2 650.1l0-46.6 12.2-5.1 13.3-4.9 13.3-4.3 14.9-4.4 0 40.4-14.8 6.4-13.3 6-13.9 6.6z"/><path fill="#0000b4" d="M596.2 649.5l0-45.6 12.2-5.1 13.3-4.9 13.3-4.4 14.9-4.3 0 39.5-14.8 6.4-13.3 6-13.9 6.6z"/><path fill="#0000cc" d="M596.2 649l0-44.7 12.2-5.1 13.3-4.9 13.3-4.4 14.9-4.4 0 38.7-14.9 6.4-13.3 6-13.8 6.5z"/><path fill="#0000e4" d="M596.2 648.4l0-43.7 12.2-5 13.3-5 13.3-4.4 14.9-4.4 0 37.8-14.9 6.4-13.3 6-13.8 6.5z"/><path fill="#0000fd" d="M596.2 647.8l0-42.7 12.2-5 13.3-5 13.3-4.4 14.9-4.4 0 36.9-14.9 6.4-13.3 5.9-13.8 6.5z"/><path fill="#0022ff" d="M596.2 647.3l0-41.7 12.2-5.1 13.4-5.1 13.3-4.4 14.8-4.4 0 36.1-15.1 6.4-13.3 5.9-13.6 6.4z"/><path fill="#0047ff" d="M596.2 646.6l0-40.6 12.2-5.1 13.4-5.1 13.3-4.4 14.7-4.4 .1 35.1-15.2 6.4-13.2 5.9-13.6 6.4z"/><path fill="#006cff" d="M596.2 645.9l0-39.5 12.2-5.1 13.4-5.1 13.3-4.4 14.8-4.5 0 34.2-15.2 6.4-13.3 5.9-13.6 6.4z"/><path fill="#0096ff" d="M596.2 645.2l0-38.3 12.2-5.1 13.4-5.1 13.5-4.5 14.6-4.4 0 33.1-15.4 6.5-13.1 5.7-13.5 6.3z"/><path fill="#00c4ff" d="M596.2 644.5l0-37.1 12.3-5.1 13.5-5.1 13.3-4.5 14.6-4.5 0 32.1-15.4 6.4-13.1 5.8-13.5 6.2z"/><path fill="#00f1ff" d="M596.2 643.8l0-35.8 12.3-5.2 13.5-5.1 13.3-4.5 14.6-4.5 0 31-15.8 6.5-13.4 5.9-13.1 6z"/><path fill="#24ffe1" d="M596.2 643l0-34.5 12.3-5.2 13.5-5.1 13.4-4.6 14.5-4.5 0 29.9-15.8 6.5-13.6 5.9-13 6z"/><path fill="#58ffb7" d="M596.2 642.2l0-33.2 12.3-5.2 13.5-5.1 13.4-4.6 14.5-4.5 0 28.7-15.9 6.5-13.5 5.8-13 6z"/><path fill="#8cff8c" d="M596.2 641.4l0-31.8 12.3-5.2 13.6-5.2 13.4-4.6 14.3-4.5 .1 27.5-16.1 6.5-13.4 5.8-12.9 5.9z"/><path fill="#b7ff58" d="M596.2 640.4l0-30.1 12.4-5.3 13.6-5.2 13.5-4.6 14.2-4.5 0 26.1-16.1 6.4-13.4 5.7-12.9 5.9z"/><path fill="#e1ff24" d="M596.2 639.4l0-28.4 12.4-5.3 13.6-5.2 13.5-4.7 14.2-4.5 0 24.6-16.2 6.5-13.3 5.6-12.9 5.9z"/><path fill="#fff300" d="M596.2 638.5l0-26.9 12.3-5.2 13.7-5.3 13.6-4.8 14.1-4.4 0 23.2-17.9 7.1-11.9 5-12.6 5.7z"/><path fill="#ffcd00" d="M596.2 637.3l0-25 12.6-5.3 13.9-5.3 13.8-5 13.4-4.2-.1 21.6-16.4 6.5-13.3 5.5-12.7 5.8z"/><path fill="#ffa600" d="M596.2 636.2l0-23 12.6-5.3 14-5.4 13.9-5 13.2-4.3 0 19.9-16.5 6.4-13.3 5.5-12.7 5.7z"/><path fill="#ff7e00" d="M596.2 634.9l0-20.8 12.6-5.3 14-5.5 13.9-5 13.2-4.3 0 18-18.2 7-11.8 4.8-12.5 5.6z"/><path fill="#ff5300" d="M596.2 633.4l0-18.4 12.3-5.2 15.6-6.1 12.9-4.6 12.9-4.3 0 16-18.4 6.9-11.7 4.7-12.4 5.6z"/><path fill="#ff2700" d="M596.2 631.8l0-15.5 13.3-5.5 14.9-5.9 13.6-5 11.9-4 0 13.4-18.8 6.9-11.6 4.6-12.3 5.5z"/><path fill="#fd0000" d="M596.2 629.8l0-12.1 13.4-5.7 15.1-5.9 13.6-5.1 11.5-3.9 .1 10.5-19.9 7.1-10.9 4.3-11.7 5.2z"/><path fill="#e30000" d="M596.2 626.9l0-6.9 36.5-14.7 10.6-4 6.6-2.2 0 6-8.1 2.8-14.4 4.5-8.9 3.3-11.3 5.1z"/></g>
<g><path fill="#00009b" d="M485.2 525l.1-3.8 .5-3 .7-2.3 1-1.5 1.3-.9 1.6-.1 1.8 .6 2.8 1.5 3.8 3.2 5.4 5.4 21.3 23.7 10.2 11 8.4 8.4 9 8.3 6.4 5.4 5 3.9 10.4 7.3 5.5 3.4 5.6 3.1 10.2 4.9 0 46.6-12.1-3.7-9.2-3.4-8.7-3.8-6.7-3.5-8-4.9-6-4.6-5.7-5-6.8-7.2-6.3-7.6-7-9.4-22.2-31.6-3.1-4.7-2.7-4.5-1.8-3.5-1.5-3.6-1.2-3.8-.7-3-1-7.4z"/><path fill="#0000b4" d="M490.4 533.5l-.1-5.1 .2-2.3 .5-2.2 1-2 1.3-1.1 1.1-.4 1.2 .1 1.2 .4 2.4 1.2 4.2 3.4 6.1 5.9 19.7 21.3 10.6 11 8.7 8.3 7.7 6.8 10 7.7 5.1 3.7 5.4 3.5 9.3 5.4 10.2 4.8 0 45.6-10.2-3.1-9.3-3.3-8.8-3.8-6.8-3.4-8-4.9-6.1-4.5-5.8-5-5.5-5.6-4-4.5-3.8-4.7-8.2-11.2-5.4-7.9-9.3-14.4-5.4-9.1-3.4-6.6-2.9-7.6-1.9-7.4-.5-3.3z"/><path fill="#0000cc" d="M495 541.7l-.6-6.6 .1-2.8 .3-2.5 .9-2.1 1.6-1.4 1.5-.1 1.7 .3 2.1 1.1 2.4 1.8 5.4 4.5 5 5 16.3 17.4 8.1 8.1 8.7 8.2 9.4 8.1 10 7.6 8.8 5.9 9.3 5.3 10.2 4.8 0 44.7-10.2-3.2-9.3-3.3-8.8-3.9-6.8-3.5-6.4-3.9-6.2-4.4-5.9-4.9-5.6-5.6-4-4.5-3.8-4.7-8.4-11.4-7.5-11.5-8.3-14.4-4-7.9-2.8-7.1-1.8-5.7z"/><path fill="#0000e4" d="M498.2 540.5l-.1-4.3 .5-2.5 1.2-1.8 2.2-.8 2.2 .7 2.2 1.1 4 2.9 3.9 3.4 17.4 17.9 8.1 8 8.7 8.2 9.4 7.9 10 7.6 8.8 5.9 9.3 5.2 10.2 4.8 0 43.7-10.2-3.2-9.3-3.4-8.8-3.9-6.8-3.5-6.4-4-6.2-4.5-5.9-5-5.6-5.6-6.6-7.8-7.3-10-6.7-10.3-6-10.5-5.4-11-3.2-8-1.1-3.1-1.2-4.6-.8-4z"/><path fill="#0000fd" d="M502.3 550.3l-.9-7.3 .1-3 .6-2.4 1.3-1.4 .8-.3 2.1 .1 2.2 .9 2.4 1.2 3.4 2.7 3.2 2.9 18.2 18.2 8.4 8 7.4 6.7 8 6.5 10.1 7.4 8.9 5.7 9.4 5.1 8.3 3.8 0 42.7-10.2-3.2-7.5-2.7-8.9-3.8-6.8-3.5-6.6-3.9-6.2-4.5-5.9-5-5.7-5.6-5.4-6.2-6.3-8.3-7-10.5-5.4-9-3.9-7.9-3.3-7.7-2.1-5.5-1.8-5.9z"/><path fill="#0022ff" d="M505 551.1l-.4-4.3 0-3.1 .8-2.3 1.6-1.3 2.5-.1 1.9 .7 1.9 1.1 1.9 1.3 3.4 3 17.1 16.6 9.8 9.2 7.6 6.6 6.4 5.1 10.1 7.4 8.9 5.7 9.4 5.1 8.3 3.8 0 41.7-10.2-3.3-7.5-2.7-7.2-3.1-6.8-3.5-6.6-3.9-6.4-4.4-6-5-5.7-5.5-6.8-7.8-6.3-8.5-5.9-9.1-5.4-9.4-4-8.6-3.1-8.2-1.6-5.3-1.1-4.6z"/><path fill="#0047ff" d="M508.4 558l-.9-7.7 0-3.1 .8-2.4 1.6-1.4 .5 0 2.5 .3 1.4 .8 2.1 1.4 4.1 3.4 16.5 15.6 8.5 7.8 7.6 6.4 8 6.3 8.5 6.1 8.9 5.6 9.4 5.1 8.3 3.8 0 40.6-8.3-2.6-9.4-3.5-7.2-3.1-6.8-3.5-6.6-4-6.4-4.5-6-5.1-5.7-5.6-6.4-7.5-5.5-7.5-7.1-11.2-4.4-8-2.5-5.3-2.7-7-1.7-5.5z"/><path fill="#006cff" d="M510.9 561.2l-1-7.9 0-3.2 .8-2.3 1.8-1.2 1.8 .3 1.9 .8 3.5 2.6 5.8 4.9 12.9 12 8.6 7.6 7.7 6.3 6.4 5 8.5 5.9 8.9 5.6 9.4 5 8.3 3.8 0 39.5-8.3-2.6-7.5-2.8-7.3-3.1-6.9-3.5-6.7-3.9-6.4-4.5-6.1-4.9-4.4-4.2-5.6-6.2-5.3-6.8-6.2-9.2-4.7-7.9-3.3-6.3-3.5-7.9-1.9-6z"/><path fill="#0096ff" d="M512.3 558.7l-.2-2.6 .1-3.2 .9-2.3 2.1-.7 3.4 1.5 1.6 1.1 5.3 4.2 17.1 15.2 7.4 6.2 6.2 5 6.6 4.9 8.5 5.8 9.1 5.4 7.5 4 8.3 3.7 0 38.3-8.3-2.6-7.5-2.9-7.3-3.1-6.9-3.5-6.7-4-6.4-4.6-6.1-5.2-4.4-4.3-5.6-6.3-5.3-6.9-5-7.7-4.6-7.9-4.6-9.4-2.1-5.4-2.1-7.1z"/><path fill="#00c4ff" d="M515.9 567.7l-1.1-4.7-.4-4 .1-3.2 1.1-2 2.8 0 2.4 1.3 3.9 2.5 25.3 21.3 7.9 6.2 6.6 4.7 8.6 5.7 7.3 4.3 7.5 3.9 8.3 3.7 0 37.1-8.3-2.7-7.5-2.8-5.5-2.4-7-3.5-5.1-2.9-6.6-4.5-6.2-4.9-4.5-4.1-5.7-6.1-4.1-5.2-4-5.5-4.8-7.6-5-9.2-2.2-4.9-2.2-5.4z"/><path fill="#00f1ff" d="M517.5 566.1l-.5-3.8 .1-3.3 1.4-1.7 3.5 .7 7.3 4.9 13.3 10.9 10.5 8.4 6.4 4.8 6.7 4.6 6.9 4.6 7.3 4.2 7.5 3.9 8.3 3.7 0 35.8-6.4-2.1-7.6-2.8-7.3-3.2-7-3.5-5.1-3-6.6-4.6-4.7-3.7-5.5-5-4.8-5.3-5.5-6.9-3.8-5.4-4-6.7-2.8-5-3.9-8.6-2.3-6.4z"/><path fill="#24ffe1" d="M520.8 571.2l-.9-5.3 .1-3.2 1.7-1.5 4.1 1.2 8.5 5.8 11.2 9.1 9.2 6.9 13.2 9.2 7 4.5 7.3 4.1 7.6 3.7 6.4 2.8 0 34.5-6.4-2.1-7.6-2.9-7.3-3.2-7-3.6-5.1-3.1-4.9-3.4-4.8-3.7-4.6-4.2-5.9-6.2-4.2-5.1-2.7-3.7-4-6.1-2.5-4.4-4.4-8.6-2.7-7z"/><path fill="#58ffb7" d="M523.1 570.4l.1-3.9 1.9-1.3 4.6 1.7 10.1 7 8.7 6.7 7.7 5.7 13.4 8.9 7.1 4.3 5.5 3 7.6 3.8 6.4 2.7 0 33.2-6.4-2.1-7.6-2.9-7.3-3.3-7-3.7-5.1-3.2-4.9-3.5-4.8-3.9-4.6-4.3-4.4-4.6-2.9-3.5-4.2-5.6-4-6.2-4.3-8.1-3.1-7.3-1.8-5.7z"/><path fill="#8cff8c" d="M527.2 578.4l-.9-4.7 .2-3.3 2.2-1.1 5.1 2.1 12.1 8.4 12 8.6 13.4 8.7 7.2 4.2 5.6 2.9 5.7 2.7 6.4 2.7 0 31.8-6.4-2.2-7.6-3-5.5-2.5-7.1-3.6-5.1-3.2-5-3.5-4.8-3.9-4.1-3.6-3.6-3.8-4.4-5.1-3.7-4.9-3.2-5-3-5.2-3.5-7.6z"/><path fill="#b7ff58" d="M530.7 582.4l-1-4.7 .2-3.4 2.5-.9 6 2.8 22.7 15.3 13.8 8.5 11.1 5.8 10.2 4.5 0 30.1-6.4-2.1-5.7-2.3-5.6-2.5-7.2-3.6-5.1-3-3.4-2.3-4.1-3.1-4-3.5-4.7-4.5-4.5-4.9-2.9-3.7-2.8-4-2.8-4.4-4-7.8z"/><path fill="#e1ff24" d="M534.3 586.4l-1.1-4.8 .3-3.3 2.8-.7 7.1 3.4 12.8 8.3 18.7 11.5 11.1 5.7 10.2 4.5 0 28.4-6.4-2.1-5.7-2.3-5.6-2.5-5.4-2.8-6.9-4.1-3.4-2.4-4.9-4-7.5-7-3.4-4-4.4-5.8-2.8-4.5-2.9-5z"/><path fill="#fff300" d="M537 585.6l.3-3.3 3.3-.3 8.3 4 12.2 7.5 17.4 10 9.4 4.6 8.3 3.5 0 26.9-4.4-1.5-5.8-2.2-5.6-2.6-5.5-2.8-5.3-3-3.4-2.2-3.4-2.5-4.9-4-4.8-4.7-3.1-3.5-3.1-3.7-2.8-4.2-2.7-4.3-3-6.6z"/><path fill="#ffcd00" d="M541.2 589.8l.3-3.3 3.8-.1 9.7 4.7 16.3 9.5 7.2 3.8 7.5 3.6 10.2 4.3 0 25-4.4-1.5-5.8-2.3-9.3-4.4-8.8-5.2-3.4-2.4-3.4-2.8-4.9-4.6-3.5-3.7-5.7-7.6-1.5-2.4-2.8-5.6z"/><path fill="#ffa600" d="M547.3 599l-1.7-5.1 .4-3.3 4.4 .2 11.3 5.4 11.4 6.4 7.3 3.7 7.5 3.5 8.3 3.4 0 23-8.3-3.1-7.5-3.4-7.3-4-6.9-4.7-3.4-2.7-3.3-3-4.8-5.4-3.3-4-2.9-4.9z"/><path fill="#ff7e00" d="M552.5 603.2l-2-5.2 .4-3.1 5.2 .6 10.1 4.6 16 8.1 14 5.9 0 20.8-8.3-3.1-7.5-3.7-7.3-4.1-6.7-4.6-3.6-3.3-5.5-5.9z"/><path fill="#ff5300" d="M558.1 607.4l-2.2-5.1 .5-3.1 5.7 .7 18.3 8.6 15.8 6.5 0 18.4-6.4-2.3-7.6-3.6-5.5-3.1-7.1-4.9-3.4-2.7-3.4-3.3z"/><path fill="#ff2700" d="M564.4 611.5l-2.8-5.2 .6-2.9 4 .7 4.6 1.5 11.4 5.1 14 5.6 0 15.5-4.4-1.7-5.8-2.6-5.6-3.1-6.8-4.3-4-3.3-3.4-3.3z"/><path fill="#fd0000" d="M574.5 617.4l-5.4-6.3 1.2-2.5 15.1 4.9 10.8 4.2 0 12.1-4.4-1.7-3.9-1.8-3.8-2.2-3.7-2.4z"/><path fill="#e30000" d="M586 621.3l-4.1-3.4 1.8-2.2 8.1 2.6 4.4 1.7 0 6.9-3.8-1.5-2.6-1.4z"/></g>
</g>
<text x="7" y="23" font-size="31">(<tspan class="i" font-size="27" dx="0.5">a</tspan><tspan dx="1.5">)</tspan></text>
<text x="90.3" y="86" text-anchor="end">150</text>
<text x="90.3" y="122.6" text-anchor="end">100</text>
<text x="90.3" y="158.8" text-anchor="end">50</text>
<text x="90.3" y="194.4" text-anchor="end">0</text>
<text x="144.8" y="224.3" text-anchor="end">500</text>
<text x="199.8" y="241.6" text-anchor="end">1000</text>
<text x="251.3" y="259.8" text-anchor="end">1500</text>
<text x="302.8" y="279" text-anchor="end">2000</text>
<text x="319.7" y="279">0</text>
<text x="370.2" y="262.6">50</text>
<text x="428" y="243.5">100</text>
<text x="475.2" y="229.8">150</text>
<text x="533.8" y="203.3">200</text>
<text class="L" transform="translate(36.3,152) rotate(-90)">10<tspan dy="-9.9" font-size="20.1">6</tspan><tspan dy="9.9"> </tspan>× <tspan class="i">F</tspan></text>
<text class="L i" x="153.5" y="280">Re<tspan dy="6" font-size="20">δ</tspan></text>
<text class="L" x="468.5" y="273.2">10<tspan dy="-9.9" font-size="20.1">6</tspan><tspan dy="9.9"> </tspan>× <tspan class="i">B</tspan></text>
<text x="620.8" y="24" font-size="31">(<tspan class="i" font-size="27" dx="0.5">b</tspan><tspan dx="1.5">)</tspan></text>
<text x="706" y="85.6" text-anchor="end">150</text>
<text x="706" y="121.7" text-anchor="end">100</text>
<text x="706" y="158.2" text-anchor="end">50</text>
<text x="706" y="194.6" text-anchor="end">0</text>
<text x="769" y="226.2" text-anchor="end">500</text>
<text x="823.3" y="243.8" text-anchor="end">1000</text>
<text x="875.8" y="262.3" text-anchor="end">1500</text>
<text x="926.1" y="280.8" text-anchor="end">2000</text>
<text x="936.6" y="279.8">0</text>
<text x="986.2" y="264.3">50</text>
<text x="1045" y="244.6">100</text>
<text x="1092" y="230.3">150</text>
<text x="1150.3" y="203.6">200</text>
<text class="L" transform="translate(653,152) rotate(-90)">10<tspan dy="-9.9" font-size="20.1">6</tspan><tspan dy="9.9"> </tspan>× <tspan class="i">F</tspan></text>
<text class="L i" x="778.8" y="285.3">Re<tspan dy="6" font-size="20">δ</tspan></text>
<text class="L" x="1096.5" y="269.8">10<tspan dy="-9.9" font-size="20.1">6</tspan><tspan dy="9.9"> </tspan>× <tspan class="i">B</tspan></text>
<text x="291.4" y="414.7" font-size="31">(<tspan class="i" font-size="27" dx="0.5">c</tspan><tspan dx="1.5">)</tspan></text>
<text x="374.3" y="500.7" text-anchor="end">200</text>
<text x="374.3" y="543.3" text-anchor="end">100</text>
<text x="374.3" y="585.8" text-anchor="end">0</text>
<text x="433.2" y="617.3" text-anchor="end">500</text>
<text x="487.9" y="634.4" text-anchor="end">1000</text>
<text x="540" y="653" text-anchor="end">1500</text>
<text x="591.9" y="671.6" text-anchor="end">2000</text>
<text x="611" y="670.5">50</text>
<text x="677.5" y="648.4">250</text>
<text x="730.5" y="629.3">450</text>
<text x="794" y="610.7">650</text>
<text class="L" transform="translate(317.6,559.5) rotate(-90)">10<tspan dy="-9.9" font-size="20.1">6</tspan><tspan dy="9.9"> </tspan>× <tspan class="i">F</tspan></text>
<text class="L i" x="437.6" y="673.2">Re<tspan dy="6" font-size="20">δ</tspan></text>
<text class="L" x="740.1" y="669.8">10<tspan dy="-9.9" font-size="20.1">6</tspan><tspan dy="9.9"> </tspan>× <tspan class="i">B</tspan></text>
<rect x="181.3" y="322.7" width="263.2" height="20.100000000000023" fill="url(#jet)"/>
<path d="M225.2 322.7V342.8M269 322.7V342.8M312.9 322.7V342.8M356.8 322.7V342.8M400.6 322.7V342.8" stroke="#000" stroke-opacity="0.4" stroke-width="0.7" fill="none"/>
<text x="181.3" y="369.3" text-anchor="middle">0</text>
<text x="225.2" y="369.3" text-anchor="middle">1</text>
<text x="269" y="369.3" text-anchor="middle">2</text>
<text x="312.9" y="369.3" text-anchor="middle">3</text>
<text x="356.8" y="369.3" text-anchor="middle">4</text>
<text x="400.6" y="369.3" text-anchor="middle">5</text>
<text x="444.5" y="369.3" text-anchor="middle">6</text>
<text x="98.3" y="337">−10<tspan dy="-8.3" font-size="16.8">3</tspan><tspan class="i" dy="8.3" dx="1.5">α</tspan><tspan class="i" dy="5" dx="1" font-size="17">i</tspan></text>
<rect x="806.4" y="322.6" width="250.5000000000001" height="20.099999999999966" fill="url(#jet)"/>
<path d="M848.1 322.6V342.7M889.9 322.6V342.7M931.7 322.6V342.7M973.4 322.6V342.7M1015.2 322.6V342.7" stroke="#000" stroke-opacity="0.4" stroke-width="0.7" fill="none"/>
<text x="811.4" y="369.1" text-anchor="middle">0</text>
<text x="852.1" y="369.1" text-anchor="middle">0.3</text>
<text x="893.4" y="369.1" text-anchor="middle">0.6</text>
<text x="934.7" y="369.1" text-anchor="middle">0.9</text>
<text x="975.9" y="369.1" text-anchor="middle">1.2</text>
<text x="1017.2" y="369.1" text-anchor="middle">1.5</text>
<text x="1057.4" y="369.1" text-anchor="middle">1.8</text>
<text x="726.6" y="337">−10<tspan dy="-8.3" font-size="16.8">3</tspan><tspan class="i" dy="8.3" dx="1.5">α</tspan><tspan class="i" dy="5" dx="1" font-size="17">i</tspan></text>
<rect x="404.2" y="718.8" width="386.00000000000006" height="19.700000000000045" fill="url(#jet)"/>
<path d="M439.3 718.8V738.5M474.4 718.8V738.5M509.5 718.8V738.5M544.6 718.8V738.5M579.7 718.8V738.5M614.7 718.8V738.5M649.8 718.8V738.5M684.9 718.8V738.5M720 718.8V738.5M755.1 718.8V738.5" stroke="#000" stroke-opacity="0.4" stroke-width="0.7" fill="none"/>
<text x="404.2" y="765.7" text-anchor="middle">0</text>
<text x="439.3" y="765.7" text-anchor="middle">1</text>
<text x="474.4" y="765.7" text-anchor="middle">2</text>
<text x="509.5" y="765.7" text-anchor="middle">3</text>
<text x="544.6" y="765.7" text-anchor="middle">4</text>
<text x="579.7" y="765.7" text-anchor="middle">5</text>
<text x="614.7" y="765.7" text-anchor="middle">6</text>
<text x="649.8" y="765.7" text-anchor="middle">7</text>
<text x="684.9" y="765.7" text-anchor="middle">8</text>
<text x="720" y="765.7" text-anchor="middle">9</text>
<text x="755.1" y="765.7" text-anchor="middle">10</text>
<text x="790.2" y="765.7" text-anchor="middle">11</text>
<text x="323" y="732.8">−10<tspan dy="-8.3" font-size="16.8">3</tspan><tspan class="i" dy="8.3" dx="1.5">α</tspan><tspan class="i" dy="5" dx="1" font-size="17">i</tspan></text>
</svg></body></html>
